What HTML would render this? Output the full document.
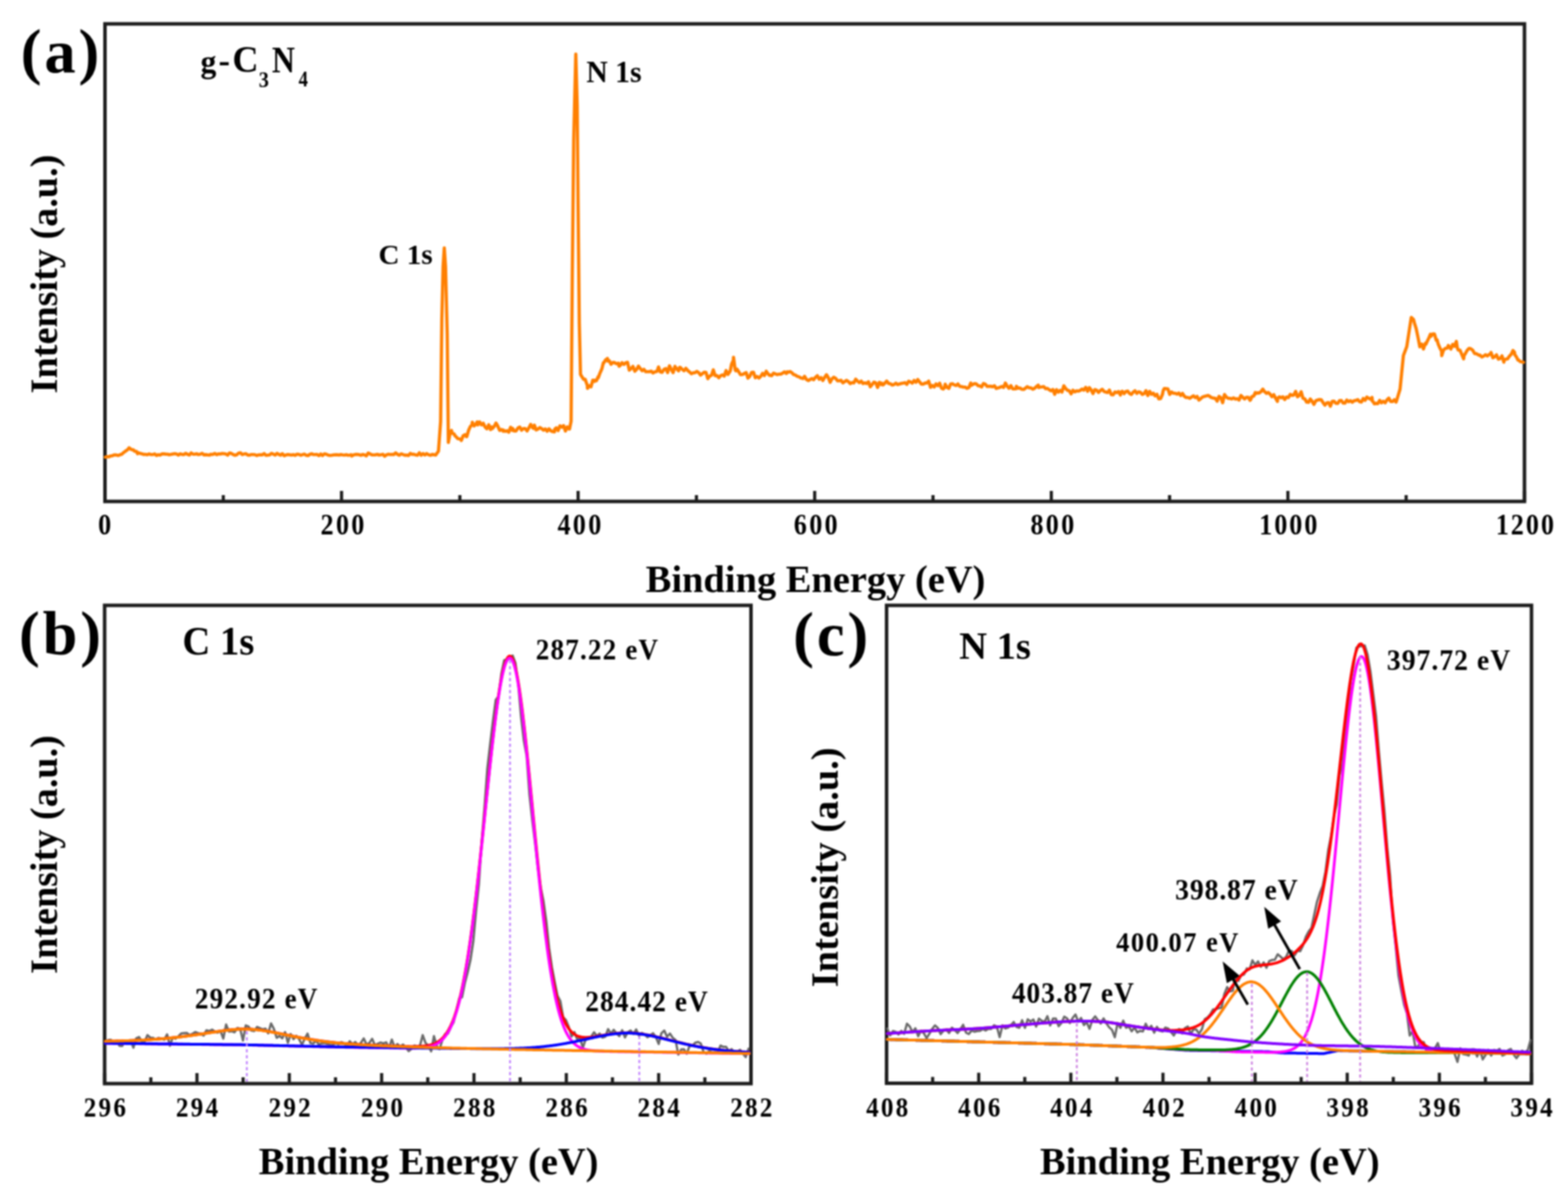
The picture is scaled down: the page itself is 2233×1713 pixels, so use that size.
<!DOCTYPE html>
<html><head><meta charset="utf-8"><title>XPS spectra of g-C3N4</title>
<style>html,body{margin:0;padding:0;background:#fff;overflow:hidden}svg{display:block}</style></head>
<body><svg width="2233" height="1713" viewBox="0 0 2233 1713" style="filter:blur(1px)">
<rect width="2233" height="1713" fill="#fff"/>
<g>
<rect x="149.5" y="34" width="2021.5" height="680" fill="none" stroke="#1c1c1c" stroke-width="5"/>
<line x1="149.5" y1="714" x2="149.5" y2="699" stroke="#1c1c1c" stroke-width="4.5"/>
<line x1="486.4" y1="714" x2="486.4" y2="699" stroke="#1c1c1c" stroke-width="4.5"/>
<line x1="823.3" y1="714" x2="823.3" y2="699" stroke="#1c1c1c" stroke-width="4.5"/>
<line x1="1160.2" y1="714" x2="1160.2" y2="699" stroke="#1c1c1c" stroke-width="4.5"/>
<line x1="1497.2" y1="714" x2="1497.2" y2="699" stroke="#1c1c1c" stroke-width="4.5"/>
<line x1="1834.1" y1="714" x2="1834.1" y2="699" stroke="#1c1c1c" stroke-width="4.5"/>
<line x1="2171.0" y1="714" x2="2171.0" y2="699" stroke="#1c1c1c" stroke-width="4.5"/>
<line x1="318.0" y1="714" x2="318.0" y2="705" stroke="#1c1c1c" stroke-width="4.5"/>
<line x1="654.9" y1="714" x2="654.9" y2="705" stroke="#1c1c1c" stroke-width="4.5"/>
<line x1="991.8" y1="714" x2="991.8" y2="705" stroke="#1c1c1c" stroke-width="4.5"/>
<line x1="1328.7" y1="714" x2="1328.7" y2="705" stroke="#1c1c1c" stroke-width="4.5"/>
<line x1="1665.6" y1="714" x2="1665.6" y2="705" stroke="#1c1c1c" stroke-width="4.5"/>
<line x1="2002.5" y1="714" x2="2002.5" y2="705" stroke="#1c1c1c" stroke-width="4.5"/>
<polyline points="150.0,651.0 152.6,650.2 155.2,650.4 157.8,649.2 160.0,649.0 160.4,648.6 163.0,647.7 165.6,647.9 168.2,648.6 170.8,647.6 172.0,647.0 173.4,646.9 176.0,644.4 178.6,642.6 179.0,642.0 181.2,640.9 183.8,637.7 185.0,638.5 186.4,639.8 189.0,640.6 190.0,640.5 191.6,642.4 194.2,642.8 196.0,646.0 196.8,644.5 199.4,645.6 202.0,646.2 204.6,647.2 205.0,647.0 207.2,647.0 209.8,647.5 212.4,646.4 215.0,647.3 217.6,647.3 220.2,646.4 222.8,648.5 225.4,647.5 228.0,648.0 230.6,646.4 233.2,646.3 235.8,646.6 238.4,646.8 241.0,647.5 243.6,647.1 246.2,646.5 248.8,646.0 251.4,646.4 254.0,648.0 256.6,646.2 259.2,647.1 261.8,647.3 264.4,645.5 267.0,646.9 269.6,648.0 272.2,645.0 274.8,646.6 277.4,646.8 280.0,646.1 282.6,647.3 285.2,646.8 287.8,645.5 290.4,647.6 293.0,647.4 295.6,647.7 298.2,648.1 300.0,646.8 300.8,647.1 303.4,646.9 306.0,645.7 308.6,647.4 311.2,646.3 313.8,646.5 316.4,645.7 319.0,646.0 321.6,646.4 324.2,648.1 326.8,645.1 329.4,645.6 332.0,647.2 334.6,648.3 337.2,647.5 339.8,645.3 342.4,644.7 345.0,647.3 347.6,646.4 350.2,646.0 352.8,647.9 355.4,648.1 358.0,647.2 360.6,647.3 363.2,647.5 365.8,648.6 368.4,647.7 371.0,647.6 373.6,647.7 376.2,645.8 378.8,648.3 381.4,648.1 384.0,647.7 386.6,645.5 389.2,646.7 391.8,648.0 394.4,645.6 397.0,647.1 399.6,648.2 400.0,647.3 402.2,646.1 404.8,648.8 407.4,647.8 410.0,647.2 412.6,647.6 415.2,647.9 417.8,647.4 420.4,648.4 423.0,646.8 425.6,647.0 428.2,648.3 430.8,647.4 433.4,646.6 436.0,648.2 438.6,648.7 441.2,647.0 443.8,646.1 446.4,647.3 449.0,647.3 451.6,647.1 454.2,648.7 456.8,646.5 459.4,648.6 462.0,646.3 464.6,646.7 467.2,648.0 469.8,648.5 472.4,648.2 475.0,647.8 477.6,647.6 480.2,647.6 482.8,648.0 485.4,647.3 488.0,647.7 490.6,648.0 493.2,647.5 495.8,648.2 498.4,648.0 500.0,647.5 501.0,649.3 503.6,647.8 506.2,647.1 508.8,647.1 511.4,647.5 514.0,648.3 516.6,647.1 519.2,647.8 521.8,649.1 524.4,645.1 527.0,646.4 529.6,647.6 532.2,647.8 534.8,647.6 537.4,647.0 540.0,648.0 542.6,647.6 545.2,646.9 547.8,649.5 550.4,647.7 553.0,646.8 555.6,647.2 558.2,647.1 560.8,647.3 563.4,644.9 566.0,646.9 568.6,648.2 571.2,646.2 573.8,647.2 576.4,648.1 579.0,648.0 581.6,648.6 584.2,645.7 586.8,646.9 589.4,646.9 592.0,647.8 594.6,648.2 597.2,644.8 599.8,648.2 600.0,647.2 602.4,645.9 605.0,647.8 607.6,645.9 610.2,647.4 612.8,648.3 615.4,647.1 618.0,647.4 620.6,647.9 621.0,647.2 623.2,644.2 624.4,642.5 625.8,623.3 627.5,600.0 628.4,523.2 629.2,455.0 631.0,380.0 632.7,353.0 633.6,366.5 634.5,380.0 636.2,448.0 636.9,476.0 638.0,580.0 638.5,630.0 638.8,628.4 640.0,622.0 641.4,614.9 643.0,613.0 644.0,616.8 646.6,617.8 648.0,620.6 649.2,621.6 651.8,624.6 654.4,625.0 656.7,625.8 657.0,627.2 659.6,620.4 662.2,618.9 664.0,621.7 664.8,621.6 667.4,612.5 670.0,607.1 672.3,605.0 672.6,601.2 675.2,606.5 677.8,603.7 679.6,600.8 680.4,605.0 683.0,600.8 685.6,604.9 685.8,605.0 688.2,602.7 690.8,608.0 693.4,610.6 696.0,604.9 698.6,611.6 700.0,608.0 701.2,610.3 703.8,607.1 706.4,602.4 709.0,607.0 711.6,612.9 714.2,611.5 716.6,614.0 716.8,612.4 719.4,614.2 722.0,613.4 724.6,615.4 727.2,608.3 729.8,612.9 730.0,610.0 732.4,613.7 735.0,613.6 737.6,609.5 740.2,608.1 742.8,612.5 745.4,610.3 748.0,610.3 750.6,613.6 753.2,609.3 755.8,604.3 758.4,609.0 760.0,610.0 761.0,605.4 763.6,612.2 766.2,611.0 768.8,608.8 771.4,610.4 774.0,612.5 776.6,610.8 779.2,614.0 781.8,610.6 784.4,613.4 787.0,614.6 789.6,615.0 790.0,611.0 792.2,609.3 794.8,613.2 797.4,606.3 800.0,608.3 802.6,606.1 805.2,613.7 807.8,607.9 810.4,611.0 811.0,611.0 813.0,601.4 813.3,600.0 815.0,393.0 815.6,335.1 817.0,200.0 818.2,150.8 820.0,77.0 820.8,106.2 822.0,150.0 823.3,293.0 823.4,302.8 825.0,460.0 826.0,502.9 826.7,533.0 828.6,536.3 831.2,540.3 833.3,540.0 833.8,541.4 836.4,548.7 836.7,553.0 839.0,549.3 841.6,550.8 844.2,541.4 846.7,543.0 846.8,541.4 849.4,542.1 851.7,536.7 852.0,538.1 854.6,530.8 855.0,530.0 857.2,525.0 859.2,516.7 859.8,516.9 862.4,512.5 865.0,510.5 865.6,514.2 867.6,513.5 870.2,518.6 872.8,516.1 875.4,516.4 878.0,517.9 880.6,517.2 881.6,521.5 883.2,520.4 885.8,516.4 888.4,518.9 891.0,516.7 893.6,515.8 896.0,526.3 896.2,527.1 898.8,524.8 901.4,521.7 904.0,528.5 906.6,526.1 909.2,521.3 911.8,524.8 914.4,527.8 917.0,526.0 919.6,529.3 922.2,529.3 924.8,529.2 927.4,528.5 930.0,531.1 932.6,529.5 935.2,529.1 936.0,528.0 937.8,522.5 940.4,529.6 943.0,530.2 945.6,525.8 948.2,524.9 950.8,530.5 953.4,520.9 956.0,526.0 958.6,530.5 961.2,521.7 963.8,525.4 966.4,528.0 967.9,523.0 969.0,523.2 971.6,526.0 974.2,527.9 976.8,524.5 979.4,527.6 982.0,529.6 984.6,532.1 987.0,531.0 987.2,530.9 989.8,530.7 992.4,528.9 995.0,530.7 997.6,534.0 1000.2,532.2 1002.8,530.0 1005.4,530.3 1008.0,539.2 1010.6,535.6 1013.2,534.5 1015.8,526.6 1018.4,534.9 1021.0,534.7 1023.6,537.9 1026.2,535.0 1028.8,533.9 1031.4,535.6 1031.8,534.3 1034.0,527.7 1036.6,533.2 1039.2,529.4 1040.0,528.0 1041.8,518.7 1044.4,512.9 1044.6,508.7 1047.0,526.8 1048.0,528.0 1049.6,525.7 1052.2,529.6 1054.0,532.7 1054.8,533.5 1057.4,533.3 1060.0,531.9 1062.6,530.6 1065.2,538.4 1067.8,535.8 1070.4,530.3 1073.0,530.1 1075.6,537.8 1078.2,536.1 1080.8,538.3 1083.4,535.9 1086.0,531.7 1088.6,534.7 1091.2,528.7 1093.8,532.4 1095.7,534.3 1096.4,534.0 1099.0,535.0 1101.6,531.4 1104.2,532.4 1106.8,533.4 1109.4,532.7 1112.0,532.8 1114.6,531.3 1117.2,529.5 1119.8,531.8 1121.3,529.5 1122.4,530.1 1125.0,529.0 1127.6,530.6 1130.2,533.3 1132.8,534.1 1135.4,535.9 1138.0,536.6 1140.6,538.2 1143.2,538.5 1143.6,539.0 1145.8,535.9 1148.4,540.2 1151.0,541.9 1153.6,540.4 1156.2,539.0 1158.8,540.7 1161.4,537.2 1164.0,535.0 1166.6,540.0 1169.2,537.6 1171.8,541.8 1174.4,537.4 1177.0,533.6 1179.6,537.7 1182.2,544.3 1184.8,539.5 1187.4,537.1 1190.0,538.7 1191.6,540.7 1192.6,542.1 1195.2,542.2 1197.8,541.6 1200.4,545.1 1203.0,543.3 1205.6,541.7 1208.2,543.4 1210.8,546.3 1213.4,544.8 1216.0,545.1 1218.6,540.0 1221.2,542.6 1223.8,544.9 1226.4,542.6 1229.0,546.2 1231.6,545.2 1234.2,546.2 1236.8,543.6 1239.4,550.7 1242.0,547.6 1244.6,544.1 1247.2,545.1 1249.8,551.6 1252.4,544.4 1255.0,547.6 1255.5,545.5 1257.6,548.0 1260.2,545.5 1262.8,542.6 1265.4,546.0 1268.0,546.4 1270.6,548.3 1273.2,547.5 1275.8,545.6 1278.4,547.6 1281.0,546.8 1283.6,546.0 1286.2,545.6 1288.8,544.9 1291.4,547.2 1294.0,542.9 1296.6,543.9 1299.2,545.5 1301.8,541.8 1304.4,544.4 1307.0,540.5 1309.6,543.8 1312.2,546.9 1314.8,546.9 1317.4,545.4 1319.4,545.5 1320.0,545.1 1322.6,542.8 1325.2,551.5 1327.8,548.9 1330.4,551.0 1333.0,546.7 1335.6,549.1 1338.2,545.7 1340.8,552.8 1343.4,553.8 1345.0,551.9 1346.0,547.1 1348.6,551.5 1351.2,553.0 1353.8,546.8 1356.4,546.4 1359.0,548.1 1361.6,548.9 1364.2,546.8 1366.8,550.2 1369.4,550.5 1372.0,551.2 1374.6,551.2 1377.2,553.0 1379.8,551.9 1382.4,545.5 1383.4,548.7 1385.0,547.6 1387.6,546.4 1390.2,546.5 1392.8,549.2 1395.4,549.6 1398.0,551.0 1400.6,546.0 1403.2,547.1 1405.8,550.3 1408.4,550.1 1411.0,550.0 1413.6,550.8 1416.2,549.3 1418.8,553.1 1421.4,552.4 1424.0,551.5 1426.6,550.3 1429.2,551.7 1431.8,545.5 1434.4,550.1 1437.0,552.8 1439.6,549.2 1442.2,553.6 1444.8,553.7 1447.3,553.5 1447.4,550.1 1450.0,552.7 1452.6,552.5 1455.2,554.3 1457.8,554.5 1460.4,552.8 1463.0,550.6 1465.6,552.2 1468.2,552.3 1470.8,554.2 1473.4,552.9 1476.0,550.3 1478.6,548.5 1479.3,551.9 1481.2,551.3 1483.8,550.9 1486.4,550.5 1489.0,553.4 1491.6,553.0 1494.2,555.0 1496.8,556.5 1499.4,554.7 1500.0,555.8 1502.0,561.5 1504.6,554.8 1507.2,558.3 1509.8,555.8 1512.4,558.2 1515.0,549.4 1517.6,553.3 1520.2,555.7 1522.8,556.5 1525.4,560.8 1528.0,555.7 1530.6,558.0 1533.2,556.6 1535.8,557.0 1538.4,555.8 1541.0,554.0 1543.6,555.6 1546.2,551.6 1548.0,554.2 1548.8,557.2 1551.4,552.0 1554.0,555.4 1556.6,560.4 1559.2,554.8 1561.8,555.6 1564.4,558.8 1567.0,556.2 1569.6,554.3 1572.2,557.3 1574.8,558.3 1577.4,558.9 1580.0,555.5 1582.6,562.0 1585.2,562.1 1587.8,558.2 1590.4,559.1 1593.0,557.6 1595.6,562.5 1595.9,559.0 1598.2,557.1 1600.8,560.5 1603.4,557.5 1606.0,556.9 1608.6,560.3 1611.2,561.7 1613.8,558.3 1616.4,556.5 1619.0,560.1 1621.6,557.9 1624.2,558.7 1626.8,561.6 1629.4,560.5 1632.0,556.3 1634.6,563.2 1637.2,557.4 1637.4,557.4 1639.8,561.4 1642.4,559.9 1645.0,563.6 1647.6,561.5 1650.2,568.0 1652.8,567.6 1655.4,561.7 1656.6,556.0 1658.0,553.4 1660.6,553.4 1663.2,553.8 1665.8,561.6 1668.4,558.2 1671.0,559.9 1673.6,560.0 1676.2,561.3 1678.8,559.6 1681.4,563.1 1684.0,560.2 1686.6,564.3 1689.2,566.0 1691.8,566.0 1694.4,567.1 1697.0,565.3 1699.6,563.6 1702.2,566.2 1704.8,564.5 1707.4,569.6 1710.0,567.6 1712.6,565.3 1715.2,564.4 1717.8,563.8 1720.4,563.1 1723.0,564.5 1723.7,565.4 1725.6,566.2 1728.2,566.9 1730.8,567.2 1733.4,571.2 1736.0,564.3 1738.6,566.3 1741.2,573.4 1743.8,561.8 1746.4,565.4 1749.0,567.2 1751.6,567.3 1754.2,568.1 1756.8,566.6 1759.4,568.3 1762.0,567.7 1764.6,569.6 1767.2,563.1 1769.8,565.7 1772.4,568.1 1775.0,565.7 1777.6,565.8 1780.2,570.1 1781.3,568.6 1782.8,564.7 1785.4,564.0 1787.7,559.0 1788.0,560.8 1790.6,559.4 1793.2,559.6 1795.8,557.7 1798.4,554.1 1800.5,557.4 1801.0,557.6 1803.6,560.1 1806.2,558.9 1808.8,561.3 1811.4,564.8 1814.0,562.0 1816.6,567.1 1819.2,571.5 1819.6,567.0 1821.8,565.2 1824.4,566.4 1827.0,565.1 1829.6,568.9 1832.2,565.3 1834.8,566.2 1837.4,561.7 1840.0,562.9 1842.6,562.4 1845.2,557.4 1847.8,565.0 1850.4,563.1 1851.6,560.6 1853.0,557.9 1855.6,567.1 1858.2,568.0 1860.8,572.5 1861.2,571.8 1863.4,572.8 1866.0,568.2 1868.6,571.5 1871.2,575.8 1873.8,570.7 1876.4,569.7 1879.0,568.9 1881.6,569.3 1884.2,573.3 1886.8,576.8 1889.4,573.7 1892.0,573.3 1894.6,578.4 1897.2,571.6 1899.8,571.3 1902.4,574.3 1905.0,574.5 1907.6,570.6 1910.2,570.3 1912.8,574.0 1915.4,574.0 1915.5,573.4 1918.0,569.7 1920.6,571.9 1923.2,570.6 1925.8,572.6 1928.4,570.6 1931.0,570.2 1933.6,569.0 1936.2,572.0 1938.8,572.4 1941.4,567.5 1944.0,570.0 1946.6,565.5 1949.2,567.1 1951.8,568.3 1953.9,566.0 1954.4,571.2 1957.0,573.8 1957.1,575.0 1959.6,574.4 1962.2,574.7 1964.8,570.1 1967.4,573.5 1970.0,571.4 1972.6,573.6 1975.2,569.5 1977.8,566.9 1980.4,571.6 1983.0,571.8 1985.6,569.3 1988.2,572.5 1989.0,570.2 1990.8,564.2 1993.4,555.5 1993.8,554.2 1996.0,532.2 1998.6,506.3 2001.2,499.4 2003.4,493.5 2003.8,490.9 2006.4,474.0 2009.0,457.2 2009.8,452.0 2011.6,453.7 2013.0,455.0 2014.2,459.6 2016.8,468.0 2019.4,480.4 2022.0,493.8 2022.6,492.0 2024.6,489.9 2027.2,496.9 2029.8,488.9 2030.6,490.3 2032.4,486.3 2035.0,480.9 2037.0,476.0 2037.6,479.1 2040.2,475.6 2042.8,475.6 2045.4,484.5 2046.6,484.0 2048.0,489.5 2050.6,495.6 2053.0,500.0 2053.2,506.4 2055.8,498.2 2058.4,496.1 2061.0,495.7 2062.6,492.0 2063.6,493.2 2066.2,497.0 2068.8,490.4 2071.4,493.1 2074.0,486.1 2075.3,495.0 2076.6,498.5 2079.2,498.6 2081.8,504.9 2084.4,511.0 2085.0,506.3 2087.0,503.2 2089.6,498.7 2091.3,496.7 2092.2,496.0 2094.8,496.7 2097.4,498.8 2100.0,503.5 2102.6,503.6 2105.2,505.2 2107.3,506.3 2107.8,505.8 2110.4,508.3 2113.0,507.0 2115.6,505.1 2118.2,506.9 2120.8,504.6 2123.3,504.7 2123.4,501.9 2126.0,509.4 2128.6,507.9 2131.2,505.3 2133.8,511.4 2136.4,510.5 2139.0,506.8 2141.6,515.7 2142.5,512.0 2144.2,511.6 2146.8,511.1 2149.4,507.4 2152.0,504.7 2154.6,499.2 2156.8,501.5 2157.2,504.9 2159.8,508.6 2161.6,512.7 2162.4,512.3 2165.0,514.9 2167.6,515.3 2169.6,515.9" fill="none" stroke="#ff7f00" stroke-width="4.6" stroke-linejoin="round" stroke-linecap="round" />
<text x="29.58" y="103.20" style="font-family:'Liberation Serif','Times New Roman',serif;font-weight:bold;font-size:89px;letter-spacing:4px" fill="#000">(a)</text>
<text transform="translate(285.42,102.83) scale(0.9601,1)" style="font-family:'Liberation Serif','Times New Roman',serif;font-weight:bold;font-size:47.14px" fill="#000">g</text>
<text transform="translate(311.24,102.98) scale(0.9130,1)" style="font-family:'Liberation Serif','Times New Roman',serif;font-weight:bold;font-size:53.50px" fill="#000">-</text>
<text transform="translate(331.03,101.97) scale(0.9668,1)" style="font-family:'Liberation Serif','Times New Roman',serif;font-weight:bold;font-size:53.27px" fill="#000">C</text>
<text transform="translate(368.50,123.59) scale(0.9451,1)" style="font-family:'Liberation Serif','Times New Roman',serif;font-weight:bold;font-size:30.65px" fill="#000">3</text>
<text transform="translate(387.19,102.50) scale(0.8476,1)" style="font-family:'Liberation Serif','Times New Roman',serif;font-weight:bold;font-size:53.52px" fill="#000">N</text>
<text transform="translate(425.13,123.00) scale(0.8631,1)" style="font-family:'Liberation Serif','Times New Roman',serif;font-weight:bold;font-size:30.70px" fill="#000">4</text>
<text transform="translate(539.01,375.99) scale(1.0215,1)" style="font-family:'Liberation Serif','Times New Roman',serif;font-weight:bold;font-size:40.62px" fill="#000">C 1s</text>
<text transform="translate(834.95,117.15) scale(0.9426,1)" style="font-family:'Liberation Serif','Times New Roman',serif;font-weight:bold;font-size:44.93px" fill="#000">N 1s</text>
<text transform="translate(139.75,761.30) scale(0.8900,1)" style="font-family:'Liberation Serif','Times New Roman',serif;font-weight:bold;font-size:41.70px;letter-spacing:0.000px" fill="#000">0</text>
<text transform="translate(456.58,761.30) scale(0.8900,1)" style="font-family:'Liberation Serif','Times New Roman',serif;font-weight:bold;font-size:41.70px;letter-spacing:3.659px" fill="#000">200</text>
<text transform="translate(793.96,761.30) scale(0.8900,1)" style="font-family:'Liberation Serif','Times New Roman',serif;font-weight:bold;font-size:41.70px;letter-spacing:3.731px" fill="#000">400</text>
<text transform="translate(1130.55,761.30) scale(0.8900,1)" style="font-family:'Liberation Serif','Times New Roman',serif;font-weight:bold;font-size:41.70px;letter-spacing:3.680px" fill="#000">600</text>
<text transform="translate(1467.47,761.30) scale(0.8900,1)" style="font-family:'Liberation Serif','Times New Roman',serif;font-weight:bold;font-size:41.70px;letter-spacing:3.680px" fill="#000">800</text>
<text transform="translate(1793.21,761.30) scale(0.8900,1)" style="font-family:'Liberation Serif','Times New Roman',serif;font-weight:bold;font-size:41.70px;letter-spacing:3.233px" fill="#000">1000</text>
<text transform="translate(2130.13,761.30) scale(0.8900,1)" style="font-family:'Liberation Serif','Times New Roman',serif;font-weight:bold;font-size:41.70px;letter-spacing:3.233px" fill="#000">1200</text>
<text x="919.62" y="843.30" style="font-family:'Liberation Serif','Times New Roman',serif;font-weight:bold;font-size:54.75px;letter-spacing:0px" fill="#000">Binding Energy (eV)</text>
<text transform="translate(80.50,560.15) rotate(-90)" style="font-family:'Liberation Serif','Times New Roman',serif;font-weight:bold;font-size:54.4px" fill="#000">Intensity (a.u.)</text>
<rect x="149" y="862" width="920.5" height="681" fill="none" stroke="#1c1c1c" stroke-width="5"/>
<line x1="149.0" y1="1543" x2="149.0" y2="1528" stroke="#1c1c1c" stroke-width="4.5"/>
<line x1="280.5" y1="1543" x2="280.5" y2="1528" stroke="#1c1c1c" stroke-width="4.5"/>
<line x1="412.0" y1="1543" x2="412.0" y2="1528" stroke="#1c1c1c" stroke-width="4.5"/>
<line x1="543.5" y1="1543" x2="543.5" y2="1528" stroke="#1c1c1c" stroke-width="4.5"/>
<line x1="675.0" y1="1543" x2="675.0" y2="1528" stroke="#1c1c1c" stroke-width="4.5"/>
<line x1="806.5" y1="1543" x2="806.5" y2="1528" stroke="#1c1c1c" stroke-width="4.5"/>
<line x1="938.0" y1="1543" x2="938.0" y2="1528" stroke="#1c1c1c" stroke-width="4.5"/>
<line x1="1069.5" y1="1543" x2="1069.5" y2="1528" stroke="#1c1c1c" stroke-width="4.5"/>
<line x1="214.8" y1="1543" x2="214.8" y2="1534" stroke="#1c1c1c" stroke-width="4.5"/>
<line x1="346.2" y1="1543" x2="346.2" y2="1534" stroke="#1c1c1c" stroke-width="4.5"/>
<line x1="477.8" y1="1543" x2="477.8" y2="1534" stroke="#1c1c1c" stroke-width="4.5"/>
<line x1="609.2" y1="1543" x2="609.2" y2="1534" stroke="#1c1c1c" stroke-width="4.5"/>
<line x1="740.8" y1="1543" x2="740.8" y2="1534" stroke="#1c1c1c" stroke-width="4.5"/>
<line x1="872.2" y1="1543" x2="872.2" y2="1534" stroke="#1c1c1c" stroke-width="4.5"/>
<line x1="1003.8" y1="1543" x2="1003.8" y2="1534" stroke="#1c1c1c" stroke-width="4.5"/>
<polyline points="150.0,1485.6 154.0,1481.0 158.0,1480.7 162.0,1485.4 166.0,1481.8 170.0,1489.1 174.0,1489.4 178.0,1482.1 182.0,1482.7 186.0,1481.3 190.0,1491.9 194.0,1478.5 198.0,1476.7 202.0,1483.3 206.0,1483.3 210.0,1474.0 214.0,1477.5 218.0,1477.9 222.0,1480.3 226.0,1477.9 230.0,1479.3 234.0,1480.5 238.0,1472.8 242.0,1489.0 246.0,1477.3 250.0,1479.1 254.0,1475.6 258.0,1471.7 262.0,1471.1 266.0,1470.9 270.0,1473.7 274.0,1472.2 278.0,1469.6 282.0,1471.0 286.0,1472.1 290.0,1474.6 294.0,1467.1 298.0,1468.1 302.0,1466.2 306.0,1468.8 310.0,1470.5 314.0,1467.9 318.0,1478.9 322.0,1458.8 326.0,1468.9 330.0,1468.3 334.0,1469.9 338.0,1463.8 342.0,1464.9 346.0,1481.7 350.0,1460.1 354.0,1461.8 358.0,1467.5 362.0,1468.1 366.0,1462.3 370.0,1463.9 374.0,1465.6 378.0,1464.7 382.0,1471.3 386.0,1457.3 390.0,1465.1 394.0,1477.8 398.0,1475.1 402.0,1478.5 406.0,1469.6 410.0,1484.8 414.0,1472.4 418.0,1479.7 422.0,1474.9 426.0,1479.7 430.0,1487.6 434.0,1479.1 438.0,1471.8 442.0,1485.1 446.0,1486.2 450.0,1481.9 454.0,1487.2 458.0,1485.8 462.0,1485.3 466.0,1486.4 470.0,1488.0 474.0,1487.6 478.0,1485.5 482.0,1487.2 486.0,1483.9 490.0,1485.7 494.0,1490.8 498.0,1482.7 502.0,1487.1 506.0,1483.8 510.0,1488.4 514.0,1484.9 518.0,1478.7 522.0,1487.4 526.0,1485.1 530.0,1479.2 534.0,1488.6 538.0,1486.1 542.0,1484.4 546.0,1485.8 550.0,1484.1 554.0,1492.1 558.0,1480.3 562.0,1491.2 566.0,1486.6 570.0,1490.1 574.0,1487.4 578.0,1491.6 582.0,1496.8 586.0,1493.5 590.0,1488.9 594.0,1489.9 598.0,1489.1 602.0,1474.0 606.0,1485.1 610.0,1488.6 614.0,1497.0 618.0,1475.4 622.0,1489.2 626.0,1493.9 630.0,1480.9 634.0,1472.4 638.0,1471.7 642.0,1462.5 646.0,1455.7 650.0,1438.6 654.0,1421.8 658.0,1420.0 662.0,1399.9 666.0,1384.6 670.0,1366.9 674.0,1340.8 678.0,1297.0 682.0,1259.1 686.0,1197.7 690.0,1149.2 694.0,1094.4 698.0,1059.6 702.0,1026.6 706.0,996.5 710.0,991.5 714.0,959.3 718.0,940.1 722.0,939.1 726.0,937.6 730.0,933.4 734.0,943.8 738.0,974.4 742.0,1020.2 746.0,1054.8 750.0,1076.4 754.0,1131.6 758.0,1168.1 762.0,1200.5 766.0,1236.7 770.0,1263.5 774.0,1283.1 778.0,1311.7 782.0,1350.0 786.0,1377.2 790.0,1398.3 794.0,1418.1 798.0,1425.4 802.0,1448.4 806.0,1452.7 810.0,1462.4 814.0,1475.9 818.0,1469.6 822.0,1480.0 826.0,1477.5 830.0,1492.1 834.0,1480.0 838.0,1479.5 842.0,1476.0 846.0,1469.9 850.0,1475.3 854.0,1471.8 858.0,1477.5 862.0,1476.2 866.0,1465.4 870.0,1471.8 874.0,1466.4 878.0,1471.5 882.0,1475.4 886.0,1466.9 890.0,1477.3 894.0,1469.9 898.0,1467.3 902.0,1472.3 906.0,1465.9 910.0,1474.9 914.0,1470.9 918.0,1472.8 922.0,1477.0 926.0,1474.3 930.0,1471.2 934.0,1476.6 938.0,1486.5 942.0,1471.1 946.0,1467.5 950.0,1476.3 954.0,1471.7 958.0,1477.7 962.0,1480.7 966.0,1501.7 970.0,1494.4 974.0,1494.0 978.0,1500.4 982.0,1489.4 986.0,1489.2 990.0,1484.9 994.0,1483.7 998.0,1485.9 1002.0,1497.9 1006.0,1500.4 1010.0,1496.5 1014.0,1498.5 1018.0,1498.0 1022.0,1499.3 1026.0,1488.8 1030.0,1490.7 1034.0,1490.6 1038.0,1496.6 1042.0,1493.9 1046.0,1500.4 1050.0,1497.7 1054.0,1494.9 1058.0,1500.5 1062.0,1505.3 1066.0,1493.2" fill="none" stroke="#686868" stroke-width="3.2" stroke-linejoin="round" stroke-linecap="round" />
<polyline points="150.0,1482.7 151.0,1482.7 152.0,1482.7 153.0,1482.6 154.0,1482.6 155.0,1482.6 156.0,1482.6 157.0,1482.6 158.0,1482.5 159.0,1482.5 160.0,1482.5 161.0,1482.5 162.0,1482.5 163.0,1482.4 164.0,1482.4 165.0,1482.4 166.0,1482.4 167.0,1482.3 168.0,1482.3 169.0,1482.3 170.0,1482.3 171.0,1482.2 172.0,1482.2 173.0,1482.2 174.0,1482.1 175.0,1482.1 176.0,1482.1 177.0,1482.1 178.0,1482.0 179.0,1482.0 180.0,1482.0 181.0,1481.9 182.0,1481.9 183.0,1481.9 184.0,1481.8 185.0,1481.8 186.0,1481.7 187.0,1481.7 188.0,1481.7 189.0,1481.6 190.0,1481.6 191.0,1481.5 192.0,1481.5 193.0,1481.5 194.0,1481.4 195.0,1481.4 196.0,1481.3 197.0,1481.3 198.0,1481.2 199.0,1481.2 200.0,1481.1 201.0,1481.1 202.0,1481.0 203.0,1481.0 204.0,1480.9 205.0,1480.9 206.0,1480.8 207.0,1480.8 208.0,1480.7 209.0,1480.6 210.0,1480.6 211.0,1480.5 212.0,1480.5 213.0,1480.4 214.0,1480.3 215.0,1480.3 216.0,1480.2 217.0,1480.1 218.0,1480.1 219.0,1480.0 220.0,1479.9 221.0,1479.9 222.0,1479.8 223.0,1479.7 224.0,1479.6 225.0,1479.6 226.0,1479.5 227.0,1479.4 228.0,1479.3 229.0,1479.2 230.0,1479.1 231.0,1479.1 232.0,1479.0 233.0,1478.9 234.0,1478.8 235.0,1478.7 236.0,1478.6 237.0,1478.5 238.0,1478.4 239.0,1478.3 240.0,1478.2 241.0,1478.1 242.0,1478.0 243.0,1477.9 244.0,1477.8 245.0,1477.7 246.0,1477.6 247.0,1477.5 248.0,1477.4 249.0,1477.3 250.0,1477.2 251.0,1477.1 252.0,1477.0 253.0,1476.9 254.0,1476.8 255.0,1476.6 256.0,1476.5 257.0,1476.4 258.0,1476.3 259.0,1476.2 260.0,1476.0 261.0,1475.9 262.0,1475.8 263.0,1475.7 264.0,1475.5 265.0,1475.4 266.0,1475.3 267.0,1475.1 268.0,1475.0 269.0,1474.9 270.0,1474.7 271.0,1474.6 272.0,1474.5 273.0,1474.3 274.0,1474.2 275.0,1474.0 276.0,1473.9 277.0,1473.7 278.0,1473.6 279.0,1473.5 280.0,1473.3 281.0,1473.2 282.0,1473.0 283.0,1472.9 284.0,1472.7 285.0,1472.6 286.0,1472.4 287.0,1472.3 288.0,1472.1 289.0,1471.9 290.0,1471.8 291.0,1471.6 292.0,1471.5 293.0,1471.3 294.0,1471.2 295.0,1471.0 296.0,1470.9 297.0,1470.7 298.0,1470.6 299.0,1470.4 300.0,1470.2 301.0,1470.1 302.0,1469.9 303.0,1469.8 304.0,1469.6 305.0,1469.5 306.0,1469.3 307.0,1469.2 308.0,1469.0 309.0,1468.9 310.0,1468.7 311.0,1468.6 312.0,1468.4 313.0,1468.3 314.0,1468.2 315.0,1468.0 316.0,1467.9 317.0,1467.7 318.0,1467.6 319.0,1467.5 320.0,1467.3 321.0,1467.2 322.0,1467.1 323.0,1467.0 324.0,1466.9 325.0,1466.7 326.0,1466.6 327.0,1466.5 328.0,1466.4 329.0,1466.3 330.0,1466.2 331.0,1466.1 332.0,1466.0 333.0,1466.0 334.0,1465.9 335.0,1465.8 336.0,1465.7 337.0,1465.7 338.0,1465.6 339.0,1465.5 340.0,1465.5 341.0,1465.4 342.0,1465.4 343.0,1465.3 344.0,1465.3 345.0,1465.3 346.0,1465.3 347.0,1465.3 348.0,1465.3 349.0,1465.3 350.0,1465.3 351.0,1465.3 352.0,1465.3 353.0,1465.3 354.0,1465.4 355.0,1465.4 356.0,1465.5 357.0,1465.5 358.0,1465.6 359.0,1465.6 360.0,1465.7 361.0,1465.8 362.0,1465.9 363.0,1465.9 364.0,1466.0 365.0,1466.1 366.0,1466.2 367.0,1466.3 368.0,1466.5 369.0,1466.6 370.0,1466.7 371.0,1466.8 372.0,1467.0 373.0,1467.1 374.0,1467.3 375.0,1467.4 376.0,1467.6 377.0,1467.7 378.0,1467.9 379.0,1468.0 380.0,1468.2 381.0,1468.4 382.0,1468.5 383.0,1468.7 384.0,1468.9 385.0,1469.1 386.0,1469.3 387.0,1469.4 388.0,1469.6 389.0,1469.8 390.0,1470.0 391.0,1470.2 392.0,1470.4 393.0,1470.6 394.0,1470.8 395.0,1471.0 396.0,1471.2 397.0,1471.4 398.0,1471.6 399.0,1471.8 400.0,1472.0 401.0,1472.2 402.0,1472.4 403.0,1472.6 404.0,1472.8 405.0,1473.0 406.0,1473.2 407.0,1473.4 408.0,1473.6 409.0,1473.8 410.0,1474.0 411.0,1474.2 412.0,1474.4 413.0,1474.6 414.0,1474.8 415.0,1475.0 416.0,1475.2 417.0,1475.4 418.0,1475.6 419.0,1475.8 420.0,1476.0 421.0,1476.2 422.0,1476.4 423.0,1476.6 424.0,1476.8 425.0,1477.0 426.0,1477.1 427.0,1477.3 428.0,1477.5 429.0,1477.7 430.0,1477.9 431.0,1478.0 432.0,1478.2 433.0,1478.4 434.0,1478.6 435.0,1478.7 436.0,1478.9 437.0,1479.1 438.0,1479.3 439.0,1479.4 440.0,1479.6 441.0,1479.7 442.0,1479.9 443.0,1480.1 444.0,1480.2 445.0,1480.4 446.0,1480.5 447.0,1480.7 448.0,1480.8 449.0,1481.0 450.0,1481.1 451.0,1481.3 452.0,1481.4 453.0,1481.6 454.0,1481.7 455.0,1481.9 456.0,1482.0 457.0,1482.1 458.0,1482.3 459.0,1482.4 460.0,1482.5 461.0,1482.7 462.0,1482.8 463.0,1482.9 464.0,1483.0 465.0,1483.2 466.0,1483.3 467.0,1483.4 468.0,1483.5 469.0,1483.7 470.0,1483.8 471.0,1483.9 472.0,1484.0 473.0,1484.1 474.0,1484.2 475.0,1484.3 476.0,1484.5 477.0,1484.6 478.0,1484.7 479.0,1484.8 480.0,1484.9 481.0,1485.0 482.0,1485.1 483.0,1485.2 484.0,1485.3 485.0,1485.3 486.0,1485.4 487.0,1485.5 488.0,1485.6 489.0,1485.7 490.0,1485.8 491.0,1485.9 492.0,1485.9 493.0,1486.0 494.0,1486.1 495.0,1486.2 496.0,1486.3 497.0,1486.3 498.0,1486.4 499.0,1486.5 500.0,1486.6 501.0,1486.6 502.0,1486.7 503.0,1486.8 504.0,1486.8 505.0,1486.9 506.0,1487.0 507.0,1487.0 508.0,1487.1 509.0,1487.2 510.0,1487.2 511.0,1487.3 512.0,1487.4 513.0,1487.4 514.0,1487.5 515.0,1487.5 516.0,1487.6 517.0,1487.7 518.0,1487.7 519.0,1487.8 520.0,1487.8 521.0,1487.9 522.0,1487.9 523.0,1488.0 524.0,1488.0 525.0,1488.1 526.0,1488.1 527.0,1488.2 528.0,1488.2 529.0,1488.3 530.0,1488.3 531.0,1488.4 532.0,1488.4 533.0,1488.5 534.0,1488.5 535.0,1488.6 536.0,1488.6 537.0,1488.7 538.0,1488.7 539.0,1488.7 540.0,1488.8 541.0,1488.8 542.0,1488.9 543.0,1488.9 544.0,1489.0 545.0,1489.0 546.0,1489.0 547.0,1489.1 548.0,1489.1 549.0,1489.2 550.0,1489.2 551.0,1489.2 552.0,1489.3 553.0,1489.3 554.0,1489.3 555.0,1489.4 556.0,1489.4 557.0,1489.5 558.0,1489.5 559.0,1489.5 560.0,1489.6 561.0,1489.6 562.0,1489.6 563.0,1489.7 564.0,1489.7 565.0,1489.7 566.0,1489.8 567.0,1489.8 568.0,1489.8 569.0,1489.8 570.0,1489.9 571.0,1489.9 572.0,1489.9 573.0,1490.0 574.0,1490.0 575.0,1490.0 576.0,1490.0 577.0,1490.0 578.0,1490.1 579.0,1490.1 580.0,1490.1 581.0,1490.1 582.0,1490.1 583.0,1490.2 584.0,1490.2 585.0,1490.2 586.0,1490.2 587.0,1490.2 588.0,1490.2 589.0,1490.2 590.0,1490.2 591.0,1490.2 592.0,1490.2 593.0,1490.1 594.0,1490.1 595.0,1490.1 596.0,1490.1 597.0,1490.0 598.0,1490.0 599.0,1489.9 600.0,1489.9 601.0,1489.8 602.0,1489.7 603.0,1489.6 604.0,1489.6 605.0,1489.4 606.0,1489.3 607.0,1489.2 608.0,1489.0 609.0,1488.9 610.0,1488.7 611.0,1488.5 612.0,1488.3 613.0,1488.0 614.0,1487.7 615.0,1487.4 616.0,1487.1 617.0,1486.8 618.0,1486.4 619.0,1486.0 620.0,1485.5 621.0,1485.0 622.0,1484.5 623.0,1483.9 624.0,1483.3 625.0,1482.6 626.0,1481.9 627.0,1481.1 628.0,1480.3 629.0,1479.4 630.0,1478.4 631.0,1477.4 632.0,1476.3 633.0,1475.1 634.0,1473.9 635.0,1472.5 636.0,1471.1 637.0,1469.5 638.0,1467.9 639.0,1466.2 640.0,1464.3 641.0,1462.4 642.0,1460.3 643.0,1458.1 644.0,1455.8 645.0,1453.4 646.0,1450.8 647.0,1448.1 648.0,1445.2 649.0,1442.2 650.0,1439.0 651.0,1435.6 652.0,1432.1 653.0,1428.5 654.0,1424.6 655.0,1420.6 656.0,1416.4 657.0,1412.0 658.0,1407.4 659.0,1402.6 660.0,1397.7 661.0,1392.5 662.0,1387.2 663.0,1381.6 664.0,1375.8 665.0,1369.9 666.0,1363.7 667.0,1357.3 668.0,1350.7 669.0,1344.0 670.0,1337.0 671.0,1329.8 672.0,1322.4 673.0,1314.9 674.0,1307.1 675.0,1299.2 676.0,1291.1 677.0,1282.8 678.0,1274.4 679.0,1265.8 680.0,1257.0 681.0,1248.1 682.0,1239.1 683.0,1229.9 684.0,1220.7 685.0,1211.3 686.0,1201.9 687.0,1192.4 688.0,1182.8 689.0,1173.2 690.0,1163.6 691.0,1153.9 692.0,1144.3 693.0,1134.6 694.0,1125.0 695.0,1115.4 696.0,1105.9 697.0,1096.5 698.0,1087.2 699.0,1078.0 700.0,1069.0 701.0,1060.1 702.0,1051.3 703.0,1042.8 704.0,1034.4 705.0,1026.3 706.0,1018.5 707.0,1010.9 708.0,1003.5 709.0,996.5 710.0,989.8 711.0,983.4 712.0,977.3 713.0,971.6 714.0,966.3 715.0,961.3 716.0,956.7 717.0,952.5 718.0,948.8 719.0,945.4 720.0,942.5 721.0,940.0 722.0,938.0 723.0,936.4 724.0,935.2 725.0,934.5 726.0,934.3 727.0,934.5 728.0,935.3 729.0,936.6 730.0,938.4 731.0,940.7 732.0,943.6 733.0,946.9 734.0,950.7 735.0,955.1 736.0,959.8 737.0,965.1 738.0,970.8 739.0,976.9 740.0,983.4 741.0,990.3 742.0,997.5 743.0,1005.1 744.0,1013.1 745.0,1021.4 746.0,1029.9 747.0,1038.8 748.0,1047.8 749.0,1057.1 750.0,1066.7 751.0,1076.3 752.0,1086.2 753.0,1096.2 754.0,1106.3 755.0,1116.5 756.0,1126.7 757.0,1137.0 758.0,1147.4 759.0,1157.7 760.0,1168.0 761.0,1178.3 762.0,1188.6 763.0,1198.8 764.0,1208.9 765.0,1218.9 766.0,1228.8 767.0,1238.5 768.0,1248.2 769.0,1257.6 770.0,1266.9 771.0,1276.0 772.0,1284.9 773.0,1293.7 774.0,1302.2 775.0,1310.5 776.0,1318.6 777.0,1326.5 778.0,1334.1 779.0,1341.5 780.0,1348.7 781.0,1355.6 782.0,1362.3 783.0,1368.8 784.0,1375.0 785.0,1381.0 786.0,1386.8 787.0,1392.3 788.0,1397.6 789.0,1402.6 790.0,1407.5 791.0,1412.1 792.0,1416.5 793.0,1420.7 794.0,1424.6 795.0,1428.4 796.0,1432.0 797.0,1435.4 798.0,1438.6 799.0,1441.6 800.0,1444.4 801.0,1447.1 802.0,1449.6 803.0,1452.0 804.0,1454.2 805.0,1456.3 806.0,1458.2 807.0,1460.0 808.0,1461.7 809.0,1463.2 810.0,1464.7 811.0,1466.0 812.0,1467.2 813.0,1468.4 814.0,1469.4 815.0,1470.4 816.0,1471.2 817.0,1472.0 818.0,1472.7 819.0,1473.4 820.0,1474.0 821.0,1474.5 822.0,1475.0 823.0,1475.4 824.0,1475.7 825.0,1476.0 826.0,1476.3 827.0,1476.5 828.0,1476.7 829.0,1476.9 830.0,1477.0 831.0,1477.1 832.0,1477.2 833.0,1477.2 834.0,1477.3 835.0,1477.3 836.0,1477.2 837.0,1477.2 838.0,1477.1 839.0,1477.1 840.0,1477.0 841.0,1476.9 842.0,1476.8 843.0,1476.7 844.0,1476.5 845.0,1476.4 846.0,1476.3 847.0,1476.1 848.0,1476.0 849.0,1475.8 850.0,1475.7 851.0,1475.5 852.0,1475.3 853.0,1475.2 854.0,1475.0 855.0,1474.8 856.0,1474.6 857.0,1474.5 858.0,1474.3 859.0,1474.1 860.0,1474.0 861.0,1473.8 862.0,1473.6 863.0,1473.5 864.0,1473.3 865.0,1473.1 866.0,1473.0 867.0,1472.8 868.0,1472.7 869.0,1472.5 870.0,1472.4 871.0,1472.3 872.0,1472.1 873.0,1472.0 874.0,1471.9 875.0,1471.8 876.0,1471.7 877.0,1471.5 878.0,1471.4 879.0,1471.4 880.0,1471.3 881.0,1471.2 882.0,1471.1 883.0,1471.0 884.0,1471.0 885.0,1470.9 886.0,1470.9 887.0,1470.8 888.0,1470.8 889.0,1470.8 890.0,1470.7 891.0,1470.7 892.0,1470.7 893.0,1470.7 894.0,1470.7 895.0,1470.7 896.0,1470.8 897.0,1470.8 898.0,1470.8 899.0,1470.9 900.0,1470.9 901.0,1471.0 902.0,1471.0 903.0,1471.1 904.0,1471.2 905.0,1471.3 906.0,1471.4 907.0,1471.4 908.0,1471.6 909.0,1471.7 910.0,1471.8 911.0,1471.9 912.0,1472.0 913.0,1472.2 914.0,1472.3 915.0,1472.5 916.0,1472.6 917.0,1472.8 918.0,1472.9 919.0,1473.1 920.0,1473.3 921.0,1473.4 922.0,1473.6 923.0,1473.8 924.0,1474.0 925.0,1474.2 926.0,1474.4 927.0,1474.6 928.0,1474.8 929.0,1475.0 930.0,1475.2 931.0,1475.5 932.0,1475.7 933.0,1475.9 934.0,1476.1 935.0,1476.4 936.0,1476.6 937.0,1476.8 938.0,1477.1 939.0,1477.3 940.0,1477.6 941.0,1477.8 942.0,1478.0 943.0,1478.3 944.0,1478.5 945.0,1478.8 946.0,1479.0 947.0,1479.3 948.0,1479.5 949.0,1479.8 950.0,1480.0 951.0,1480.3 952.0,1480.5 953.0,1480.8 954.0,1481.0 955.0,1481.3 956.0,1481.5 957.0,1481.8 958.0,1482.1 959.0,1482.3 960.0,1482.6 961.0,1482.8 962.0,1483.1 963.0,1483.3 964.0,1483.5 965.0,1483.8 966.0,1484.0 967.0,1484.3 968.0,1484.5 969.0,1484.8 970.0,1485.0 971.0,1485.2 972.0,1485.5 973.0,1485.7 974.0,1486.0 975.0,1486.2 976.0,1486.4 977.0,1486.6 978.0,1486.9 979.0,1487.1 980.0,1487.3 981.0,1487.5 982.0,1487.8 983.0,1488.0 984.0,1488.2 985.0,1488.4 986.0,1488.6 987.0,1488.8 988.0,1489.0 989.0,1489.2 990.0,1489.4 991.0,1489.6 992.0,1489.8 993.0,1490.0 994.0,1490.2 995.0,1490.4 996.0,1490.6 997.0,1490.8 998.0,1490.9 999.0,1491.1 1000.0,1491.3 1001.0,1491.5 1002.0,1491.6 1003.0,1491.8 1004.0,1492.0 1005.0,1492.1 1006.0,1492.3 1007.0,1492.5 1008.0,1492.6 1009.0,1492.8 1010.0,1492.9 1011.0,1493.1 1012.0,1493.2 1013.0,1493.4 1014.0,1493.5 1015.0,1493.6 1016.0,1493.8 1017.0,1493.9 1018.0,1494.0 1019.0,1494.2 1020.0,1494.3 1021.0,1494.4 1022.0,1494.6 1023.0,1494.7 1024.0,1494.8 1025.0,1494.9 1026.0,1495.0 1027.0,1495.1 1028.0,1495.2 1029.0,1495.4 1030.0,1495.5 1031.0,1495.6 1032.0,1495.7 1033.0,1495.8 1034.0,1495.9 1035.0,1496.0 1036.0,1496.1 1037.0,1496.2 1038.0,1496.2 1039.0,1496.3 1040.0,1496.4 1041.0,1496.5 1042.0,1496.6 1043.0,1496.7 1044.0,1496.8 1045.0,1496.8 1046.0,1496.9 1047.0,1497.0 1048.0,1497.1 1049.0,1497.1 1050.0,1497.2 1051.0,1497.3 1052.0,1497.3 1053.0,1497.4 1054.0,1497.5 1055.0,1497.5 1056.0,1497.6 1057.0,1497.7 1058.0,1497.7 1059.0,1497.8 1060.0,1497.8 1061.0,1497.9 1062.0,1498.0 1063.0,1498.0 1064.0,1498.1 1065.0,1498.1 1066.0,1498.2 1067.0,1498.2" fill="none" stroke="#ff0000" stroke-width="4" stroke-linejoin="round" stroke-linecap="round" />
<polyline points="150.0,1485.6 151.0,1485.6 152.0,1485.6 153.0,1485.6 154.0,1485.7 155.0,1485.7 156.0,1485.7 157.0,1485.7 158.0,1485.7 159.0,1485.7 160.0,1485.7 161.0,1485.7 162.0,1485.7 163.0,1485.8 164.0,1485.8 165.0,1485.8 166.0,1485.8 167.0,1485.8 168.0,1485.8 169.0,1485.8 170.0,1485.8 171.0,1485.8 172.0,1485.9 173.0,1485.9 174.0,1485.9 175.0,1485.9 176.0,1485.9 177.0,1485.9 178.0,1485.9 179.0,1485.9 180.0,1485.9 181.0,1486.0 182.0,1486.0 183.0,1486.0 184.0,1486.0 185.0,1486.0 186.0,1486.0 187.0,1486.0 188.0,1486.0 189.0,1486.0 190.0,1486.1 191.0,1486.1 192.0,1486.1 193.0,1486.1 194.0,1486.1 195.0,1486.1 196.0,1486.1 197.0,1486.1 198.0,1486.1 199.0,1486.2 200.0,1486.2 201.0,1486.2 202.0,1486.2 203.0,1486.2 204.0,1486.2 205.0,1486.2 206.0,1486.2 207.0,1486.3 208.0,1486.3 209.0,1486.3 210.0,1486.3 211.0,1486.3 212.0,1486.3 213.0,1486.3 214.0,1486.3 215.0,1486.3 216.0,1486.4 217.0,1486.4 218.0,1486.4 219.0,1486.4 220.0,1486.4 221.0,1486.4 222.0,1486.4 223.0,1486.4 224.0,1486.4 225.0,1486.5 226.0,1486.5 227.0,1486.5 228.0,1486.5 229.0,1486.5 230.0,1486.5 231.0,1486.5 232.0,1486.5 233.0,1486.5 234.0,1486.6 235.0,1486.6 236.0,1486.6 237.0,1486.6 238.0,1486.6 239.0,1486.6 240.0,1486.6 241.0,1486.6 242.0,1486.6 243.0,1486.7 244.0,1486.7 245.0,1486.7 246.0,1486.7 247.0,1486.7 248.0,1486.7 249.0,1486.7 250.0,1486.7 251.0,1486.7 252.0,1486.8 253.0,1486.8 254.0,1486.8 255.0,1486.8 256.0,1486.8 257.0,1486.8 258.0,1486.8 259.0,1486.8 260.0,1486.8 261.0,1486.9 262.0,1486.9 263.0,1486.9 264.0,1486.9 265.0,1486.9 266.0,1486.9 267.0,1486.9 268.0,1486.9 269.0,1486.9 270.0,1487.0 271.0,1487.0 272.0,1487.0 273.0,1487.0 274.0,1487.0 275.0,1487.0 276.0,1487.0 277.0,1487.0 278.0,1487.0 279.0,1487.1 280.0,1487.1 281.0,1487.1 282.0,1487.1 283.0,1487.1 284.0,1487.1 285.0,1487.1 286.0,1487.1 287.0,1487.1 288.0,1487.2 289.0,1487.2 290.0,1487.2 291.0,1487.2 292.0,1487.2 293.0,1487.2 294.0,1487.2 295.0,1487.2 296.0,1487.2 297.0,1487.3 298.0,1487.3 299.0,1487.3 300.0,1487.3 301.0,1487.3 302.0,1487.3 303.0,1487.3 304.0,1487.3 305.0,1487.4 306.0,1487.4 307.0,1487.4 308.0,1487.4 309.0,1487.4 310.0,1487.4 311.0,1487.4 312.0,1487.4 313.0,1487.4 314.0,1487.5 315.0,1487.5 316.0,1487.5 317.0,1487.5 318.0,1487.5 319.0,1487.5 320.0,1487.5 321.0,1487.5 322.0,1487.5 323.0,1487.6 324.0,1487.6 325.0,1487.6 326.0,1487.6 327.0,1487.6 328.0,1487.6 329.0,1487.6 330.0,1487.6 331.0,1487.6 332.0,1487.7 333.0,1487.7 334.0,1487.7 335.0,1487.7 336.0,1487.7 337.0,1487.7 338.0,1487.7 339.0,1487.7 340.0,1487.7 341.0,1487.8 342.0,1487.8 343.0,1487.8 344.0,1487.8 345.0,1487.8 346.0,1487.8 347.0,1487.8 348.0,1487.9 349.0,1487.9 350.0,1487.9 351.0,1487.9 352.0,1488.0 353.0,1488.0 354.0,1488.0 355.0,1488.0 356.0,1488.1 357.0,1488.1 358.0,1488.1 359.0,1488.1 360.0,1488.2 361.0,1488.2 362.0,1488.2 363.0,1488.2 364.0,1488.2 365.0,1488.3 366.0,1488.3 367.0,1488.3 368.0,1488.3 369.0,1488.4 370.0,1488.4 371.0,1488.4 372.0,1488.4 373.0,1488.5 374.0,1488.5 375.0,1488.5 376.0,1488.5 377.0,1488.5 378.0,1488.6 379.0,1488.6 380.0,1488.6 381.0,1488.6 382.0,1488.7 383.0,1488.7 384.0,1488.7 385.0,1488.7 386.0,1488.8 387.0,1488.8 388.0,1488.8 389.0,1488.8 390.0,1488.9 391.0,1488.9 392.0,1488.9 393.0,1488.9 394.0,1488.9 395.0,1489.0 396.0,1489.0 397.0,1489.0 398.0,1489.0 399.0,1489.1 400.0,1489.1 401.0,1489.1 402.0,1489.1 403.0,1489.2 404.0,1489.2 405.0,1489.2 406.0,1489.2 407.0,1489.2 408.0,1489.3 409.0,1489.3 410.0,1489.3 411.0,1489.3 412.0,1489.4 413.0,1489.4 414.0,1489.4 415.0,1489.4 416.0,1489.5 417.0,1489.5 418.0,1489.5 419.0,1489.5 420.0,1489.6 421.0,1489.6 422.0,1489.6 423.0,1489.6 424.0,1489.6 425.0,1489.7 426.0,1489.7 427.0,1489.7 428.0,1489.7 429.0,1489.8 430.0,1489.8 431.0,1489.8 432.0,1489.8 433.0,1489.9 434.0,1489.9 435.0,1489.9 436.0,1489.9 437.0,1489.9 438.0,1490.0 439.0,1490.0 440.0,1490.0 441.0,1490.0 442.0,1490.1 443.0,1490.1 444.0,1490.1 445.0,1490.1 446.0,1490.2 447.0,1490.2 448.0,1490.2 449.0,1490.2 450.0,1490.3 451.0,1490.3 452.0,1490.3 453.0,1490.3 454.0,1490.3 455.0,1490.4 456.0,1490.4 457.0,1490.4 458.0,1490.4 459.0,1490.5 460.0,1490.5 461.0,1490.5 462.0,1490.5 463.0,1490.6 464.0,1490.6 465.0,1490.6 466.0,1490.6 467.0,1490.6 468.0,1490.7 469.0,1490.7 470.0,1490.7 471.0,1490.7 472.0,1490.8 473.0,1490.8 474.0,1490.8 475.0,1490.8 476.0,1490.9 477.0,1490.9 478.0,1490.9 479.0,1490.9 480.0,1491.0 481.0,1491.0 482.0,1491.0 483.0,1491.0 484.0,1491.0 485.0,1491.0 486.0,1491.1 487.0,1491.1 488.0,1491.1 489.0,1491.1 490.0,1491.1 491.0,1491.1 492.0,1491.2 493.0,1491.2 494.0,1491.2 495.0,1491.2 496.0,1491.2 497.0,1491.2 498.0,1491.3 499.0,1491.3 500.0,1491.3 501.0,1491.3 502.0,1491.3 503.0,1491.3 504.0,1491.3 505.0,1491.4 506.0,1491.4 507.0,1491.4 508.0,1491.4 509.0,1491.4 510.0,1491.4 511.0,1491.5 512.0,1491.5 513.0,1491.5 514.0,1491.5 515.0,1491.5 516.0,1491.5 517.0,1491.6 518.0,1491.6 519.0,1491.6 520.0,1491.6 521.0,1491.6 522.0,1491.6 523.0,1491.6 524.0,1491.7 525.0,1491.7 526.0,1491.7 527.0,1491.7 528.0,1491.7 529.0,1491.7 530.0,1491.8 531.0,1491.8 532.0,1491.8 533.0,1491.8 534.0,1491.8 535.0,1491.8 536.0,1491.9 537.0,1491.9 538.0,1491.9 539.0,1491.9 540.0,1491.9 541.0,1491.9 542.0,1491.9 543.0,1492.0 544.0,1492.0 545.0,1492.0 546.0,1492.0 547.0,1492.0 548.0,1492.0 549.0,1492.1 550.0,1492.1 551.0,1492.1 552.0,1492.1 553.0,1492.1 554.0,1492.1 555.0,1492.2 556.0,1492.2 557.0,1492.2 558.0,1492.2 559.0,1492.2 560.0,1492.2 561.0,1492.2 562.0,1492.3 563.0,1492.3 564.0,1492.3 565.0,1492.3 566.0,1492.3 567.0,1492.3 568.0,1492.3 569.0,1492.4 570.0,1492.4 571.0,1492.4 572.0,1492.4 573.0,1492.4 574.0,1492.4 575.0,1492.4 576.0,1492.4 577.0,1492.4 578.0,1492.4 579.0,1492.5 580.0,1492.5 581.0,1492.5 582.0,1492.5 583.0,1492.5 584.0,1492.5 585.0,1492.5 586.0,1492.5 587.0,1492.5 588.0,1492.4 589.0,1492.4 590.0,1492.4 591.0,1492.4 592.0,1492.4 593.0,1492.3 594.0,1492.3 595.0,1492.3 596.0,1492.2 597.0,1492.2 598.0,1492.1 599.0,1492.1 600.0,1492.0 601.0,1491.9 602.0,1491.8 603.0,1491.8 604.0,1491.6 605.0,1491.5 606.0,1491.4 607.0,1491.3 608.0,1491.1 609.0,1490.9 610.0,1490.7 611.0,1490.5 612.0,1490.3 613.0,1490.0 614.0,1489.8 615.0,1489.5 616.0,1489.1 617.0,1488.8 618.0,1488.4 619.0,1488.0 620.0,1487.5 621.0,1487.0 622.0,1486.5 623.0,1485.9 624.0,1485.3 625.0,1484.6 626.0,1483.9 627.0,1483.1 628.0,1482.2 629.0,1481.3 630.0,1480.4 631.0,1479.3 632.0,1478.2 633.0,1477.0 634.0,1475.8 635.0,1474.4 636.0,1473.0 637.0,1471.4 638.0,1469.8 639.0,1468.1 640.0,1466.2 641.0,1464.3 642.0,1462.2 643.0,1460.0 644.0,1457.7 645.0,1455.3 646.0,1452.7 647.0,1449.9 648.0,1447.1 649.0,1444.0 650.0,1440.9 651.0,1437.5 652.0,1434.0 653.0,1430.3 654.0,1426.5 655.0,1422.5 656.0,1418.3 657.0,1413.9 658.0,1409.3 659.0,1404.5 660.0,1399.6 661.0,1394.4 662.0,1389.0 663.0,1383.5 664.0,1377.7 665.0,1371.7 666.0,1365.6 667.0,1359.2 668.0,1352.6 669.0,1345.8 670.0,1338.9 671.0,1331.7 672.0,1324.3 673.0,1316.8 674.0,1309.0 675.0,1301.1 676.0,1293.0 677.0,1284.7 678.0,1276.3 679.0,1267.7 680.0,1258.9 681.0,1250.0 682.0,1241.0 683.0,1231.9 684.0,1222.6 685.0,1213.3 686.0,1203.9 687.0,1194.4 688.0,1184.8 689.0,1175.2 690.0,1165.6 691.0,1155.9 692.0,1146.3 693.0,1136.6 694.0,1127.0 695.0,1117.5 696.0,1108.0 697.0,1098.6 698.0,1089.3 699.0,1080.1 700.0,1071.1 701.0,1062.2 702.0,1053.5 703.0,1044.9 704.0,1036.6 705.0,1028.5 706.0,1020.7 707.0,1013.1 708.0,1005.8 709.0,998.8 710.0,992.1 711.0,985.7 712.0,979.6 713.0,973.9 714.0,968.6 715.0,963.7 716.0,959.1 717.0,955.0 718.0,951.2 719.0,947.9 720.0,945.0 721.0,942.5 722.0,940.5 723.0,939.0 724.0,937.8 725.0,937.2 726.0,937.0 727.0,937.2 728.0,938.1 729.0,939.4 730.0,941.2 731.0,943.6 732.0,946.5 733.0,949.9 734.0,953.7 735.0,958.1 736.0,962.9 737.0,968.2 738.0,973.9 739.0,980.1 740.0,986.6 741.0,993.6 742.0,1000.9 743.0,1008.6 744.0,1016.6 745.0,1024.9 746.0,1033.6 747.0,1042.4 748.0,1051.6 749.0,1061.0 750.0,1070.5 751.0,1080.3 752.0,1090.2 753.0,1100.3 754.0,1110.4 755.0,1120.7 756.0,1131.0 757.0,1141.4 758.0,1151.8 759.0,1162.3 760.0,1172.7 761.0,1183.1 762.0,1193.4 763.0,1203.7 764.0,1213.9 765.0,1224.0 766.0,1234.0 767.0,1243.8 768.0,1253.5 769.0,1263.1 770.0,1272.5 771.0,1281.7 772.0,1290.8 773.0,1299.6 774.0,1308.2 775.0,1316.7 776.0,1324.9 777.0,1332.9 778.0,1340.6 779.0,1348.2 780.0,1355.5 781.0,1362.6 782.0,1369.4 783.0,1376.0 784.0,1382.4 785.0,1388.5 786.0,1394.4 787.0,1400.1 788.0,1405.5 789.0,1410.7 790.0,1415.7 791.0,1420.5 792.0,1425.0 793.0,1429.4 794.0,1433.5 795.0,1437.5 796.0,1441.2 797.0,1444.8 798.0,1448.1 799.0,1451.3 800.0,1454.4 801.0,1457.2 802.0,1459.9 803.0,1462.5 804.0,1464.9 805.0,1467.1 806.0,1469.3 807.0,1471.2 808.0,1473.1 809.0,1474.9 810.0,1476.5 811.0,1478.1 812.0,1479.5 813.0,1480.8 814.0,1482.1 815.0,1483.2 816.0,1484.3 817.0,1485.3 818.0,1486.3 819.0,1487.1 820.0,1487.9 821.0,1488.7 822.0,1489.4 823.0,1490.0 824.0,1490.6 825.0,1491.1 826.0,1491.6 827.0,1492.1 828.0,1492.5 829.0,1492.9 830.0,1493.3 831.0,1493.6 832.0,1493.9 833.0,1494.2 834.0,1494.4 835.0,1494.7 836.0,1494.9 837.0,1495.1 838.0,1495.2 839.0,1495.4 840.0,1495.6 841.0,1495.7 842.0,1495.8 843.0,1495.9 844.0,1496.0 845.0,1496.1 846.0,1496.2 847.0,1496.3 848.0,1496.4 849.0,1496.5 850.0,1496.5 851.0,1496.6 852.0,1496.6 853.0,1496.7 854.0,1496.7 855.0,1496.8 856.0,1496.8 857.0,1496.8 858.0,1496.9 859.0,1496.9 860.0,1496.9 861.0,1497.0 862.0,1497.0 863.0,1497.0 864.0,1497.1 865.0,1497.1 866.0,1497.1 867.0,1497.1 868.0,1497.1 869.0,1497.2 870.0,1497.2 871.0,1497.2 872.0,1497.2 873.0,1497.2 874.0,1497.3 875.0,1497.3 876.0,1497.3 877.0,1497.3 878.0,1497.3 879.0,1497.3 880.0,1497.4 881.0,1497.4 882.0,1497.4 883.0,1497.4 884.0,1497.4 885.0,1497.4 886.0,1497.5 887.0,1497.5 888.0,1497.5 889.0,1497.5 890.0,1497.5 891.0,1497.5 892.0,1497.6 893.0,1497.6 894.0,1497.6 895.0,1497.6 896.0,1497.6 897.0,1497.6 898.0,1497.6 899.0,1497.7 900.0,1497.7 901.0,1497.7 902.0,1497.7 903.0,1497.7 904.0,1497.7 905.0,1497.8 906.0,1497.8 907.0,1497.8 908.0,1497.8 909.0,1497.8 910.0,1497.8 911.0,1497.9 912.0,1497.9 913.0,1497.9 914.0,1497.9 915.0,1497.9 916.0,1497.9 917.0,1497.9 918.0,1498.0 919.0,1498.0 920.0,1498.0 921.0,1498.0 922.0,1498.0 923.0,1498.0 924.0,1498.1 925.0,1498.1 926.0,1498.1 927.0,1498.1 928.0,1498.1 929.0,1498.1 930.0,1498.1 931.0,1498.2 932.0,1498.2 933.0,1498.2 934.0,1498.2 935.0,1498.2 936.0,1498.2 937.0,1498.3 938.0,1498.3 939.0,1498.3 940.0,1498.3 941.0,1498.3 942.0,1498.3 943.0,1498.3 944.0,1498.4 945.0,1498.4 946.0,1498.4 947.0,1498.4 948.0,1498.4 949.0,1498.4 950.0,1498.5 951.0,1498.5 952.0,1498.5 953.0,1498.5 954.0,1498.5 955.0,1498.5 956.0,1498.5 957.0,1498.6 958.0,1498.6 959.0,1498.6 960.0,1498.6 961.0,1498.6 962.0,1498.6 963.0,1498.7 964.0,1498.7 965.0,1498.7 966.0,1498.7 967.0,1498.7 968.0,1498.7 969.0,1498.7 970.0,1498.8 971.0,1498.8 972.0,1498.8 973.0,1498.8 974.0,1498.8 975.0,1498.8 976.0,1498.9 977.0,1498.9 978.0,1498.9 979.0,1498.9 980.0,1498.9 981.0,1498.9 982.0,1499.0 983.0,1499.0 984.0,1499.0 985.0,1499.0 986.0,1499.0 987.0,1499.0 988.0,1499.0 989.0,1499.1 990.0,1499.1 991.0,1499.1 992.0,1499.1 993.0,1499.1 994.0,1499.1 995.0,1499.2 996.0,1499.2 997.0,1499.2 998.0,1499.2 999.0,1499.2 1000.0,1499.2 1001.0,1499.2 1002.0,1499.3 1003.0,1499.3 1004.0,1499.3 1005.0,1499.3 1006.0,1499.3 1007.0,1499.3 1008.0,1499.4 1009.0,1499.4 1010.0,1499.4 1011.0,1499.4 1012.0,1499.4 1013.0,1499.4 1014.0,1499.4 1015.0,1499.5 1016.0,1499.5 1017.0,1499.5 1018.0,1499.5 1019.0,1499.5 1020.0,1499.5 1021.0,1499.6 1022.0,1499.6 1023.0,1499.6 1024.0,1499.6 1025.0,1499.6 1026.0,1499.6 1027.0,1499.6 1028.0,1499.7 1029.0,1499.7 1030.0,1499.7 1031.0,1499.7 1032.0,1499.7 1033.0,1499.7 1034.0,1499.8 1035.0,1499.8 1036.0,1499.8 1037.0,1499.8 1038.0,1499.8 1039.0,1499.8 1040.0,1499.9 1041.0,1499.9 1042.0,1499.9 1043.0,1499.9 1044.0,1499.9 1045.0,1499.9 1046.0,1499.9 1047.0,1500.0 1048.0,1500.0 1049.0,1500.0 1050.0,1500.0 1051.0,1500.0 1052.0,1500.0 1053.0,1500.1 1054.0,1500.1 1055.0,1500.1 1056.0,1500.1 1057.0,1500.1 1058.0,1500.1 1059.0,1500.1 1060.0,1500.2 1061.0,1500.2 1062.0,1500.2 1063.0,1500.2 1064.0,1500.2 1065.0,1500.2 1066.0,1500.3 1067.0,1500.3" fill="none" stroke="#ff00ff" stroke-width="4" stroke-linejoin="round" stroke-linecap="round" />
<polyline points="150.0,1485.5 151.0,1485.5 152.0,1485.6 153.0,1485.6 154.0,1485.6 155.0,1485.6 156.0,1485.6 157.0,1485.6 158.0,1485.6 159.0,1485.6 160.0,1485.6 161.0,1485.7 162.0,1485.7 163.0,1485.7 164.0,1485.7 165.0,1485.7 166.0,1485.7 167.0,1485.7 168.0,1485.7 169.0,1485.7 170.0,1485.7 171.0,1485.8 172.0,1485.8 173.0,1485.8 174.0,1485.8 175.0,1485.8 176.0,1485.8 177.0,1485.8 178.0,1485.8 179.0,1485.8 180.0,1485.9 181.0,1485.9 182.0,1485.9 183.0,1485.9 184.0,1485.9 185.0,1485.9 186.0,1485.9 187.0,1485.9 188.0,1485.9 189.0,1486.0 190.0,1486.0 191.0,1486.0 192.0,1486.0 193.0,1486.0 194.0,1486.0 195.0,1486.0 196.0,1486.0 197.0,1486.0 198.0,1486.1 199.0,1486.1 200.0,1486.1 201.0,1486.1 202.0,1486.1 203.0,1486.1 204.0,1486.1 205.0,1486.1 206.0,1486.1 207.0,1486.2 208.0,1486.2 209.0,1486.2 210.0,1486.2 211.0,1486.2 212.0,1486.2 213.0,1486.2 214.0,1486.2 215.0,1486.2 216.0,1486.3 217.0,1486.3 218.0,1486.3 219.0,1486.3 220.0,1486.3 221.0,1486.3 222.0,1486.3 223.0,1486.3 224.0,1486.3 225.0,1486.4 226.0,1486.4 227.0,1486.4 228.0,1486.4 229.0,1486.4 230.0,1486.4 231.0,1486.4 232.0,1486.4 233.0,1486.4 234.0,1486.5 235.0,1486.5 236.0,1486.5 237.0,1486.5 238.0,1486.5 239.0,1486.5 240.0,1486.5 241.0,1486.5 242.0,1486.5 243.0,1486.5 244.0,1486.6 245.0,1486.6 246.0,1486.6 247.0,1486.6 248.0,1486.6 249.0,1486.6 250.0,1486.6 251.0,1486.6 252.0,1486.6 253.0,1486.7 254.0,1486.7 255.0,1486.7 256.0,1486.7 257.0,1486.7 258.0,1486.7 259.0,1486.7 260.0,1486.7 261.0,1486.7 262.0,1486.8 263.0,1486.8 264.0,1486.8 265.0,1486.8 266.0,1486.8 267.0,1486.8 268.0,1486.8 269.0,1486.8 270.0,1486.8 271.0,1486.9 272.0,1486.9 273.0,1486.9 274.0,1486.9 275.0,1486.9 276.0,1486.9 277.0,1486.9 278.0,1486.9 279.0,1486.9 280.0,1487.0 281.0,1487.0 282.0,1487.0 283.0,1487.0 284.0,1487.0 285.0,1487.0 286.0,1487.0 287.0,1487.0 288.0,1487.0 289.0,1487.0 290.0,1487.1 291.0,1487.1 292.0,1487.1 293.0,1487.1 294.0,1487.1 295.0,1487.1 296.0,1487.1 297.0,1487.1 298.0,1487.1 299.0,1487.2 300.0,1487.2 301.0,1487.2 302.0,1487.2 303.0,1487.2 304.0,1487.2 305.0,1487.2 306.0,1487.2 307.0,1487.2 308.0,1487.3 309.0,1487.3 310.0,1487.3 311.0,1487.3 312.0,1487.3 313.0,1487.3 314.0,1487.3 315.0,1487.3 316.0,1487.3 317.0,1487.4 318.0,1487.4 319.0,1487.4 320.0,1487.4 321.0,1487.4 322.0,1487.4 323.0,1487.4 324.0,1487.4 325.0,1487.4 326.0,1487.4 327.0,1487.5 328.0,1487.5 329.0,1487.5 330.0,1487.5 331.0,1487.5 332.0,1487.5 333.0,1487.5 334.0,1487.5 335.0,1487.5 336.0,1487.6 337.0,1487.6 338.0,1487.6 339.0,1487.6 340.0,1487.6 341.0,1487.6 342.0,1487.6 343.0,1487.6 344.0,1487.6 345.0,1487.7 346.0,1487.7 347.0,1487.7 348.0,1487.7 349.0,1487.7 350.0,1487.8 351.0,1487.8 352.0,1487.8 353.0,1487.8 354.0,1487.9 355.0,1487.9 356.0,1487.9 357.0,1487.9 358.0,1487.9 359.0,1488.0 360.0,1488.0 361.0,1488.0 362.0,1488.0 363.0,1488.1 364.0,1488.1 365.0,1488.1 366.0,1488.1 367.0,1488.2 368.0,1488.2 369.0,1488.2 370.0,1488.2 371.0,1488.2 372.0,1488.3 373.0,1488.3 374.0,1488.3 375.0,1488.3 376.0,1488.4 377.0,1488.4 378.0,1488.4 379.0,1488.4 380.0,1488.4 381.0,1488.5 382.0,1488.5 383.0,1488.5 384.0,1488.5 385.0,1488.6 386.0,1488.6 387.0,1488.6 388.0,1488.6 389.0,1488.7 390.0,1488.7 391.0,1488.7 392.0,1488.7 393.0,1488.7 394.0,1488.8 395.0,1488.8 396.0,1488.8 397.0,1488.8 398.0,1488.9 399.0,1488.9 400.0,1488.9 401.0,1488.9 402.0,1488.9 403.0,1489.0 404.0,1489.0 405.0,1489.0 406.0,1489.0 407.0,1489.1 408.0,1489.1 409.0,1489.1 410.0,1489.1 411.0,1489.2 412.0,1489.2 413.0,1489.2 414.0,1489.2 415.0,1489.2 416.0,1489.3 417.0,1489.3 418.0,1489.3 419.0,1489.3 420.0,1489.4 421.0,1489.4 422.0,1489.4 423.0,1489.4 424.0,1489.4 425.0,1489.5 426.0,1489.5 427.0,1489.5 428.0,1489.5 429.0,1489.6 430.0,1489.6 431.0,1489.6 432.0,1489.6 433.0,1489.6 434.0,1489.7 435.0,1489.7 436.0,1489.7 437.0,1489.7 438.0,1489.8 439.0,1489.8 440.0,1489.8 441.0,1489.8 442.0,1489.8 443.0,1489.9 444.0,1489.9 445.0,1489.9 446.0,1489.9 447.0,1490.0 448.0,1490.0 449.0,1490.0 450.0,1490.0 451.0,1490.0 452.0,1490.1 453.0,1490.1 454.0,1490.1 455.0,1490.1 456.0,1490.2 457.0,1490.2 458.0,1490.2 459.0,1490.2 460.0,1490.3 461.0,1490.3 462.0,1490.3 463.0,1490.3 464.0,1490.3 465.0,1490.4 466.0,1490.4 467.0,1490.4 468.0,1490.4 469.0,1490.5 470.0,1490.5 471.0,1490.5 472.0,1490.5 473.0,1490.5 474.0,1490.6 475.0,1490.6 476.0,1490.6 477.0,1490.6 478.0,1490.7 479.0,1490.7 480.0,1490.7 481.0,1490.7 482.0,1490.7 483.0,1490.8 484.0,1490.8 485.0,1490.8 486.0,1490.8 487.0,1490.8 488.0,1490.8 489.0,1490.8 490.0,1490.9 491.0,1490.9 492.0,1490.9 493.0,1490.9 494.0,1490.9 495.0,1490.9 496.0,1490.9 497.0,1491.0 498.0,1491.0 499.0,1491.0 500.0,1491.0 501.0,1491.0 502.0,1491.0 503.0,1491.0 504.0,1491.1 505.0,1491.1 506.0,1491.1 507.0,1491.1 508.0,1491.1 509.0,1491.1 510.0,1491.1 511.0,1491.2 512.0,1491.2 513.0,1491.2 514.0,1491.2 515.0,1491.2 516.0,1491.2 517.0,1491.2 518.0,1491.3 519.0,1491.3 520.0,1491.3 521.0,1491.3 522.0,1491.3 523.0,1491.3 524.0,1491.3 525.0,1491.4 526.0,1491.4 527.0,1491.4 528.0,1491.4 529.0,1491.4 530.0,1491.4 531.0,1491.4 532.0,1491.5 533.0,1491.5 534.0,1491.5 535.0,1491.5 536.0,1491.5 537.0,1491.5 538.0,1491.5 539.0,1491.6 540.0,1491.6 541.0,1491.6 542.0,1491.6 543.0,1491.6 544.0,1491.6 545.0,1491.6 546.0,1491.7 547.0,1491.7 548.0,1491.7 549.0,1491.7 550.0,1491.7 551.0,1491.7 552.0,1491.7 553.0,1491.7 554.0,1491.8 555.0,1491.8 556.0,1491.8 557.0,1491.8 558.0,1491.8 559.0,1491.8 560.0,1491.8 561.0,1491.9 562.0,1491.9 563.0,1491.9 564.0,1491.9 565.0,1491.9 566.0,1491.9 567.0,1491.9 568.0,1492.0 569.0,1492.0 570.0,1492.0 571.0,1492.0 572.0,1492.0 573.0,1492.0 574.0,1492.0 575.0,1492.0 576.0,1492.1 577.0,1492.1 578.0,1492.1 579.0,1492.1 580.0,1492.1 581.0,1492.1 582.0,1492.1 583.0,1492.2 584.0,1492.2 585.0,1492.2 586.0,1492.2 587.0,1492.2 588.0,1492.2 589.0,1492.2 590.0,1492.2 591.0,1492.3 592.0,1492.3 593.0,1492.3 594.0,1492.3 595.0,1492.3 596.0,1492.3 597.0,1492.3 598.0,1492.3 599.0,1492.4 600.0,1492.4 601.0,1492.4 602.0,1492.4 603.0,1492.4 604.0,1492.4 605.0,1492.4 606.0,1492.4 607.0,1492.5 608.0,1492.5 609.0,1492.5 610.0,1492.5 611.0,1492.5 612.0,1492.5 613.0,1492.5 614.0,1492.5 615.0,1492.6 616.0,1492.6 617.0,1492.6 618.0,1492.6 619.0,1492.6 620.0,1492.6 621.0,1492.6 622.0,1492.6 623.0,1492.7 624.0,1492.7 625.0,1492.7 626.0,1492.7 627.0,1492.7 628.0,1492.7 629.0,1492.7 630.0,1492.7 631.0,1492.7 632.0,1492.8 633.0,1492.8 634.0,1492.8 635.0,1492.8 636.0,1492.8 637.0,1492.8 638.0,1492.8 639.0,1492.8 640.0,1492.8 641.0,1492.9 642.0,1492.9 643.0,1492.9 644.0,1492.9 645.0,1492.9 646.0,1492.9 647.0,1492.9 648.0,1492.9 649.0,1492.9 650.0,1493.0 651.0,1493.0 652.0,1493.0 653.0,1493.0 654.0,1493.0 655.0,1493.0 656.0,1493.0 657.0,1493.0 658.0,1493.0 659.0,1493.1 660.0,1493.1 661.0,1493.1 662.0,1493.1 663.0,1493.1 664.0,1493.1 665.0,1493.1 666.0,1493.1 667.0,1493.1 668.0,1493.1 669.0,1493.1 670.0,1493.2 671.0,1493.2 672.0,1493.2 673.0,1493.2 674.0,1493.2 675.0,1493.2 676.0,1493.2 677.0,1493.2 678.0,1493.2 679.0,1493.2 680.0,1493.2 681.0,1493.2 682.0,1493.2 683.0,1493.2 684.0,1493.2 685.0,1493.3 686.0,1493.3 687.0,1493.3 688.0,1493.3 689.0,1493.3 690.0,1493.3 691.0,1493.3 692.0,1493.3 693.0,1493.3 694.0,1493.3 695.0,1493.3 696.0,1493.3 697.0,1493.3 698.0,1493.3 699.0,1493.3 700.0,1493.3 701.0,1493.3 702.0,1493.3 703.0,1493.3 704.0,1493.3 705.0,1493.3 706.0,1493.3 707.0,1493.3 708.0,1493.2 709.0,1493.2 710.0,1493.2 711.0,1493.2 712.0,1493.2 713.0,1493.2 714.0,1493.2 715.0,1493.2 716.0,1493.2 717.0,1493.2 718.0,1493.2 719.0,1493.1 720.0,1493.1 721.0,1493.1 722.0,1493.1 723.0,1493.1 724.0,1493.1 725.0,1493.0 726.0,1493.0 727.0,1493.0 728.0,1493.0 729.0,1493.0 730.0,1492.9 731.0,1492.9 732.0,1492.9 733.0,1492.9 734.0,1492.8 735.0,1492.8 736.0,1492.8 737.0,1492.7 738.0,1492.7 739.0,1492.7 740.0,1492.6 741.0,1492.6 742.0,1492.5 743.0,1492.5 744.0,1492.5 745.0,1492.4 746.0,1492.4 747.0,1492.3 748.0,1492.3 749.0,1492.2 750.0,1492.2 751.0,1492.1 752.0,1492.0 753.0,1492.0 754.0,1491.9 755.0,1491.9 756.0,1491.8 757.0,1491.7 758.0,1491.7 759.0,1491.6 760.0,1491.5 761.0,1491.4 762.0,1491.4 763.0,1491.3 764.0,1491.2 765.0,1491.1 766.0,1491.0 767.0,1490.9 768.0,1490.9 769.0,1490.8 770.0,1490.7 771.0,1490.6 772.0,1490.5 773.0,1490.4 774.0,1490.3 775.0,1490.2 776.0,1490.1 777.0,1490.0 778.0,1489.8 779.0,1489.7 780.0,1489.6 781.0,1489.5 782.0,1489.4 783.0,1489.2 784.0,1489.1 785.0,1489.0 786.0,1488.9 787.0,1488.7 788.0,1488.6 789.0,1488.4 790.0,1488.3 791.0,1488.2 792.0,1488.0 793.0,1487.9 794.0,1487.7 795.0,1487.6 796.0,1487.4 797.0,1487.2 798.0,1487.1 799.0,1486.9 800.0,1486.7 801.0,1486.6 802.0,1486.4 803.0,1486.2 804.0,1486.1 805.0,1485.9 806.0,1485.7 807.0,1485.5 808.0,1485.3 809.0,1485.1 810.0,1485.0 811.0,1484.8 812.0,1484.6 813.0,1484.4 814.0,1484.2 815.0,1484.0 816.0,1483.8 817.0,1483.6 818.0,1483.4 819.0,1483.2 820.0,1483.0 821.0,1482.8 822.0,1482.6 823.0,1482.3 824.0,1482.1 825.0,1481.9 826.0,1481.7 827.0,1481.5 828.0,1481.3 829.0,1481.0 830.0,1480.8 831.0,1480.6 832.0,1480.4 833.0,1480.2 834.0,1480.0 835.0,1479.7 836.0,1479.5 837.0,1479.3 838.0,1479.1 839.0,1478.8 840.0,1478.6 841.0,1478.4 842.0,1478.2 843.0,1478.0 844.0,1477.8 845.0,1477.5 846.0,1477.3 847.0,1477.1 848.0,1476.9 849.0,1476.7 850.0,1476.5 851.0,1476.3 852.0,1476.1 853.0,1475.9 854.0,1475.6 855.0,1475.4 856.0,1475.3 857.0,1475.1 858.0,1474.9 859.0,1474.7 860.0,1474.5 861.0,1474.3 862.0,1474.1 863.0,1473.9 864.0,1473.8 865.0,1473.6 866.0,1473.4 867.0,1473.3 868.0,1473.1 869.0,1473.0 870.0,1472.8 871.0,1472.7 872.0,1472.6 873.0,1472.4 874.0,1472.3 875.0,1472.2 876.0,1472.1 877.0,1472.0 878.0,1471.9 879.0,1471.8 880.0,1471.7 881.0,1471.6 882.0,1471.5 883.0,1471.4 884.0,1471.4 885.0,1471.3 886.0,1471.3 887.0,1471.2 888.0,1471.2 889.0,1471.1 890.0,1471.1 891.0,1471.1 892.0,1471.1 893.0,1471.1 894.0,1471.1 895.0,1471.1 896.0,1471.1 897.0,1471.1 898.0,1471.2 899.0,1471.2 900.0,1471.3 901.0,1471.3 902.0,1471.4 903.0,1471.5 904.0,1471.5 905.0,1471.6 906.0,1471.7 907.0,1471.8 908.0,1471.9 909.0,1472.0 910.0,1472.1 911.0,1472.2 912.0,1472.4 913.0,1472.5 914.0,1472.7 915.0,1472.8 916.0,1472.9 917.0,1473.1 918.0,1473.3 919.0,1473.4 920.0,1473.6 921.0,1473.8 922.0,1474.0 923.0,1474.2 924.0,1474.3 925.0,1474.5 926.0,1474.7 927.0,1474.9 928.0,1475.1 929.0,1475.4 930.0,1475.6 931.0,1475.8 932.0,1476.0 933.0,1476.2 934.0,1476.5 935.0,1476.7 936.0,1476.9 937.0,1477.2 938.0,1477.4 939.0,1477.6 940.0,1477.9 941.0,1478.1 942.0,1478.4 943.0,1478.6 944.0,1478.8 945.0,1479.1 946.0,1479.3 947.0,1479.6 948.0,1479.8 949.0,1480.1 950.0,1480.3 951.0,1480.6 952.0,1480.8 953.0,1481.1 954.0,1481.3 955.0,1481.6 956.0,1481.8 957.0,1482.1 958.0,1482.3 959.0,1482.6 960.0,1482.8 961.0,1483.1 962.0,1483.3 963.0,1483.6 964.0,1483.8 965.0,1484.1 966.0,1484.3 967.0,1484.6 968.0,1484.8 969.0,1485.1 970.0,1485.3 971.0,1485.5 972.0,1485.8 973.0,1486.0 974.0,1486.2 975.0,1486.5 976.0,1486.7 977.0,1486.9 978.0,1487.1 979.0,1487.4 980.0,1487.6 981.0,1487.8 982.0,1488.0 983.0,1488.2 984.0,1488.5 985.0,1488.7 986.0,1488.9 987.0,1489.1 988.0,1489.3 989.0,1489.5 990.0,1489.7 991.0,1489.9 992.0,1490.1 993.0,1490.3 994.0,1490.5 995.0,1490.7 996.0,1490.8 997.0,1491.0 998.0,1491.2 999.0,1491.4 1000.0,1491.6 1001.0,1491.7 1002.0,1491.9 1003.0,1492.1 1004.0,1492.2 1005.0,1492.4 1006.0,1492.6 1007.0,1492.7 1008.0,1492.9 1009.0,1493.0 1010.0,1493.2 1011.0,1493.3 1012.0,1493.5 1013.0,1493.6 1014.0,1493.8 1015.0,1493.9 1016.0,1494.0 1017.0,1494.2 1018.0,1494.3 1019.0,1494.4 1020.0,1494.6 1021.0,1494.7 1022.0,1494.8 1023.0,1494.9 1024.0,1495.0 1025.0,1495.2 1026.0,1495.3 1027.0,1495.4 1028.0,1495.5 1029.0,1495.6 1030.0,1495.7 1031.0,1495.8 1032.0,1495.9 1033.0,1496.0 1034.0,1496.1 1035.0,1496.2 1036.0,1496.3 1037.0,1496.4 1038.0,1496.5 1039.0,1496.6 1040.0,1496.6 1041.0,1496.7 1042.0,1496.8 1043.0,1496.9 1044.0,1497.0 1045.0,1497.1 1046.0,1497.1 1047.0,1497.2 1048.0,1497.3 1049.0,1497.4 1050.0,1497.4 1051.0,1497.5 1052.0,1497.6 1053.0,1497.6 1054.0,1497.7 1055.0,1497.8 1056.0,1497.8 1057.0,1497.9 1058.0,1497.9 1059.0,1498.0 1060.0,1498.1 1061.0,1498.1 1062.0,1498.2 1063.0,1498.2 1064.0,1498.3 1065.0,1498.3 1066.0,1498.4 1067.0,1498.4" fill="none" stroke="#0000ff" stroke-width="4" stroke-linejoin="round" stroke-linecap="round" />
<polyline points="150.0,1482.8 151.0,1482.8 152.0,1482.7 153.0,1482.7 154.0,1482.7 155.0,1482.7 156.0,1482.7 157.0,1482.6 158.0,1482.6 159.0,1482.6 160.0,1482.6 161.0,1482.6 162.0,1482.5 163.0,1482.5 164.0,1482.5 165.0,1482.5 166.0,1482.5 167.0,1482.4 168.0,1482.4 169.0,1482.4 170.0,1482.3 171.0,1482.3 172.0,1482.3 173.0,1482.3 174.0,1482.2 175.0,1482.2 176.0,1482.2 177.0,1482.1 178.0,1482.1 179.0,1482.1 180.0,1482.0 181.0,1482.0 182.0,1482.0 183.0,1481.9 184.0,1481.9 185.0,1481.9 186.0,1481.8 187.0,1481.8 188.0,1481.8 189.0,1481.7 190.0,1481.7 191.0,1481.6 192.0,1481.6 193.0,1481.6 194.0,1481.5 195.0,1481.5 196.0,1481.4 197.0,1481.4 198.0,1481.3 199.0,1481.3 200.0,1481.2 201.0,1481.2 202.0,1481.1 203.0,1481.1 204.0,1481.0 205.0,1481.0 206.0,1480.9 207.0,1480.9 208.0,1480.8 209.0,1480.7 210.0,1480.7 211.0,1480.6 212.0,1480.6 213.0,1480.5 214.0,1480.4 215.0,1480.4 216.0,1480.3 217.0,1480.2 218.0,1480.2 219.0,1480.1 220.0,1480.0 221.0,1480.0 222.0,1479.9 223.0,1479.8 224.0,1479.7 225.0,1479.7 226.0,1479.6 227.0,1479.5 228.0,1479.4 229.0,1479.3 230.0,1479.2 231.0,1479.2 232.0,1479.1 233.0,1479.0 234.0,1478.9 235.0,1478.8 236.0,1478.7 237.0,1478.6 238.0,1478.5 239.0,1478.4 240.0,1478.3 241.0,1478.3 242.0,1478.2 243.0,1478.1 244.0,1478.0 245.0,1477.9 246.0,1477.7 247.0,1477.6 248.0,1477.5 249.0,1477.4 250.0,1477.3 251.0,1477.2 252.0,1477.1 253.0,1477.0 254.0,1476.9 255.0,1476.7 256.0,1476.6 257.0,1476.5 258.0,1476.4 259.0,1476.3 260.0,1476.1 261.0,1476.0 262.0,1475.9 263.0,1475.8 264.0,1475.6 265.0,1475.5 266.0,1475.4 267.0,1475.2 268.0,1475.1 269.0,1475.0 270.0,1474.8 271.0,1474.7 272.0,1474.6 273.0,1474.4 274.0,1474.3 275.0,1474.1 276.0,1474.0 277.0,1473.9 278.0,1473.7 279.0,1473.6 280.0,1473.4 281.0,1473.3 282.0,1473.1 283.0,1473.0 284.0,1472.8 285.0,1472.7 286.0,1472.5 287.0,1472.4 288.0,1472.2 289.0,1472.1 290.0,1471.9 291.0,1471.8 292.0,1471.6 293.0,1471.5 294.0,1471.3 295.0,1471.1 296.0,1471.0 297.0,1470.8 298.0,1470.7 299.0,1470.5 300.0,1470.4 301.0,1470.2 302.0,1470.1 303.0,1469.9 304.0,1469.8 305.0,1469.6 306.0,1469.5 307.0,1469.3 308.0,1469.2 309.0,1469.0 310.0,1468.9 311.0,1468.7 312.0,1468.6 313.0,1468.4 314.0,1468.3 315.0,1468.1 316.0,1468.0 317.0,1467.9 318.0,1467.7 319.0,1467.6 320.0,1467.5 321.0,1467.4 322.0,1467.2 323.0,1467.1 324.0,1467.0 325.0,1466.9 326.0,1466.8 327.0,1466.7 328.0,1466.6 329.0,1466.5 330.0,1466.4 331.0,1466.3 332.0,1466.2 333.0,1466.1 334.0,1466.0 335.0,1465.9 336.0,1465.9 337.0,1465.8 338.0,1465.7 339.0,1465.7 340.0,1465.6 341.0,1465.6 342.0,1465.5 343.0,1465.5 344.0,1465.5 345.0,1465.4 346.0,1465.4 347.0,1465.4 348.0,1465.4 349.0,1465.4 350.0,1465.4 351.0,1465.4 352.0,1465.5 353.0,1465.5 354.0,1465.5 355.0,1465.6 356.0,1465.6 357.0,1465.7 358.0,1465.7 359.0,1465.8 360.0,1465.9 361.0,1465.9 362.0,1466.0 363.0,1466.1 364.0,1466.2 365.0,1466.3 366.0,1466.4 367.0,1466.5 368.0,1466.6 369.0,1466.7 370.0,1466.9 371.0,1467.0 372.0,1467.1 373.0,1467.3 374.0,1467.4 375.0,1467.6 376.0,1467.7 377.0,1467.9 378.0,1468.0 379.0,1468.2 380.0,1468.4 381.0,1468.5 382.0,1468.7 383.0,1468.9 384.0,1469.1 385.0,1469.2 386.0,1469.4 387.0,1469.6 388.0,1469.8 389.0,1470.0 390.0,1470.2 391.0,1470.4 392.0,1470.6 393.0,1470.8 394.0,1471.0 395.0,1471.2 396.0,1471.4 397.0,1471.6 398.0,1471.8 399.0,1472.0 400.0,1472.2 401.0,1472.4 402.0,1472.6 403.0,1472.8 404.0,1473.0 405.0,1473.2 406.0,1473.4 407.0,1473.6 408.0,1473.8 409.0,1474.0 410.0,1474.2 411.0,1474.4 412.0,1474.6 413.0,1474.8 414.0,1475.0 415.0,1475.2 416.0,1475.4 417.0,1475.6 418.0,1475.8 419.0,1476.0 420.0,1476.2 421.0,1476.4 422.0,1476.6 423.0,1476.8 424.0,1477.0 425.0,1477.2 426.0,1477.3 427.0,1477.5 428.0,1477.7 429.0,1477.9 430.0,1478.1 431.0,1478.3 432.0,1478.4 433.0,1478.6 434.0,1478.8 435.0,1479.0 436.0,1479.1 437.0,1479.3 438.0,1479.5 439.0,1479.6 440.0,1479.8 441.0,1480.0 442.0,1480.1 443.0,1480.3 444.0,1480.4 445.0,1480.6 446.0,1480.8 447.0,1480.9 448.0,1481.1 449.0,1481.2 450.0,1481.4 451.0,1481.5 452.0,1481.7 453.0,1481.8 454.0,1481.9 455.0,1482.1 456.0,1482.2 457.0,1482.4 458.0,1482.5 459.0,1482.6 460.0,1482.8 461.0,1482.9 462.0,1483.0 463.0,1483.2 464.0,1483.3 465.0,1483.4 466.0,1483.5 467.0,1483.7 468.0,1483.8 469.0,1483.9 470.0,1484.0 471.0,1484.1 472.0,1484.3 473.0,1484.4 474.0,1484.5 475.0,1484.6 476.0,1484.7 477.0,1484.8 478.0,1484.9 479.0,1485.0 480.0,1485.1 481.0,1485.2 482.0,1485.3 483.0,1485.4 484.0,1485.5 485.0,1485.6 486.0,1485.7 487.0,1485.8 488.0,1485.9 489.0,1486.0 490.0,1486.1 491.0,1486.1 492.0,1486.2 493.0,1486.3 494.0,1486.4 495.0,1486.5 496.0,1486.5 497.0,1486.6 498.0,1486.7 499.0,1486.8 500.0,1486.8 501.0,1486.9 502.0,1487.0 503.0,1487.1 504.0,1487.1 505.0,1487.2 506.0,1487.3 507.0,1487.3 508.0,1487.4 509.0,1487.5 510.0,1487.5 511.0,1487.6 512.0,1487.7 513.0,1487.7 514.0,1487.8 515.0,1487.8 516.0,1487.9 517.0,1488.0 518.0,1488.0 519.0,1488.1 520.0,1488.1 521.0,1488.2 522.0,1488.2 523.0,1488.3 524.0,1488.4 525.0,1488.4 526.0,1488.5 527.0,1488.5 528.0,1488.6 529.0,1488.6 530.0,1488.7 531.0,1488.7 532.0,1488.8 533.0,1488.8 534.0,1488.9 535.0,1488.9 536.0,1489.0 537.0,1489.0 538.0,1489.1 539.0,1489.1 540.0,1489.1 541.0,1489.2 542.0,1489.2 543.0,1489.3 544.0,1489.3 545.0,1489.4 546.0,1489.4 547.0,1489.4 548.0,1489.5 549.0,1489.5 550.0,1489.6 551.0,1489.6 552.0,1489.6 553.0,1489.7 554.0,1489.7 555.0,1489.8 556.0,1489.8 557.0,1489.8 558.0,1489.9 559.0,1489.9 560.0,1490.0 561.0,1490.0 562.0,1490.0 563.0,1490.1 564.0,1490.1 565.0,1490.1 566.0,1490.2 567.0,1490.2 568.0,1490.2 569.0,1490.3 570.0,1490.3 571.0,1490.3 572.0,1490.4 573.0,1490.4 574.0,1490.4 575.0,1490.5 576.0,1490.5 577.0,1490.5 578.0,1490.6 579.0,1490.6 580.0,1490.6 581.0,1490.7 582.0,1490.7 583.0,1490.7 584.0,1490.8 585.0,1490.8 586.0,1490.8 587.0,1490.9 588.0,1490.9 589.0,1490.9 590.0,1490.9 591.0,1491.0 592.0,1491.0 593.0,1491.0 594.0,1491.1 595.0,1491.1 596.0,1491.1 597.0,1491.1 598.0,1491.2 599.0,1491.2 600.0,1491.2 601.0,1491.3 602.0,1491.3 603.0,1491.3 604.0,1491.3 605.0,1491.4 606.0,1491.4 607.0,1491.4 608.0,1491.5 609.0,1491.5 610.0,1491.5 611.0,1491.5 612.0,1491.6 613.0,1491.6 614.0,1491.6 615.0,1491.6 616.0,1491.7 617.0,1491.7 618.0,1491.7 619.0,1491.7 620.0,1491.8 621.0,1491.8 622.0,1491.8 623.0,1491.8 624.0,1491.9 625.0,1491.9 626.0,1491.9 627.0,1491.9 628.0,1492.0 629.0,1492.0 630.0,1492.0 631.0,1492.0 632.0,1492.1 633.0,1492.1 634.0,1492.1 635.0,1492.1 636.0,1492.2 637.0,1492.2 638.0,1492.2 639.0,1492.2 640.0,1492.3 641.0,1492.3 642.0,1492.3 643.0,1492.3 644.0,1492.4 645.0,1492.4 646.0,1492.4 647.0,1492.4 648.0,1492.5 649.0,1492.5 650.0,1492.5 651.0,1492.5 652.0,1492.6 653.0,1492.6 654.0,1492.6 655.0,1492.6 656.0,1492.7 657.0,1492.7 658.0,1492.7 659.0,1492.7 660.0,1492.7 661.0,1492.8 662.0,1492.8 663.0,1492.8 664.0,1492.8 665.0,1492.9 666.0,1492.9 667.0,1492.9 668.0,1492.9 669.0,1493.0 670.0,1493.0 671.0,1493.0 672.0,1493.0 673.0,1493.1 674.0,1493.1 675.0,1493.1 676.0,1493.1 677.0,1493.1 678.0,1493.2 679.0,1493.2 680.0,1493.2 681.0,1493.2 682.0,1493.3 683.0,1493.3 684.0,1493.3 685.0,1493.3 686.0,1493.3 687.0,1493.4 688.0,1493.4 689.0,1493.4 690.0,1493.4 691.0,1493.5 692.0,1493.5 693.0,1493.5 694.0,1493.5 695.0,1493.5 696.0,1493.6 697.0,1493.6 698.0,1493.6 699.0,1493.6 700.0,1493.7 701.0,1493.7 702.0,1493.7 703.0,1493.7 704.0,1493.7 705.0,1493.8 706.0,1493.8 707.0,1493.8 708.0,1493.8 709.0,1493.8 710.0,1493.9 711.0,1493.9 712.0,1493.9 713.0,1493.9 714.0,1494.0 715.0,1494.0 716.0,1494.0 717.0,1494.0 718.0,1494.0 719.0,1494.1 720.0,1494.1 721.0,1494.1 722.0,1494.1 723.0,1494.1 724.0,1494.2 725.0,1494.2 726.0,1494.2 727.0,1494.2 728.0,1494.2 729.0,1494.3 730.0,1494.3 731.0,1494.3 732.0,1494.3 733.0,1494.4 734.0,1494.4 735.0,1494.4 736.0,1494.4 737.0,1494.4 738.0,1494.5 739.0,1494.5 740.0,1494.5 741.0,1494.5 742.0,1494.5 743.0,1494.6 744.0,1494.6 745.0,1494.6 746.0,1494.6 747.0,1494.6 748.0,1494.6 749.0,1494.7 750.0,1494.7 751.0,1494.7 752.0,1494.7 753.0,1494.7 754.0,1494.8 755.0,1494.8 756.0,1494.8 757.0,1494.8 758.0,1494.8 759.0,1494.9 760.0,1494.9 761.0,1494.9 762.0,1494.9 763.0,1494.9 764.0,1494.9 765.0,1495.0 766.0,1495.0 767.0,1495.0 768.0,1495.0 769.0,1495.0 770.0,1495.1 771.0,1495.1 772.0,1495.1 773.0,1495.1 774.0,1495.1 775.0,1495.1 776.0,1495.2 777.0,1495.2 778.0,1495.2 779.0,1495.2 780.0,1495.2 781.0,1495.3 782.0,1495.3 783.0,1495.3 784.0,1495.3 785.0,1495.3 786.0,1495.3 787.0,1495.4 788.0,1495.4 789.0,1495.4 790.0,1495.4 791.0,1495.4 792.0,1495.5 793.0,1495.5 794.0,1495.5 795.0,1495.5 796.0,1495.5 797.0,1495.5 798.0,1495.6 799.0,1495.6 800.0,1495.6 801.0,1495.6 802.0,1495.6 803.0,1495.6 804.0,1495.7 805.0,1495.7 806.0,1495.7 807.0,1495.7 808.0,1495.7 809.0,1495.8 810.0,1495.8 811.0,1495.8 812.0,1495.8 813.0,1495.8 814.0,1495.8 815.0,1495.9 816.0,1495.9 817.0,1495.9 818.0,1495.9 819.0,1495.9 820.0,1495.9 821.0,1496.0 822.0,1496.0 823.0,1496.0 824.0,1496.0 825.0,1496.0 826.0,1496.1 827.0,1496.1 828.0,1496.1 829.0,1496.1 830.0,1496.1 831.0,1496.1 832.0,1496.2 833.0,1496.2 834.0,1496.2 835.0,1496.2 836.0,1496.2 837.0,1496.2 838.0,1496.3 839.0,1496.3 840.0,1496.3 841.0,1496.3 842.0,1496.3 843.0,1496.3 844.0,1496.4 845.0,1496.4 846.0,1496.4 847.0,1496.4 848.0,1496.4 849.0,1496.5 850.0,1496.5 851.0,1496.5 852.0,1496.5 853.0,1496.5 854.0,1496.5 855.0,1496.6 856.0,1496.6 857.0,1496.6 858.0,1496.6 859.0,1496.6 860.0,1496.6 861.0,1496.7 862.0,1496.7 863.0,1496.7 864.0,1496.7 865.0,1496.7 866.0,1496.7 867.0,1496.8 868.0,1496.8 869.0,1496.8 870.0,1496.8 871.0,1496.8 872.0,1496.8 873.0,1496.9 874.0,1496.9 875.0,1496.9 876.0,1496.9 877.0,1496.9 878.0,1496.9 879.0,1497.0 880.0,1497.0 881.0,1497.0 882.0,1497.0 883.0,1497.0 884.0,1497.0 885.0,1497.1 886.0,1497.1 887.0,1497.1 888.0,1497.1 889.0,1497.1 890.0,1497.2 891.0,1497.2 892.0,1497.2 893.0,1497.2 894.0,1497.2 895.0,1497.2 896.0,1497.3 897.0,1497.3 898.0,1497.3 899.0,1497.3 900.0,1497.3 901.0,1497.3 902.0,1497.4 903.0,1497.4 904.0,1497.4 905.0,1497.4 906.0,1497.4 907.0,1497.4 908.0,1497.5 909.0,1497.5 910.0,1497.5 911.0,1497.5 912.0,1497.5 913.0,1497.5 914.0,1497.6 915.0,1497.6 916.0,1497.6 917.0,1497.6 918.0,1497.6 919.0,1497.6 920.0,1497.7 921.0,1497.7 922.0,1497.7 923.0,1497.7 924.0,1497.7 925.0,1497.7 926.0,1497.8 927.0,1497.8 928.0,1497.8 929.0,1497.8 930.0,1497.8 931.0,1497.8 932.0,1497.9 933.0,1497.9 934.0,1497.9 935.0,1497.9 936.0,1497.9 937.0,1497.9 938.0,1498.0 939.0,1498.0 940.0,1498.0 941.0,1498.0 942.0,1498.0 943.0,1498.0 944.0,1498.1 945.0,1498.1 946.0,1498.1 947.0,1498.1 948.0,1498.1 949.0,1498.1 950.0,1498.2 951.0,1498.2 952.0,1498.2 953.0,1498.2 954.0,1498.2 955.0,1498.2 956.0,1498.3 957.0,1498.3 958.0,1498.3 959.0,1498.3 960.0,1498.3 961.0,1498.3 962.0,1498.3 963.0,1498.4 964.0,1498.4 965.0,1498.4 966.0,1498.4 967.0,1498.4 968.0,1498.4 969.0,1498.5 970.0,1498.5 971.0,1498.5 972.0,1498.5 973.0,1498.5 974.0,1498.5 975.0,1498.6 976.0,1498.6 977.0,1498.6 978.0,1498.6 979.0,1498.6 980.0,1498.6 981.0,1498.7 982.0,1498.7 983.0,1498.7 984.0,1498.7 985.0,1498.7 986.0,1498.7 987.0,1498.8 988.0,1498.8 989.0,1498.8 990.0,1498.8 991.0,1498.8 992.0,1498.8 993.0,1498.9 994.0,1498.9 995.0,1498.9 996.0,1498.9 997.0,1498.9 998.0,1498.9 999.0,1499.0 1000.0,1499.0 1001.0,1499.0 1002.0,1499.0 1003.0,1499.0 1004.0,1499.0 1005.0,1499.1 1006.0,1499.1 1007.0,1499.1 1008.0,1499.1 1009.0,1499.1 1010.0,1499.1 1011.0,1499.1 1012.0,1499.2 1013.0,1499.2 1014.0,1499.2 1015.0,1499.2 1016.0,1499.2 1017.0,1499.2 1018.0,1499.3 1019.0,1499.3 1020.0,1499.3 1021.0,1499.3 1022.0,1499.3 1023.0,1499.3 1024.0,1499.4 1025.0,1499.4 1026.0,1499.4 1027.0,1499.4 1028.0,1499.4 1029.0,1499.4 1030.0,1499.5 1031.0,1499.5 1032.0,1499.5 1033.0,1499.5 1034.0,1499.5 1035.0,1499.5 1036.0,1499.6 1037.0,1499.6 1038.0,1499.6 1039.0,1499.6 1040.0,1499.6 1041.0,1499.6 1042.0,1499.7 1043.0,1499.7 1044.0,1499.7 1045.0,1499.7 1046.0,1499.7 1047.0,1499.7 1048.0,1499.7 1049.0,1499.8 1050.0,1499.8 1051.0,1499.8 1052.0,1499.8 1053.0,1499.8 1054.0,1499.8 1055.0,1499.9 1056.0,1499.9 1057.0,1499.9 1058.0,1499.9 1059.0,1499.9 1060.0,1499.9 1061.0,1500.0 1062.0,1500.0 1063.0,1500.0 1064.0,1500.0 1065.0,1500.0 1066.0,1500.0 1067.0,1500.1" fill="none" stroke="#ff7f00" stroke-width="4" stroke-linejoin="round" stroke-linecap="round" />
<line x1="351.5" y1="1468.5" x2="351.5" y2="1540.0" stroke="#c080ff" stroke-width="2.6" stroke-dasharray="4.5 4"/>
<line x1="726.3" y1="940.0" x2="726.3" y2="1540.0" stroke="#c080ff" stroke-width="2.6" stroke-dasharray="4.5 4"/>
<line x1="910.4" y1="1475.2" x2="910.4" y2="1540.0" stroke="#c080ff" stroke-width="2.6" stroke-dasharray="4.5 4"/>
<text x="27.08" y="932.20" style="font-family:'Liberation Serif','Times New Roman',serif;font-weight:bold;font-size:89px;letter-spacing:4px" fill="#000">(b)</text>
<text transform="translate(259.76,931.83) scale(0.9691,1)" style="font-family:'Liberation Serif','Times New Roman',serif;font-weight:bold;font-size:56.85px" fill="#000">C 1s</text>
<text transform="translate(763.08,938.53) scale(0.9200,1)" style="font-family:'Liberation Serif','Times New Roman',serif;font-weight:bold;font-size:41.94px;letter-spacing:1.815px" fill="#000">287.22 eV</text>
<text transform="translate(277.57,1435.83) scale(0.9200,1)" style="font-family:'Liberation Serif','Times New Roman',serif;font-weight:bold;font-size:42.18px;letter-spacing:1.755px" fill="#000">292.92 eV</text>
<text transform="translate(833.56,1439.92) scale(0.9200,1)" style="font-family:'Liberation Serif','Times New Roman',serif;font-weight:bold;font-size:42.50px;letter-spacing:1.579px" fill="#000">284.42 eV</text>
<text transform="translate(119.29,1590.00) scale(0.8900,1)" style="font-family:'Liberation Serif','Times New Roman',serif;font-weight:bold;font-size:40.20px;letter-spacing:3.548px" fill="#000">296</text>
<text transform="translate(250.55,1590.00) scale(0.8900,1)" style="font-family:'Liberation Serif','Times New Roman',serif;font-weight:bold;font-size:40.20px;letter-spacing:3.577px" fill="#000">294</text>
<text transform="translate(382.54,1590.00) scale(0.8900,1)" style="font-family:'Liberation Serif','Times New Roman',serif;font-weight:bold;font-size:40.20px;letter-spacing:3.518px" fill="#000">292</text>
<text transform="translate(513.96,1590.00) scale(0.8900,1)" style="font-family:'Liberation Serif','Times New Roman',serif;font-weight:bold;font-size:40.20px;letter-spacing:3.528px" fill="#000">290</text>
<text transform="translate(645.37,1590.00) scale(0.8900,1)" style="font-family:'Liberation Serif','Times New Roman',serif;font-weight:bold;font-size:40.20px;letter-spacing:3.538px" fill="#000">288</text>
<text transform="translate(776.79,1590.00) scale(0.8900,1)" style="font-family:'Liberation Serif','Times New Roman',serif;font-weight:bold;font-size:40.20px;letter-spacing:3.548px" fill="#000">286</text>
<text transform="translate(908.05,1590.00) scale(0.8900,1)" style="font-family:'Liberation Serif','Times New Roman',serif;font-weight:bold;font-size:40.20px;letter-spacing:3.577px" fill="#000">284</text>
<text transform="translate(1040.04,1590.00) scale(0.8900,1)" style="font-family:'Liberation Serif','Times New Roman',serif;font-weight:bold;font-size:40.20px;letter-spacing:3.518px" fill="#000">282</text>
<text x="368.62" y="1672.30" style="font-family:'Liberation Serif','Times New Roman',serif;font-weight:bold;font-size:54.75px;letter-spacing:0px" fill="#000">Binding Energy (eV)</text>
<text transform="translate(80.80,1386.75) rotate(-90)" style="font-family:'Liberation Serif','Times New Roman',serif;font-weight:bold;font-size:54.4px" fill="#000">Intensity (a.u.)</text>
<rect x="1262.6" y="862" width="918.4000000000001" height="680.5" fill="none" stroke="#1c1c1c" stroke-width="5"/>
<line x1="1262.6" y1="1542.5" x2="1262.6" y2="1527.5" stroke="#1c1c1c" stroke-width="4.5"/>
<line x1="1393.8" y1="1542.5" x2="1393.8" y2="1527.5" stroke="#1c1c1c" stroke-width="4.5"/>
<line x1="1525.0" y1="1542.5" x2="1525.0" y2="1527.5" stroke="#1c1c1c" stroke-width="4.5"/>
<line x1="1656.2" y1="1542.5" x2="1656.2" y2="1527.5" stroke="#1c1c1c" stroke-width="4.5"/>
<line x1="1787.4" y1="1542.5" x2="1787.4" y2="1527.5" stroke="#1c1c1c" stroke-width="4.5"/>
<line x1="1918.6" y1="1542.5" x2="1918.6" y2="1527.5" stroke="#1c1c1c" stroke-width="4.5"/>
<line x1="2049.8" y1="1542.5" x2="2049.8" y2="1527.5" stroke="#1c1c1c" stroke-width="4.5"/>
<line x1="2181.0" y1="1542.5" x2="2181.0" y2="1527.5" stroke="#1c1c1c" stroke-width="4.5"/>
<line x1="1328.2" y1="1542.5" x2="1328.2" y2="1533.5" stroke="#1c1c1c" stroke-width="4.5"/>
<line x1="1459.4" y1="1542.5" x2="1459.4" y2="1533.5" stroke="#1c1c1c" stroke-width="4.5"/>
<line x1="1590.6" y1="1542.5" x2="1590.6" y2="1533.5" stroke="#1c1c1c" stroke-width="4.5"/>
<line x1="1721.8" y1="1542.5" x2="1721.8" y2="1533.5" stroke="#1c1c1c" stroke-width="4.5"/>
<line x1="1853.0" y1="1542.5" x2="1853.0" y2="1533.5" stroke="#1c1c1c" stroke-width="4.5"/>
<line x1="1984.2" y1="1542.5" x2="1984.2" y2="1533.5" stroke="#1c1c1c" stroke-width="4.5"/>
<line x1="2115.4" y1="1542.5" x2="2115.4" y2="1533.5" stroke="#1c1c1c" stroke-width="4.5"/>
<polyline points="1263.6,1464.6 1267.6,1474.3 1271.6,1468.1 1275.6,1469.3 1279.6,1473.0 1283.6,1467.9 1287.6,1472.0 1291.6,1457.7 1295.6,1461.7 1299.6,1469.6 1303.6,1464.2 1307.6,1475.5 1311.6,1467.8 1315.6,1471.2 1319.6,1478.2 1323.6,1471.8 1327.6,1465.1 1331.6,1460.1 1335.6,1463.7 1339.6,1472.6 1343.6,1467.7 1347.6,1466.1 1351.6,1470.9 1355.6,1463.3 1359.6,1466.7 1363.6,1471.0 1367.6,1465.9 1371.6,1459.2 1375.6,1470.3 1379.6,1472.4 1383.6,1467.4 1387.6,1469.1 1391.6,1468.1 1395.6,1467.9 1399.6,1465.4 1403.6,1467.3 1407.6,1464.8 1411.6,1465.1 1415.6,1459.9 1419.6,1461.7 1423.6,1476.8 1427.6,1460.1 1431.6,1464.5 1435.6,1463.3 1439.6,1459.8 1443.6,1455.2 1447.6,1462.2 1451.6,1463.5 1455.6,1452.7 1459.6,1463.7 1463.6,1451.4 1467.6,1454.5 1471.6,1451.7 1475.6,1461.8 1479.6,1450.4 1483.6,1453.5 1487.6,1455.0 1491.6,1447.0 1495.6,1460.2 1499.6,1450.3 1503.6,1450.3 1507.6,1461.3 1511.6,1456.6 1515.6,1447.7 1519.6,1450.1 1523.6,1456.8 1527.6,1449.4 1531.6,1444.6 1535.6,1454.9 1539.6,1449.5 1543.6,1459.7 1547.6,1455.5 1551.6,1465.1 1555.6,1452.2 1559.6,1447.3 1563.6,1452.7 1567.6,1457.5 1571.6,1450.1 1575.6,1457.2 1579.6,1462.9 1583.6,1466.4 1587.6,1477.0 1591.6,1456.8 1595.6,1463.6 1599.6,1453.3 1603.6,1463.5 1607.6,1461.8 1611.6,1468.5 1615.6,1463.1 1619.6,1470.0 1623.6,1467.9 1627.6,1468.7 1631.6,1457.7 1635.6,1465.2 1639.6,1460.7 1643.6,1470.5 1647.6,1462.1 1651.6,1467.8 1655.6,1468.8 1659.6,1463.2 1663.6,1464.6 1667.6,1469.6 1671.6,1474.5 1675.6,1467.3 1679.6,1465.3 1683.6,1471.6 1687.6,1463.8 1691.6,1461.7 1695.6,1472.3 1699.6,1465.7 1703.6,1466.0 1707.6,1471.9 1711.6,1465.7 1715.6,1451.4 1719.6,1448.8 1723.6,1444.4 1727.6,1437.3 1731.6,1437.1 1735.6,1435.6 1739.6,1434.9 1743.6,1415.4 1747.6,1405.6 1751.6,1411.7 1755.6,1410.8 1759.6,1387.6 1763.6,1396.8 1767.6,1388.6 1771.6,1387.7 1775.6,1379.0 1779.6,1380.3 1783.6,1367.5 1787.6,1374.1 1791.6,1368.9 1795.6,1376.5 1799.6,1370.4 1803.6,1378.0 1807.6,1368.4 1811.6,1366.9 1815.6,1366.6 1819.6,1358.8 1823.6,1362.2 1827.6,1366.0 1831.6,1362.4 1835.6,1353.7 1839.6,1354.4 1843.6,1360.4 1847.6,1353.8 1851.6,1354.5 1855.6,1346.3 1859.6,1334.1 1863.6,1326.4 1867.6,1321.3 1871.6,1302.7 1875.6,1283.9 1879.6,1271.7 1883.6,1261.6 1887.6,1241.3 1891.6,1210.3 1895.6,1190.1 1899.6,1162.5 1903.6,1145.3 1907.6,1103.8 1911.6,1089.7 1915.6,1041.6 1919.6,1010.6 1923.6,970.1 1927.6,948.0 1931.6,922.2 1935.6,920.6 1939.6,919.6 1943.6,919.2 1947.6,932.5 1951.6,955.9 1955.6,987.8 1959.6,1019.1 1963.6,1069.3 1967.6,1114.0 1971.6,1155.2 1975.6,1206.6 1979.6,1246.7 1983.6,1310.1 1987.6,1347.9 1991.6,1389.5 1995.6,1410.8 1999.6,1430.7 2003.6,1442.9 2007.6,1474.6 2011.6,1468.4 2015.6,1491.0 2019.6,1489.7 2023.6,1483.2 2027.6,1484.0 2031.6,1497.0 2035.6,1494.2 2039.6,1493.1 2043.6,1492.6 2047.6,1485.3 2051.6,1498.0 2055.6,1495.6 2059.6,1495.4 2063.6,1497.0 2067.6,1494.8 2071.6,1500.8 2075.6,1512.2 2079.6,1492.9 2083.6,1501.0 2087.6,1501.6 2091.6,1503.1 2095.6,1494.1 2099.6,1494.0 2103.6,1504.5 2107.6,1495.0 2111.6,1508.5 2115.6,1502.1 2119.6,1495.0 2123.6,1503.1 2127.6,1495.1 2131.6,1496.0 2135.6,1493.6 2139.6,1503.0 2143.6,1501.2 2147.6,1495.4 2151.6,1493.7 2155.6,1501.6 2159.6,1506.9 2163.6,1501.3 2167.6,1496.2 2171.6,1497.9 2175.6,1495.7 2179.6,1481.2" fill="none" stroke="#686868" stroke-width="3.2" stroke-linejoin="round" stroke-linecap="round" />
<polyline points="1263.6,1480.0 1264.6,1480.1 1265.6,1480.1 1266.6,1480.1 1267.6,1480.2 1268.6,1480.2 1269.6,1480.2 1270.6,1480.2 1271.6,1480.3 1272.6,1480.3 1273.6,1480.3 1274.6,1480.3 1275.6,1480.4 1276.6,1480.4 1277.6,1480.4 1278.6,1480.5 1279.6,1480.5 1280.6,1480.5 1281.6,1480.5 1282.6,1480.6 1283.6,1480.6 1284.6,1480.6 1285.6,1480.6 1286.6,1480.7 1287.6,1480.7 1288.6,1480.7 1289.6,1480.8 1290.6,1480.8 1291.6,1480.8 1292.6,1480.8 1293.6,1480.9 1294.6,1480.9 1295.6,1480.9 1296.6,1480.9 1297.6,1481.0 1298.6,1481.0 1299.6,1481.0 1300.6,1481.1 1301.6,1481.1 1302.6,1481.1 1303.6,1481.1 1304.6,1481.2 1305.6,1481.2 1306.6,1481.2 1307.6,1481.2 1308.6,1481.3 1309.6,1481.3 1310.6,1481.3 1311.6,1481.4 1312.6,1481.4 1313.6,1481.4 1314.6,1481.4 1315.6,1481.5 1316.6,1481.5 1317.6,1481.5 1318.6,1481.5 1319.6,1481.6 1320.6,1481.6 1321.6,1481.6 1322.6,1481.7 1323.6,1481.7 1324.6,1481.7 1325.6,1481.7 1326.6,1481.8 1327.6,1481.8 1328.6,1481.8 1329.6,1481.8 1330.6,1481.9 1331.6,1481.9 1332.6,1481.9 1333.6,1482.0 1334.6,1482.0 1335.6,1482.0 1336.6,1482.0 1337.6,1482.1 1338.6,1482.1 1339.6,1482.1 1340.6,1482.1 1341.6,1482.2 1342.6,1482.2 1343.6,1482.2 1344.6,1482.3 1345.6,1482.3 1346.6,1482.3 1347.6,1482.3 1348.6,1482.4 1349.6,1482.4 1350.6,1482.4 1351.6,1482.4 1352.6,1482.5 1353.6,1482.5 1354.6,1482.5 1355.6,1482.6 1356.6,1482.6 1357.6,1482.6 1358.6,1482.6 1359.6,1482.7 1360.6,1482.7 1361.6,1482.7 1362.6,1482.8 1363.6,1482.8 1364.6,1482.8 1365.6,1482.8 1366.6,1482.9 1367.6,1482.9 1368.6,1482.9 1369.6,1482.9 1370.6,1483.0 1371.6,1483.0 1372.6,1483.0 1373.6,1483.1 1374.6,1483.1 1375.6,1483.1 1376.6,1483.1 1377.6,1483.2 1378.6,1483.2 1379.6,1483.2 1380.6,1483.2 1381.6,1483.3 1382.6,1483.3 1383.6,1483.3 1384.6,1483.4 1385.6,1483.4 1386.6,1483.4 1387.6,1483.4 1388.6,1483.5 1389.6,1483.5 1390.6,1483.5 1391.6,1483.5 1392.6,1483.6 1393.6,1483.6 1394.6,1483.6 1395.6,1483.7 1396.6,1483.7 1397.6,1483.7 1398.6,1483.7 1399.6,1483.8 1400.6,1483.8 1401.6,1483.8 1402.6,1483.8 1403.6,1483.9 1404.6,1483.9 1405.6,1483.9 1406.6,1484.0 1407.6,1484.0 1408.6,1484.0 1409.6,1484.0 1410.6,1484.1 1411.6,1484.1 1412.6,1484.1 1413.6,1484.1 1414.6,1484.2 1415.6,1484.2 1416.6,1484.2 1417.6,1484.3 1418.6,1484.3 1419.6,1484.3 1420.6,1484.3 1421.6,1484.4 1422.6,1484.4 1423.6,1484.4 1424.6,1484.4 1425.6,1484.5 1426.6,1484.5 1427.6,1484.5 1428.6,1484.6 1429.6,1484.6 1430.6,1484.6 1431.6,1484.6 1432.6,1484.7 1433.6,1484.7 1434.6,1484.7 1435.6,1484.7 1436.6,1484.8 1437.6,1484.8 1438.6,1484.8 1439.6,1484.9 1440.6,1484.9 1441.6,1484.9 1442.6,1484.9 1443.6,1485.0 1444.6,1485.0 1445.6,1485.0 1446.6,1485.0 1447.6,1485.1 1448.6,1485.1 1449.6,1485.1 1450.6,1485.2 1451.6,1485.2 1452.6,1485.2 1453.6,1485.2 1454.6,1485.3 1455.6,1485.3 1456.6,1485.3 1457.6,1485.3 1458.6,1485.4 1459.6,1485.4 1460.6,1485.4 1461.6,1485.5 1462.6,1485.5 1463.6,1485.5 1464.6,1485.5 1465.6,1485.6 1466.6,1485.6 1467.6,1485.6 1468.6,1485.6 1469.6,1485.7 1470.6,1485.7 1471.6,1485.7 1472.6,1485.8 1473.6,1485.8 1474.6,1485.8 1475.6,1485.8 1476.6,1485.9 1477.6,1485.9 1478.6,1485.9 1479.6,1485.9 1480.6,1486.0 1481.6,1486.0 1482.6,1486.0 1483.6,1486.1 1484.6,1486.1 1485.6,1486.1 1486.6,1486.1 1487.6,1486.2 1488.6,1486.2 1489.6,1486.2 1490.6,1486.3 1491.6,1486.3 1492.6,1486.3 1493.6,1486.3 1494.6,1486.4 1495.6,1486.4 1496.6,1486.4 1497.6,1486.4 1498.6,1486.5 1499.6,1486.5 1500.6,1486.5 1501.6,1486.6 1502.6,1486.6 1503.6,1486.6 1504.6,1486.6 1505.6,1486.7 1506.6,1486.7 1507.6,1486.7 1508.6,1486.7 1509.6,1486.8 1510.6,1486.8 1511.6,1486.8 1512.6,1486.9 1513.6,1486.9 1514.6,1486.9 1515.6,1486.9 1516.6,1487.0 1517.6,1487.0 1518.6,1487.0 1519.6,1487.0 1520.6,1487.1 1521.6,1487.1 1522.6,1487.1 1523.6,1487.2 1524.6,1487.2 1525.6,1487.2 1526.6,1487.2 1527.6,1487.3 1528.6,1487.3 1529.6,1487.3 1530.6,1487.4 1531.6,1487.4 1532.6,1487.4 1533.6,1487.5 1534.6,1487.5 1535.6,1487.5 1536.6,1487.6 1537.6,1487.6 1538.6,1487.7 1539.6,1487.7 1540.6,1487.7 1541.6,1487.8 1542.6,1487.8 1543.6,1487.8 1544.6,1487.9 1545.6,1487.9 1546.6,1488.0 1547.6,1488.0 1548.6,1488.0 1549.6,1488.1 1550.6,1488.1 1551.6,1488.1 1552.6,1488.2 1553.6,1488.2 1554.6,1488.3 1555.6,1488.3 1556.6,1488.3 1557.6,1488.4 1558.6,1488.4 1559.6,1488.5 1560.6,1488.5 1561.6,1488.5 1562.6,1488.6 1563.6,1488.6 1564.6,1488.6 1565.6,1488.7 1566.6,1488.7 1567.6,1488.8 1568.6,1488.8 1569.6,1488.8 1570.6,1488.9 1571.6,1488.9 1572.6,1488.9 1573.6,1489.0 1574.6,1489.0 1575.6,1489.1 1576.6,1489.1 1577.6,1489.1 1578.6,1489.2 1579.6,1489.2 1580.6,1489.2 1581.6,1489.3 1582.6,1489.3 1583.6,1489.4 1584.6,1489.4 1585.6,1489.4 1586.6,1489.5 1587.6,1489.5 1588.6,1489.5 1589.6,1489.6 1590.6,1489.6 1591.6,1489.7 1592.6,1489.7 1593.6,1489.7 1594.6,1489.8 1595.6,1489.8 1596.6,1489.8 1597.6,1489.9 1598.6,1489.9 1599.6,1490.0 1600.6,1490.0 1601.6,1490.0 1602.6,1490.1 1603.6,1490.1 1604.6,1490.1 1605.6,1490.2 1606.6,1490.2 1607.6,1490.3 1608.6,1490.3 1609.6,1490.3 1610.6,1490.4 1611.6,1490.4 1612.6,1490.4 1613.6,1490.5 1614.6,1490.5 1615.6,1490.6 1616.6,1490.6 1617.6,1490.6 1618.6,1490.7 1619.6,1490.7 1620.6,1490.7 1621.6,1490.8 1622.6,1490.8 1623.6,1490.9 1624.6,1490.9 1625.6,1490.9 1626.6,1491.0 1627.6,1491.0 1628.6,1491.0 1629.6,1491.1 1630.6,1491.1 1631.6,1491.2 1632.6,1491.2 1633.6,1491.2 1634.6,1491.3 1635.6,1491.3 1636.6,1491.3 1637.6,1491.4 1638.6,1491.4 1639.6,1491.5 1640.6,1491.5 1641.6,1491.6 1642.6,1491.7 1643.6,1491.8 1644.6,1491.9 1645.6,1492.0 1646.6,1492.1 1647.6,1492.2 1648.6,1492.3 1649.6,1492.4 1650.6,1492.5 1651.6,1492.6 1652.6,1492.7 1653.6,1492.8 1654.6,1492.9 1655.6,1493.0 1656.6,1493.0 1657.6,1493.1 1658.6,1493.2 1659.6,1493.3 1660.6,1493.3 1661.6,1493.4 1662.6,1493.5 1663.6,1493.6 1664.6,1493.6 1665.6,1493.7 1666.6,1493.8 1667.6,1493.9 1668.6,1494.0 1669.6,1494.0 1670.6,1494.1 1671.6,1494.2 1672.6,1494.3 1673.6,1494.3 1674.6,1494.4 1675.6,1494.5 1676.6,1494.6 1677.6,1494.6 1678.6,1494.7 1679.6,1494.8 1680.6,1494.9 1681.6,1494.9 1682.6,1495.0 1683.6,1495.1 1684.6,1495.2 1685.6,1495.3 1686.6,1495.3 1687.6,1495.4 1688.6,1495.5 1689.6,1495.6 1690.6,1495.6 1691.6,1495.6 1692.6,1495.6 1693.6,1495.6 1694.6,1495.7 1695.6,1495.7 1696.6,1495.7 1697.6,1495.7 1698.6,1495.7 1699.6,1495.7 1700.6,1495.8 1701.6,1495.8 1702.6,1495.8 1703.6,1495.8 1704.6,1495.8 1705.6,1495.8 1706.6,1495.9 1707.6,1495.9 1708.6,1495.9 1709.6,1495.9 1710.6,1495.9 1711.6,1495.9 1712.6,1496.0 1713.6,1496.0 1714.6,1496.0 1715.6,1496.0 1716.6,1496.0 1717.6,1496.0 1718.6,1496.1 1719.6,1496.1 1720.6,1496.1 1721.6,1496.1 1722.6,1496.1 1723.6,1496.1 1724.6,1496.2 1725.6,1496.2 1726.6,1496.2 1727.6,1496.2 1728.6,1496.2 1729.6,1496.2 1730.6,1496.3 1731.6,1496.3 1732.6,1496.3 1733.6,1496.3 1734.6,1496.3 1735.6,1496.3 1736.6,1496.4 1737.6,1496.4 1738.6,1496.4 1739.6,1496.4 1740.6,1496.4 1741.6,1496.4 1742.6,1496.4 1743.6,1496.5 1744.6,1496.5 1745.6,1496.5 1746.6,1496.5 1747.6,1496.5 1748.6,1496.5 1749.6,1496.6 1750.6,1496.6 1751.6,1496.6 1752.6,1496.6 1753.6,1496.6 1754.6,1496.6 1755.6,1496.7 1756.6,1496.7 1757.6,1496.7 1758.6,1496.7 1759.6,1496.7 1760.6,1496.7 1761.6,1496.8 1762.6,1496.8 1763.6,1496.8 1764.6,1496.8 1765.6,1496.8 1766.6,1496.8 1767.6,1496.9 1768.6,1496.9 1769.6,1496.9 1770.6,1496.9 1771.6,1496.9 1772.6,1496.9 1773.6,1497.0 1774.6,1497.0 1775.6,1497.0 1776.6,1497.0 1777.6,1497.0 1778.6,1497.0 1779.6,1497.1 1780.6,1497.1 1781.6,1497.1 1782.6,1497.1 1783.6,1497.1 1784.6,1497.1 1785.6,1497.2 1786.6,1497.2 1787.6,1497.2 1788.6,1497.2 1789.6,1497.2 1790.6,1497.2 1791.6,1497.3 1792.6,1497.3 1793.6,1497.3 1794.6,1497.3 1795.6,1497.3 1796.6,1497.3 1797.6,1497.3 1798.6,1497.4 1799.6,1497.4 1800.6,1497.4 1801.6,1497.4 1802.6,1497.4 1803.6,1497.4 1804.6,1497.5 1805.6,1497.5 1806.6,1497.6 1807.6,1497.7 1808.6,1497.8 1809.6,1497.9 1810.6,1498.0 1811.6,1498.1 1812.6,1498.2 1813.6,1498.3 1814.6,1498.3 1815.6,1498.4 1816.6,1498.5 1817.6,1498.6 1818.6,1498.7 1819.6,1498.8 1820.6,1498.9 1821.6,1499.0 1822.6,1499.1 1823.6,1499.2 1824.6,1499.3 1825.6,1499.3 1826.6,1499.3 1827.6,1499.3 1828.6,1499.4 1829.6,1499.4 1830.6,1499.4 1831.6,1499.4 1832.6,1499.4 1833.6,1499.4 1834.6,1499.5 1835.6,1499.5 1836.6,1499.5 1837.6,1499.5 1838.6,1499.5 1839.6,1499.5 1840.6,1499.6 1841.6,1499.6 1842.6,1499.6 1843.6,1499.6 1844.6,1499.6 1845.6,1499.6 1846.6,1499.7 1847.6,1499.7 1848.6,1499.7 1849.6,1499.7 1850.6,1499.7 1851.6,1499.7 1852.6,1499.7 1853.6,1499.8 1854.6,1499.8 1855.6,1499.8 1856.6,1499.8 1857.6,1499.8 1858.6,1499.8 1859.6,1499.9 1860.6,1499.9 1861.6,1499.9 1862.6,1499.9 1863.6,1499.9 1864.6,1499.9 1865.6,1500.0 1866.6,1500.0 1867.6,1500.0 1868.6,1500.0 1869.6,1500.0 1870.6,1500.0 1871.6,1500.1 1872.6,1500.1 1873.6,1500.1 1874.6,1500.1 1875.6,1500.1 1876.6,1500.1 1877.6,1500.2 1878.6,1500.2 1879.6,1500.2 1880.6,1500.2 1881.6,1500.2 1882.6,1500.2 1883.6,1500.3 1884.6,1500.3 1885.6,1500.2 1886.6,1499.9 1887.6,1499.7 1888.6,1499.5 1889.6,1499.3 1890.6,1499.1 1891.6,1498.9 1892.6,1498.7 1893.6,1498.5 1894.6,1498.3 1895.6,1498.1 1896.6,1497.9 1897.6,1497.6 1898.6,1497.4 1899.6,1497.2 1900.6,1497.0 1901.6,1496.8 1902.6,1496.6 1903.6,1496.4 1904.6,1496.2 1905.6,1496.1 1906.6,1496.1 1907.6,1496.1 1908.6,1496.2 1909.6,1496.2 1910.6,1496.2 1911.6,1496.2 1912.6,1496.2 1913.6,1496.2 1914.6,1496.2 1915.6,1496.3 1916.6,1496.3 1917.6,1496.3 1918.6,1496.3 1919.6,1496.3 1920.6,1496.3 1921.6,1496.4 1922.6,1496.4 1923.6,1496.4 1924.6,1496.4 1925.6,1496.4 1926.6,1496.4 1927.6,1496.5 1928.6,1496.5 1929.6,1496.5 1930.6,1496.5 1931.6,1496.5 1932.6,1496.5 1933.6,1496.6 1934.6,1496.6 1935.6,1496.6 1936.6,1496.6 1937.6,1496.6 1938.6,1496.6 1939.6,1496.6 1940.6,1496.7 1941.6,1496.7 1942.6,1496.7 1943.6,1496.7 1944.6,1496.7 1945.6,1496.7 1946.6,1496.8 1947.6,1496.8 1948.6,1496.8 1949.6,1496.8 1950.6,1496.8 1951.6,1496.8 1952.6,1496.9 1953.6,1496.9 1954.6,1496.9 1955.6,1496.9 1956.6,1496.9 1957.6,1496.9 1958.6,1497.0 1959.6,1497.0 1960.6,1497.0 1961.6,1497.0 1962.6,1497.0 1963.6,1497.0 1964.6,1497.0 1965.6,1497.1 1966.6,1497.1 1967.6,1497.1 1968.6,1497.1 1969.6,1497.1 1970.6,1497.1 1971.6,1497.2 1972.6,1497.2 1973.6,1497.2 1974.6,1497.2 1975.6,1497.2 1976.6,1497.2 1977.6,1497.3 1978.6,1497.3 1979.6,1497.3 1980.6,1497.3 1981.6,1497.3 1982.6,1497.3 1983.6,1497.3 1984.6,1497.4 1985.6,1497.4 1986.6,1497.4 1987.6,1497.4 1988.6,1497.4 1989.6,1497.4 1990.6,1497.5 1991.6,1497.5 1992.6,1497.5 1993.6,1497.5 1994.6,1497.5 1995.6,1497.5 1996.6,1497.6 1997.6,1497.6 1998.6,1497.6 1999.6,1497.6 2000.6,1497.6 2001.6,1497.6 2002.6,1497.7 2003.6,1497.7 2004.6,1497.7 2005.6,1497.7 2006.6,1497.7 2007.6,1497.7 2008.6,1497.7 2009.6,1497.8 2010.6,1497.8 2011.6,1497.8 2012.6,1497.8 2013.6,1497.8 2014.6,1497.8 2015.6,1497.9 2016.6,1497.9 2017.6,1497.9 2018.6,1497.9 2019.6,1497.9 2020.6,1497.9 2021.6,1498.0 2022.6,1498.0 2023.6,1498.0 2024.6,1498.0 2025.6,1498.0 2026.6,1498.0 2027.6,1498.1 2028.6,1498.1 2029.6,1498.1 2030.6,1498.1 2031.6,1498.1 2032.6,1498.1 2033.6,1498.1 2034.6,1498.2 2035.6,1498.2 2036.6,1498.2 2037.6,1498.2 2038.6,1498.2 2039.6,1498.2 2040.6,1498.3 2041.6,1498.3 2042.6,1498.3 2043.6,1498.3 2044.6,1498.3 2045.6,1498.3 2046.6,1498.4 2047.6,1498.4 2048.6,1498.4 2049.6,1498.4 2050.6,1498.4 2051.6,1498.4 2052.6,1498.5 2053.6,1498.5 2054.6,1498.5 2055.6,1498.5 2056.6,1498.5 2057.6,1498.5 2058.6,1498.5 2059.6,1498.6 2060.6,1498.6 2061.6,1498.6 2062.6,1498.6 2063.6,1498.6 2064.6,1498.6 2065.6,1498.7 2066.6,1498.7 2067.6,1498.7 2068.6,1498.7 2069.6,1498.7 2070.6,1498.7 2071.6,1498.8 2072.6,1498.8 2073.6,1498.8 2074.6,1498.8 2075.6,1498.8 2076.6,1498.8 2077.6,1498.8 2078.6,1498.9 2079.6,1498.9 2080.6,1498.9 2081.6,1498.9 2082.6,1498.9 2083.6,1498.9 2084.6,1499.0 2085.6,1499.0 2086.6,1499.0 2087.6,1499.0 2088.6,1499.0 2089.6,1499.0 2090.6,1499.1 2091.6,1499.1 2092.6,1499.1 2093.6,1499.1 2094.6,1499.1 2095.6,1499.1 2096.6,1499.2 2097.6,1499.2 2098.6,1499.2 2099.6,1499.2 2100.6,1499.2 2101.6,1499.2 2102.6,1499.2 2103.6,1499.3 2104.6,1499.3 2105.6,1499.3 2106.6,1499.3 2107.6,1499.3 2108.6,1499.3 2109.6,1499.4 2110.6,1499.4 2111.6,1499.4 2112.6,1499.4 2113.6,1499.4 2114.6,1499.4 2115.6,1499.5 2116.6,1499.5 2117.6,1499.5 2118.6,1499.5 2119.6,1499.5 2120.6,1499.5 2121.6,1499.6 2122.6,1499.6 2123.6,1499.6 2124.6,1499.6 2125.6,1499.6 2126.6,1499.6 2127.6,1499.6 2128.6,1499.7 2129.6,1499.7 2130.6,1499.7 2131.6,1499.7 2132.6,1499.7 2133.6,1499.7 2134.6,1499.8 2135.6,1499.8 2136.6,1499.8 2137.6,1499.8 2138.6,1499.8 2139.6,1499.8 2140.6,1499.9 2141.6,1499.9 2142.6,1499.9 2143.6,1499.9 2144.6,1499.9 2145.6,1499.9 2146.6,1500.0 2147.6,1500.0 2148.6,1500.0 2149.6,1500.0 2150.6,1500.0 2151.6,1500.0 2152.6,1500.0 2153.6,1500.1 2154.6,1500.1 2155.6,1500.1 2156.6,1500.1 2157.6,1500.1 2158.6,1500.1 2159.6,1500.2 2160.6,1500.2 2161.6,1500.2 2162.6,1500.2 2163.6,1500.2 2164.6,1500.2 2165.6,1500.3 2166.6,1500.3 2167.6,1500.3 2168.6,1500.3 2169.6,1500.3 2170.6,1500.3 2171.6,1500.3 2172.6,1500.4 2173.6,1500.4 2174.6,1500.4 2175.6,1500.4 2176.6,1500.4 2177.6,1500.4 2178.6,1500.5" fill="none" stroke="#0000ff" stroke-width="4" stroke-linejoin="round" stroke-linecap="round" />
<polyline points="1263.6,1480.0 1264.6,1480.1 1265.6,1480.1 1266.6,1480.1 1267.6,1480.2 1268.6,1480.2 1269.6,1480.2 1270.6,1480.2 1271.6,1480.3 1272.6,1480.3 1273.6,1480.3 1274.6,1480.3 1275.6,1480.4 1276.6,1480.4 1277.6,1480.4 1278.6,1480.5 1279.6,1480.5 1280.6,1480.5 1281.6,1480.5 1282.6,1480.6 1283.6,1480.6 1284.6,1480.6 1285.6,1480.6 1286.6,1480.7 1287.6,1480.7 1288.6,1480.7 1289.6,1480.8 1290.6,1480.8 1291.6,1480.8 1292.6,1480.8 1293.6,1480.9 1294.6,1480.9 1295.6,1480.9 1296.6,1480.9 1297.6,1481.0 1298.6,1481.0 1299.6,1481.0 1300.6,1481.1 1301.6,1481.1 1302.6,1481.1 1303.6,1481.1 1304.6,1481.2 1305.6,1481.2 1306.6,1481.2 1307.6,1481.2 1308.6,1481.3 1309.6,1481.3 1310.6,1481.3 1311.6,1481.4 1312.6,1481.4 1313.6,1481.4 1314.6,1481.4 1315.6,1481.5 1316.6,1481.5 1317.6,1481.5 1318.6,1481.5 1319.6,1481.6 1320.6,1481.6 1321.6,1481.6 1322.6,1481.7 1323.6,1481.7 1324.6,1481.7 1325.6,1481.7 1326.6,1481.8 1327.6,1481.8 1328.6,1481.8 1329.6,1481.8 1330.6,1481.9 1331.6,1481.9 1332.6,1481.9 1333.6,1482.0 1334.6,1482.0 1335.6,1482.0 1336.6,1482.0 1337.6,1482.1 1338.6,1482.1 1339.6,1482.1 1340.6,1482.1 1341.6,1482.2 1342.6,1482.2 1343.6,1482.2 1344.6,1482.3 1345.6,1482.3 1346.6,1482.3 1347.6,1482.3 1348.6,1482.4 1349.6,1482.4 1350.6,1482.4 1351.6,1482.4 1352.6,1482.5 1353.6,1482.5 1354.6,1482.5 1355.6,1482.6 1356.6,1482.6 1357.6,1482.6 1358.6,1482.6 1359.6,1482.7 1360.6,1482.7 1361.6,1482.7 1362.6,1482.8 1363.6,1482.8 1364.6,1482.8 1365.6,1482.8 1366.6,1482.9 1367.6,1482.9 1368.6,1482.9 1369.6,1482.9 1370.6,1483.0 1371.6,1483.0 1372.6,1483.0 1373.6,1483.1 1374.6,1483.1 1375.6,1483.1 1376.6,1483.1 1377.6,1483.2 1378.6,1483.2 1379.6,1483.2 1380.6,1483.2 1381.6,1483.3 1382.6,1483.3 1383.6,1483.3 1384.6,1483.4 1385.6,1483.4 1386.6,1483.4 1387.6,1483.4 1388.6,1483.5 1389.6,1483.5 1390.6,1483.5 1391.6,1483.5 1392.6,1483.6 1393.6,1483.6 1394.6,1483.6 1395.6,1483.7 1396.6,1483.7 1397.6,1483.7 1398.6,1483.7 1399.6,1483.8 1400.6,1483.8 1401.6,1483.8 1402.6,1483.8 1403.6,1483.9 1404.6,1483.9 1405.6,1483.9 1406.6,1484.0 1407.6,1484.0 1408.6,1484.0 1409.6,1484.0 1410.6,1484.1 1411.6,1484.1 1412.6,1484.1 1413.6,1484.1 1414.6,1484.2 1415.6,1484.2 1416.6,1484.2 1417.6,1484.3 1418.6,1484.3 1419.6,1484.3 1420.6,1484.3 1421.6,1484.4 1422.6,1484.4 1423.6,1484.4 1424.6,1484.4 1425.6,1484.5 1426.6,1484.5 1427.6,1484.5 1428.6,1484.6 1429.6,1484.6 1430.6,1484.6 1431.6,1484.6 1432.6,1484.7 1433.6,1484.7 1434.6,1484.7 1435.6,1484.7 1436.6,1484.8 1437.6,1484.8 1438.6,1484.8 1439.6,1484.9 1440.6,1484.9 1441.6,1484.9 1442.6,1484.9 1443.6,1485.0 1444.6,1485.0 1445.6,1485.0 1446.6,1485.0 1447.6,1485.1 1448.6,1485.1 1449.6,1485.1 1450.6,1485.2 1451.6,1485.2 1452.6,1485.2 1453.6,1485.2 1454.6,1485.3 1455.6,1485.3 1456.6,1485.3 1457.6,1485.3 1458.6,1485.4 1459.6,1485.4 1460.6,1485.4 1461.6,1485.5 1462.6,1485.5 1463.6,1485.5 1464.6,1485.5 1465.6,1485.6 1466.6,1485.6 1467.6,1485.6 1468.6,1485.6 1469.6,1485.7 1470.6,1485.7 1471.6,1485.7 1472.6,1485.8 1473.6,1485.8 1474.6,1485.8 1475.6,1485.8 1476.6,1485.9 1477.6,1485.9 1478.6,1485.9 1479.6,1485.9 1480.6,1486.0 1481.6,1486.0 1482.6,1486.0 1483.6,1486.1 1484.6,1486.1 1485.6,1486.1 1486.6,1486.1 1487.6,1486.2 1488.6,1486.2 1489.6,1486.2 1490.6,1486.3 1491.6,1486.3 1492.6,1486.3 1493.6,1486.3 1494.6,1486.4 1495.6,1486.4 1496.6,1486.4 1497.6,1486.4 1498.6,1486.5 1499.6,1486.5 1500.6,1486.5 1501.6,1486.6 1502.6,1486.6 1503.6,1486.6 1504.6,1486.6 1505.6,1486.7 1506.6,1486.7 1507.6,1486.7 1508.6,1486.7 1509.6,1486.8 1510.6,1486.8 1511.6,1486.8 1512.6,1486.9 1513.6,1486.9 1514.6,1486.9 1515.6,1486.9 1516.6,1487.0 1517.6,1487.0 1518.6,1487.0 1519.6,1487.0 1520.6,1487.1 1521.6,1487.1 1522.6,1487.1 1523.6,1487.2 1524.6,1487.2 1525.6,1487.2 1526.6,1487.2 1527.6,1487.3 1528.6,1487.3 1529.6,1487.3 1530.6,1487.4 1531.6,1487.4 1532.6,1487.4 1533.6,1487.5 1534.6,1487.5 1535.6,1487.5 1536.6,1487.6 1537.6,1487.6 1538.6,1487.7 1539.6,1487.7 1540.6,1487.7 1541.6,1487.8 1542.6,1487.8 1543.6,1487.8 1544.6,1487.9 1545.6,1487.9 1546.6,1488.0 1547.6,1488.0 1548.6,1488.0 1549.6,1488.1 1550.6,1488.1 1551.6,1488.1 1552.6,1488.2 1553.6,1488.2 1554.6,1488.3 1555.6,1488.3 1556.6,1488.3 1557.6,1488.4 1558.6,1488.4 1559.6,1488.5 1560.6,1488.5 1561.6,1488.5 1562.6,1488.6 1563.6,1488.6 1564.6,1488.6 1565.6,1488.7 1566.6,1488.7 1567.6,1488.8 1568.6,1488.8 1569.6,1488.8 1570.6,1488.9 1571.6,1488.9 1572.6,1488.9 1573.6,1489.0 1574.6,1489.0 1575.6,1489.1 1576.6,1489.1 1577.6,1489.1 1578.6,1489.2 1579.6,1489.2 1580.6,1489.2 1581.6,1489.3 1582.6,1489.3 1583.6,1489.4 1584.6,1489.4 1585.6,1489.4 1586.6,1489.5 1587.6,1489.5 1588.6,1489.5 1589.6,1489.6 1590.6,1489.6 1591.6,1489.7 1592.6,1489.7 1593.6,1489.7 1594.6,1489.8 1595.6,1489.8 1596.6,1489.8 1597.6,1489.9 1598.6,1489.9 1599.6,1490.0 1600.6,1490.0 1601.6,1490.0 1602.6,1490.1 1603.6,1490.1 1604.6,1490.1 1605.6,1490.2 1606.6,1490.2 1607.6,1490.3 1608.6,1490.3 1609.6,1490.3 1610.6,1490.4 1611.6,1490.4 1612.6,1490.4 1613.6,1490.5 1614.6,1490.5 1615.6,1490.6 1616.6,1490.6 1617.6,1490.6 1618.6,1490.7 1619.6,1490.7 1620.6,1490.7 1621.6,1490.8 1622.6,1490.8 1623.6,1490.9 1624.6,1490.9 1625.6,1490.9 1626.6,1491.0 1627.6,1491.0 1628.6,1491.0 1629.6,1491.1 1630.6,1491.1 1631.6,1491.2 1632.6,1491.2 1633.6,1491.2 1634.6,1491.3 1635.6,1491.3 1636.6,1491.3 1637.6,1491.4 1638.6,1491.4 1639.6,1491.5 1640.6,1491.5 1641.6,1491.6 1642.6,1491.7 1643.6,1491.8 1644.6,1491.9 1645.6,1492.0 1646.6,1492.1 1647.6,1492.1 1648.6,1492.2 1649.6,1492.3 1650.6,1492.4 1651.6,1492.5 1652.6,1492.6 1653.6,1492.7 1654.6,1492.7 1655.6,1492.8 1656.6,1492.9 1657.6,1492.9 1658.6,1493.0 1659.6,1493.1 1660.6,1493.1 1661.6,1493.2 1662.6,1493.3 1663.6,1493.3 1664.6,1493.4 1665.6,1493.5 1666.6,1493.5 1667.6,1493.6 1668.6,1493.7 1669.6,1493.7 1670.6,1493.8 1671.6,1493.9 1672.6,1493.9 1673.6,1494.0 1674.6,1494.1 1675.6,1494.1 1676.6,1494.2 1677.6,1494.3 1678.6,1494.3 1679.6,1494.4 1680.6,1494.5 1681.6,1494.5 1682.6,1494.6 1683.6,1494.7 1684.6,1494.7 1685.6,1494.8 1686.6,1494.9 1687.6,1494.9 1688.6,1495.0 1689.6,1495.1 1690.6,1495.1 1691.6,1495.1 1692.6,1495.1 1693.6,1495.1 1694.6,1495.2 1695.6,1495.2 1696.6,1495.2 1697.6,1495.2 1698.6,1495.2 1699.6,1495.2 1700.6,1495.3 1701.6,1495.3 1702.6,1495.3 1703.6,1495.3 1704.6,1495.3 1705.6,1495.3 1706.6,1495.4 1707.6,1495.4 1708.6,1495.4 1709.6,1495.4 1710.6,1495.4 1711.6,1495.4 1712.6,1495.5 1713.6,1495.5 1714.6,1495.5 1715.6,1495.5 1716.6,1495.5 1717.6,1495.5 1718.6,1495.6 1719.6,1495.6 1720.6,1495.6 1721.6,1495.6 1722.6,1495.6 1723.6,1495.6 1724.6,1495.7 1725.6,1495.7 1726.6,1495.7 1727.6,1495.7 1728.6,1495.7 1729.6,1495.7 1730.6,1495.8 1731.6,1495.8 1732.6,1495.9 1733.6,1496.0 1734.6,1496.0 1735.6,1496.1 1736.6,1496.2 1737.6,1496.2 1738.6,1496.3 1739.6,1496.4 1740.6,1496.4 1741.6,1496.5 1742.6,1496.6 1743.6,1496.6 1744.6,1496.7 1745.6,1496.8 1746.6,1496.8 1747.6,1496.9 1748.6,1497.0 1749.6,1497.0 1750.6,1497.1 1751.6,1497.2 1752.6,1497.2 1753.6,1497.3 1754.6,1497.4 1755.6,1497.4 1756.6,1497.5 1757.6,1497.6 1758.6,1497.6 1759.6,1497.7 1760.6,1497.7 1761.6,1497.8 1762.6,1497.8 1763.6,1497.8 1764.6,1497.8 1765.6,1497.8 1766.6,1497.8 1767.6,1497.9 1768.6,1497.9 1769.6,1497.9 1770.6,1497.9 1771.6,1497.9 1772.6,1497.9 1773.6,1498.0 1774.6,1498.0 1775.6,1498.0 1776.6,1498.0 1777.6,1498.0 1778.6,1498.0 1779.6,1498.1 1780.6,1498.1 1781.6,1498.1 1782.6,1498.1 1783.6,1498.1 1784.6,1498.1 1785.6,1498.1 1786.6,1498.2 1787.6,1498.2 1788.6,1498.2 1789.6,1498.2 1790.6,1498.2 1791.6,1498.2 1792.6,1498.3 1793.6,1498.3 1794.6,1498.3 1795.6,1498.3 1796.6,1498.3 1797.6,1498.3 1798.6,1498.3 1799.6,1498.3 1800.6,1498.3 1801.6,1498.4 1802.6,1498.4 1803.6,1498.4 1804.6,1498.4 1805.6,1498.4 1806.6,1498.4 1807.6,1498.4 1808.6,1498.4 1809.6,1498.4 1810.6,1498.4 1811.6,1498.4 1812.6,1498.4 1813.6,1498.3 1814.6,1498.3 1815.6,1498.3 1816.6,1498.3 1817.6,1498.3 1818.6,1498.2 1819.6,1498.2 1820.6,1498.1 1821.6,1498.1 1822.6,1498.0 1823.6,1497.9 1824.6,1497.8 1825.6,1497.7 1826.6,1497.6 1827.6,1497.5 1828.6,1497.4 1829.6,1497.2 1830.6,1497.1 1831.6,1496.9 1832.6,1496.7 1833.6,1496.4 1834.6,1496.2 1835.6,1495.9 1836.6,1495.6 1837.6,1495.3 1838.6,1494.9 1839.6,1494.5 1840.6,1494.0 1841.6,1493.6 1842.6,1493.0 1843.6,1492.5 1844.6,1491.8 1845.6,1491.1 1846.6,1490.4 1847.6,1489.6 1848.6,1488.7 1849.6,1487.8 1850.6,1486.8 1851.6,1485.7 1852.6,1484.5 1853.6,1483.2 1854.6,1481.8 1855.6,1480.3 1856.6,1478.8 1857.6,1477.1 1858.6,1475.3 1859.6,1473.3 1860.6,1471.2 1861.6,1469.0 1862.6,1466.7 1863.6,1464.2 1864.6,1461.5 1865.6,1458.7 1866.6,1455.7 1867.6,1452.6 1868.6,1449.2 1869.6,1445.7 1870.6,1441.9 1871.6,1438.0 1872.6,1433.9 1873.6,1429.5 1874.6,1424.9 1875.6,1420.1 1876.6,1415.1 1877.6,1409.9 1878.6,1404.4 1879.6,1398.7 1880.6,1392.7 1881.6,1386.5 1882.6,1380.0 1883.6,1373.3 1884.6,1366.4 1885.6,1359.2 1886.6,1351.8 1887.6,1344.1 1888.6,1336.2 1889.6,1328.0 1890.6,1319.6 1891.6,1311.0 1892.6,1302.2 1893.6,1293.1 1894.6,1283.8 1895.6,1274.4 1896.6,1264.8 1897.6,1255.0 1898.6,1245.0 1899.6,1234.9 1900.6,1224.6 1901.6,1214.3 1902.6,1203.8 1903.6,1193.2 1904.6,1182.6 1905.6,1171.9 1906.6,1161.2 1907.6,1150.5 1908.6,1139.8 1909.6,1129.2 1910.6,1118.6 1911.6,1108.0 1912.6,1097.6 1913.6,1087.3 1914.6,1077.2 1915.6,1067.2 1916.6,1057.4 1917.6,1047.9 1918.6,1038.6 1919.6,1029.5 1920.6,1020.8 1921.6,1012.3 1922.6,1004.2 1923.6,996.5 1924.6,989.1 1925.6,982.1 1926.6,975.6 1927.6,969.4 1928.6,963.8 1929.6,958.6 1930.6,953.9 1931.6,949.6 1932.6,945.9 1933.6,942.8 1934.6,940.1 1935.6,938.0 1936.6,936.4 1937.6,935.4 1938.6,934.9 1939.6,935.0 1940.6,935.6 1941.6,936.9 1942.6,938.8 1943.6,941.3 1944.6,944.4 1945.6,948.0 1946.6,952.3 1947.6,957.0 1948.6,962.3 1949.6,968.2 1950.6,974.5 1951.6,981.3 1952.6,988.6 1953.6,996.3 1954.6,1004.5 1955.6,1013.0 1956.6,1021.9 1957.6,1031.1 1958.6,1040.7 1959.6,1050.6 1960.6,1060.7 1961.6,1071.0 1962.6,1081.5 1963.6,1092.2 1964.6,1103.1 1965.6,1114.1 1966.6,1125.2 1967.6,1136.3 1968.6,1147.5 1969.6,1158.8 1970.6,1170.0 1971.6,1181.2 1972.6,1192.3 1973.6,1203.4 1974.6,1214.4 1975.6,1225.3 1976.6,1236.1 1977.6,1246.7 1978.6,1257.1 1979.6,1267.3 1980.6,1277.4 1981.6,1287.3 1982.6,1296.9 1983.6,1306.3 1984.6,1315.5 1985.6,1324.4 1986.6,1333.1 1987.6,1341.5 1988.6,1349.7 1989.6,1357.6 1990.6,1365.2 1991.6,1372.5 1992.6,1379.6 1993.6,1386.4 1994.6,1393.0 1995.6,1399.2 1996.6,1405.2 1997.6,1411.0 1998.6,1416.5 1999.6,1421.7 2000.6,1426.7 2001.6,1431.4 2002.6,1435.9 2003.6,1440.2 2004.6,1444.2 2005.6,1448.0 2006.6,1451.6 2007.6,1455.0 2008.6,1458.3 2009.6,1461.3 2010.6,1464.1 2011.6,1466.8 2012.6,1469.3 2013.6,1471.6 2014.6,1473.8 2015.6,1475.9 2016.6,1477.8 2017.6,1479.5 2018.6,1481.2 2019.6,1482.7 2020.6,1484.1 2021.6,1485.4 2022.6,1486.7 2023.6,1487.8 2024.6,1488.8 2025.6,1489.8 2026.6,1490.7 2027.6,1491.5 2028.6,1492.2 2029.6,1492.9 2030.6,1493.5 2031.6,1494.1 2032.6,1494.6 2033.6,1495.1 2034.6,1495.5 2035.6,1495.9 2036.6,1496.3 2037.6,1496.6 2038.6,1496.9 2039.6,1497.1 2040.6,1497.4 2041.6,1497.6 2042.6,1497.8 2043.6,1497.9 2044.6,1498.1 2045.6,1498.2 2046.6,1498.3 2047.6,1498.5 2048.6,1498.5 2049.6,1498.6 2050.6,1498.7 2051.6,1498.8 2052.6,1498.8 2053.6,1498.9 2054.6,1498.9 2055.6,1498.9 2056.6,1499.0 2057.6,1499.0 2058.6,1499.0 2059.6,1499.0 2060.6,1499.0 2061.6,1499.0 2062.6,1499.0 2063.6,1499.0 2064.6,1499.0 2065.6,1499.0 2066.6,1499.0 2067.6,1499.0 2068.6,1499.0 2069.6,1499.0 2070.6,1499.0 2071.6,1499.0 2072.6,1499.0 2073.6,1499.0 2074.6,1499.0 2075.6,1498.9 2076.6,1498.9 2077.6,1498.9 2078.6,1498.9 2079.6,1498.9 2080.6,1498.9 2081.6,1498.9 2082.6,1498.9 2083.6,1498.9 2084.6,1499.0 2085.6,1499.0 2086.6,1499.0 2087.6,1499.0 2088.6,1499.0 2089.6,1499.0 2090.6,1499.1 2091.6,1499.1 2092.6,1499.1 2093.6,1499.1 2094.6,1499.1 2095.6,1499.1 2096.6,1499.2 2097.6,1499.2 2098.6,1499.2 2099.6,1499.2 2100.6,1499.2 2101.6,1499.2 2102.6,1499.2 2103.6,1499.3 2104.6,1499.3 2105.6,1499.3 2106.6,1499.3 2107.6,1499.3 2108.6,1499.3 2109.6,1499.4 2110.6,1499.4 2111.6,1499.4 2112.6,1499.4 2113.6,1499.4 2114.6,1499.4 2115.6,1499.5 2116.6,1499.5 2117.6,1499.5 2118.6,1499.5 2119.6,1499.5 2120.6,1499.5 2121.6,1499.6 2122.6,1499.6 2123.6,1499.6 2124.6,1499.6 2125.6,1499.6 2126.6,1499.6 2127.6,1499.6 2128.6,1499.7 2129.6,1499.7 2130.6,1499.7 2131.6,1499.7 2132.6,1499.7 2133.6,1499.7 2134.6,1499.8 2135.6,1499.8 2136.6,1499.8 2137.6,1499.8 2138.6,1499.8 2139.6,1499.8 2140.6,1499.9 2141.6,1499.9 2142.6,1499.9 2143.6,1499.9 2144.6,1499.9 2145.6,1499.9 2146.6,1500.0 2147.6,1500.0 2148.6,1500.0 2149.6,1500.0 2150.6,1500.0 2151.6,1500.0 2152.6,1500.0 2153.6,1500.1 2154.6,1500.1 2155.6,1500.1 2156.6,1500.1 2157.6,1500.1 2158.6,1500.1 2159.6,1500.2 2160.6,1500.2 2161.6,1500.2 2162.6,1500.2 2163.6,1500.2 2164.6,1500.2 2165.6,1500.3 2166.6,1500.3 2167.6,1500.3 2168.6,1500.3 2169.6,1500.3 2170.6,1500.3 2171.6,1500.3 2172.6,1500.4 2173.6,1500.4 2174.6,1500.4 2175.6,1500.4 2176.6,1500.4 2177.6,1500.4 2178.6,1500.5" fill="none" stroke="#ff00ff" stroke-width="4" stroke-linejoin="round" stroke-linecap="round" />
<polyline points="1263.6,1480.0 1264.6,1480.1 1265.6,1480.1 1266.6,1480.1 1267.6,1480.2 1268.6,1480.2 1269.6,1480.2 1270.6,1480.2 1271.6,1480.3 1272.6,1480.3 1273.6,1480.3 1274.6,1480.3 1275.6,1480.4 1276.6,1480.4 1277.6,1480.4 1278.6,1480.5 1279.6,1480.5 1280.6,1480.5 1281.6,1480.5 1282.6,1480.6 1283.6,1480.6 1284.6,1480.6 1285.6,1480.6 1286.6,1480.7 1287.6,1480.7 1288.6,1480.7 1289.6,1480.8 1290.6,1480.8 1291.6,1480.8 1292.6,1480.8 1293.6,1480.9 1294.6,1480.9 1295.6,1480.9 1296.6,1480.9 1297.6,1481.0 1298.6,1481.0 1299.6,1481.0 1300.6,1481.1 1301.6,1481.1 1302.6,1481.1 1303.6,1481.1 1304.6,1481.2 1305.6,1481.2 1306.6,1481.2 1307.6,1481.2 1308.6,1481.3 1309.6,1481.3 1310.6,1481.3 1311.6,1481.4 1312.6,1481.4 1313.6,1481.4 1314.6,1481.4 1315.6,1481.5 1316.6,1481.5 1317.6,1481.5 1318.6,1481.5 1319.6,1481.6 1320.6,1481.6 1321.6,1481.6 1322.6,1481.7 1323.6,1481.7 1324.6,1481.7 1325.6,1481.7 1326.6,1481.8 1327.6,1481.8 1328.6,1481.8 1329.6,1481.8 1330.6,1481.9 1331.6,1481.9 1332.6,1481.9 1333.6,1482.0 1334.6,1482.0 1335.6,1482.0 1336.6,1482.0 1337.6,1482.1 1338.6,1482.1 1339.6,1482.1 1340.6,1482.1 1341.6,1482.2 1342.6,1482.2 1343.6,1482.2 1344.6,1482.3 1345.6,1482.3 1346.6,1482.3 1347.6,1482.3 1348.6,1482.4 1349.6,1482.4 1350.6,1482.4 1351.6,1482.4 1352.6,1482.5 1353.6,1482.5 1354.6,1482.5 1355.6,1482.6 1356.6,1482.6 1357.6,1482.6 1358.6,1482.6 1359.6,1482.7 1360.6,1482.7 1361.6,1482.7 1362.6,1482.8 1363.6,1482.8 1364.6,1482.8 1365.6,1482.8 1366.6,1482.9 1367.6,1482.9 1368.6,1482.9 1369.6,1482.9 1370.6,1483.0 1371.6,1483.0 1372.6,1483.0 1373.6,1483.1 1374.6,1483.1 1375.6,1483.1 1376.6,1483.1 1377.6,1483.2 1378.6,1483.2 1379.6,1483.2 1380.6,1483.2 1381.6,1483.3 1382.6,1483.3 1383.6,1483.3 1384.6,1483.4 1385.6,1483.4 1386.6,1483.4 1387.6,1483.4 1388.6,1483.5 1389.6,1483.5 1390.6,1483.5 1391.6,1483.5 1392.6,1483.6 1393.6,1483.6 1394.6,1483.6 1395.6,1483.7 1396.6,1483.7 1397.6,1483.7 1398.6,1483.7 1399.6,1483.8 1400.6,1483.8 1401.6,1483.8 1402.6,1483.8 1403.6,1483.9 1404.6,1483.9 1405.6,1483.9 1406.6,1484.0 1407.6,1484.0 1408.6,1484.0 1409.6,1484.0 1410.6,1484.1 1411.6,1484.1 1412.6,1484.1 1413.6,1484.1 1414.6,1484.2 1415.6,1484.2 1416.6,1484.2 1417.6,1484.3 1418.6,1484.3 1419.6,1484.3 1420.6,1484.3 1421.6,1484.4 1422.6,1484.4 1423.6,1484.4 1424.6,1484.4 1425.6,1484.5 1426.6,1484.5 1427.6,1484.5 1428.6,1484.6 1429.6,1484.6 1430.6,1484.6 1431.6,1484.6 1432.6,1484.7 1433.6,1484.7 1434.6,1484.7 1435.6,1484.7 1436.6,1484.8 1437.6,1484.8 1438.6,1484.8 1439.6,1484.9 1440.6,1484.9 1441.6,1484.9 1442.6,1484.9 1443.6,1485.0 1444.6,1485.0 1445.6,1485.0 1446.6,1485.0 1447.6,1485.1 1448.6,1485.1 1449.6,1485.1 1450.6,1485.2 1451.6,1485.2 1452.6,1485.2 1453.6,1485.2 1454.6,1485.3 1455.6,1485.3 1456.6,1485.3 1457.6,1485.3 1458.6,1485.4 1459.6,1485.4 1460.6,1485.4 1461.6,1485.5 1462.6,1485.5 1463.6,1485.5 1464.6,1485.5 1465.6,1485.6 1466.6,1485.6 1467.6,1485.6 1468.6,1485.6 1469.6,1485.7 1470.6,1485.7 1471.6,1485.7 1472.6,1485.8 1473.6,1485.8 1474.6,1485.8 1475.6,1485.8 1476.6,1485.9 1477.6,1485.9 1478.6,1485.9 1479.6,1485.9 1480.6,1486.0 1481.6,1486.0 1482.6,1486.0 1483.6,1486.1 1484.6,1486.1 1485.6,1486.1 1486.6,1486.1 1487.6,1486.2 1488.6,1486.2 1489.6,1486.2 1490.6,1486.3 1491.6,1486.3 1492.6,1486.3 1493.6,1486.3 1494.6,1486.4 1495.6,1486.4 1496.6,1486.4 1497.6,1486.4 1498.6,1486.5 1499.6,1486.5 1500.6,1486.5 1501.6,1486.6 1502.6,1486.6 1503.6,1486.6 1504.6,1486.6 1505.6,1486.7 1506.6,1486.7 1507.6,1486.7 1508.6,1486.7 1509.6,1486.8 1510.6,1486.8 1511.6,1486.8 1512.6,1486.9 1513.6,1486.9 1514.6,1486.9 1515.6,1486.9 1516.6,1487.0 1517.6,1487.0 1518.6,1487.0 1519.6,1487.0 1520.6,1487.1 1521.6,1487.1 1522.6,1487.1 1523.6,1487.2 1524.6,1487.2 1525.6,1487.2 1526.6,1487.2 1527.6,1487.3 1528.6,1487.3 1529.6,1487.3 1530.6,1487.4 1531.6,1487.4 1532.6,1487.4 1533.6,1487.5 1534.6,1487.5 1535.6,1487.5 1536.6,1487.6 1537.6,1487.6 1538.6,1487.7 1539.6,1487.7 1540.6,1487.7 1541.6,1487.8 1542.6,1487.8 1543.6,1487.8 1544.6,1487.9 1545.6,1487.9 1546.6,1488.0 1547.6,1488.0 1548.6,1488.0 1549.6,1488.1 1550.6,1488.1 1551.6,1488.1 1552.6,1488.2 1553.6,1488.2 1554.6,1488.3 1555.6,1488.3 1556.6,1488.3 1557.6,1488.4 1558.6,1488.4 1559.6,1488.5 1560.6,1488.5 1561.6,1488.5 1562.6,1488.6 1563.6,1488.6 1564.6,1488.6 1565.6,1488.7 1566.6,1488.7 1567.6,1488.8 1568.6,1488.8 1569.6,1488.8 1570.6,1488.9 1571.6,1488.9 1572.6,1488.9 1573.6,1489.0 1574.6,1489.0 1575.6,1489.1 1576.6,1489.1 1577.6,1489.1 1578.6,1489.2 1579.6,1489.2 1580.6,1489.2 1581.6,1489.3 1582.6,1489.3 1583.6,1489.4 1584.6,1489.4 1585.6,1489.4 1586.6,1489.5 1587.6,1489.5 1588.6,1489.5 1589.6,1489.6 1590.6,1489.6 1591.6,1489.7 1592.6,1489.7 1593.6,1489.7 1594.6,1489.8 1595.6,1489.8 1596.6,1489.8 1597.6,1489.9 1598.6,1489.9 1599.6,1490.0 1600.6,1490.0 1601.6,1490.0 1602.6,1490.1 1603.6,1490.1 1604.6,1490.1 1605.6,1490.2 1606.6,1490.2 1607.6,1490.3 1608.6,1490.3 1609.6,1490.3 1610.6,1490.4 1611.6,1490.4 1612.6,1490.4 1613.6,1490.5 1614.6,1490.5 1615.6,1490.6 1616.6,1490.6 1617.6,1490.6 1618.6,1490.7 1619.6,1490.7 1620.6,1490.7 1621.6,1490.8 1622.6,1490.8 1623.6,1490.9 1624.6,1490.9 1625.6,1490.9 1626.6,1491.0 1627.6,1491.0 1628.6,1491.0 1629.6,1491.1 1630.6,1491.1 1631.6,1491.2 1632.6,1491.2 1633.6,1491.2 1634.6,1491.3 1635.6,1491.3 1636.6,1491.3 1637.6,1491.4 1638.6,1491.4 1639.6,1491.5 1640.6,1491.5 1641.6,1491.6 1642.6,1491.7 1643.6,1491.8 1644.6,1491.8 1645.6,1491.9 1646.6,1492.0 1647.6,1492.1 1648.6,1492.1 1649.6,1492.2 1650.6,1492.3 1651.6,1492.4 1652.6,1492.5 1653.6,1492.5 1654.6,1492.6 1655.6,1492.7 1656.6,1492.7 1657.6,1492.8 1658.6,1492.8 1659.6,1492.9 1660.6,1492.9 1661.6,1493.0 1662.6,1493.0 1663.6,1493.1 1664.6,1493.2 1665.6,1493.2 1666.6,1493.3 1667.6,1493.3 1668.6,1493.4 1669.6,1493.4 1670.6,1493.5 1671.6,1493.6 1672.6,1493.6 1673.6,1493.7 1674.6,1493.7 1675.6,1493.8 1676.6,1493.8 1677.6,1493.9 1678.6,1493.9 1679.6,1494.0 1680.6,1494.1 1681.6,1494.1 1682.6,1494.2 1683.6,1494.2 1684.6,1494.3 1685.6,1494.3 1686.6,1494.4 1687.6,1494.5 1688.6,1494.5 1689.6,1494.6 1690.6,1494.6 1691.6,1494.6 1692.6,1494.6 1693.6,1494.6 1694.6,1494.7 1695.6,1494.7 1696.6,1494.7 1697.6,1494.7 1698.6,1494.7 1699.6,1494.7 1700.6,1494.8 1701.6,1494.8 1702.6,1494.8 1703.6,1494.8 1704.6,1494.8 1705.6,1494.8 1706.6,1494.9 1707.6,1494.9 1708.6,1494.9 1709.6,1494.9 1710.6,1494.9 1711.6,1494.9 1712.6,1494.9 1713.6,1495.0 1714.6,1495.0 1715.6,1495.0 1716.6,1495.0 1717.6,1495.0 1718.6,1495.0 1719.6,1495.0 1720.6,1495.0 1721.6,1495.1 1722.6,1495.1 1723.6,1495.1 1724.6,1495.1 1725.6,1495.1 1726.6,1495.1 1727.6,1495.1 1728.6,1495.1 1729.6,1495.1 1730.6,1495.1 1731.6,1495.1 1732.6,1495.1 1733.6,1495.1 1734.6,1495.1 1735.6,1495.1 1736.6,1495.1 1737.6,1495.1 1738.6,1495.1 1739.6,1495.1 1740.6,1495.0 1741.6,1495.0 1742.6,1495.0 1743.6,1495.0 1744.6,1494.9 1745.6,1494.9 1746.6,1494.8 1747.6,1494.8 1748.6,1494.7 1749.6,1494.7 1750.6,1494.6 1751.6,1494.6 1752.6,1494.5 1753.6,1494.4 1754.6,1494.3 1755.6,1494.2 1756.6,1494.1 1757.6,1494.0 1758.6,1493.9 1759.6,1493.7 1760.6,1493.6 1761.6,1493.4 1762.6,1493.2 1763.6,1493.0 1764.6,1492.8 1765.6,1492.6 1766.6,1492.4 1767.6,1492.1 1768.6,1491.9 1769.6,1491.6 1770.6,1491.3 1771.6,1491.0 1772.6,1490.6 1773.6,1490.3 1774.6,1489.9 1775.6,1489.5 1776.6,1489.1 1777.6,1488.6 1778.6,1488.1 1779.6,1487.6 1780.6,1487.1 1781.6,1486.5 1782.6,1485.9 1783.6,1485.3 1784.6,1484.6 1785.6,1483.9 1786.6,1483.2 1787.6,1482.5 1788.6,1481.7 1789.6,1480.8 1790.6,1480.0 1791.6,1479.1 1792.6,1478.1 1793.6,1477.2 1794.6,1476.1 1795.6,1475.1 1796.6,1474.0 1797.6,1472.9 1798.6,1471.7 1799.6,1470.5 1800.6,1469.2 1801.6,1467.9 1802.6,1466.6 1803.6,1465.2 1804.6,1463.8 1805.6,1462.4 1806.6,1460.9 1807.6,1459.4 1808.6,1457.8 1809.6,1456.2 1810.6,1454.6 1811.6,1452.9 1812.6,1451.2 1813.6,1449.5 1814.6,1447.8 1815.6,1446.0 1816.6,1444.2 1817.6,1442.4 1818.6,1440.5 1819.6,1438.7 1820.6,1436.8 1821.6,1434.9 1822.6,1433.0 1823.6,1431.1 1824.6,1429.2 1825.6,1427.3 1826.6,1425.4 1827.6,1423.4 1828.6,1421.5 1829.6,1419.6 1830.6,1417.8 1831.6,1415.9 1832.6,1414.1 1833.6,1412.2 1834.6,1410.5 1835.6,1408.7 1836.6,1407.0 1837.6,1405.3 1838.6,1403.6 1839.6,1402.0 1840.6,1400.5 1841.6,1399.0 1842.6,1397.5 1843.6,1396.1 1844.6,1394.8 1845.6,1393.5 1846.6,1392.3 1847.6,1391.2 1848.6,1390.1 1849.6,1389.2 1850.6,1388.2 1851.6,1387.4 1852.6,1386.7 1853.6,1386.0 1854.6,1385.4 1855.6,1384.9 1856.6,1384.5 1857.6,1384.1 1858.6,1383.9 1859.6,1383.8 1860.6,1383.7 1861.6,1383.7 1862.6,1383.8 1863.6,1384.0 1864.6,1384.3 1865.6,1384.7 1866.6,1385.2 1867.6,1385.7 1868.6,1386.4 1869.6,1387.1 1870.6,1387.9 1871.6,1388.8 1872.6,1389.7 1873.6,1390.8 1874.6,1391.9 1875.6,1393.0 1876.6,1394.3 1877.6,1395.6 1878.6,1397.0 1879.6,1398.4 1880.6,1399.9 1881.6,1401.5 1882.6,1403.1 1883.6,1404.7 1884.6,1406.4 1885.6,1408.1 1886.6,1409.9 1887.6,1411.7 1888.6,1413.5 1889.6,1415.4 1890.6,1417.2 1891.6,1419.1 1892.6,1421.1 1893.6,1423.0 1894.6,1424.9 1895.6,1426.9 1896.6,1428.8 1897.6,1430.8 1898.6,1432.7 1899.6,1434.6 1900.6,1436.6 1901.6,1438.5 1902.6,1440.4 1903.6,1442.3 1904.6,1444.2 1905.6,1446.0 1906.6,1447.8 1907.6,1449.6 1908.6,1451.4 1909.6,1453.2 1910.6,1454.9 1911.6,1456.6 1912.6,1458.2 1913.6,1459.8 1914.6,1461.4 1915.6,1463.0 1916.6,1464.5 1917.6,1465.9 1918.6,1467.4 1919.6,1468.8 1920.6,1470.1 1921.6,1471.4 1922.6,1472.7 1923.6,1474.0 1924.6,1475.1 1925.6,1476.3 1926.6,1477.4 1927.6,1478.5 1928.6,1479.5 1929.6,1480.5 1930.6,1481.5 1931.6,1482.4 1932.6,1483.3 1933.6,1484.2 1934.6,1485.0 1935.6,1485.8 1936.6,1486.5 1937.6,1487.2 1938.6,1487.9 1939.6,1488.6 1940.6,1489.2 1941.6,1489.8 1942.6,1490.4 1943.6,1490.9 1944.6,1491.4 1945.6,1491.9 1946.6,1492.3 1947.6,1492.8 1948.6,1493.2 1949.6,1493.6 1950.6,1493.9 1951.6,1494.3 1952.6,1494.6 1953.6,1494.9 1954.6,1495.2 1955.6,1495.5 1956.6,1495.8 1957.6,1496.0 1958.6,1496.2 1959.6,1496.5 1960.6,1496.7 1961.6,1496.8 1962.6,1497.0 1963.6,1497.1 1964.6,1497.3 1965.6,1497.4 1966.6,1497.5 1967.6,1497.7 1968.6,1497.8 1969.6,1497.9 1970.6,1497.9 1971.6,1498.0 1972.6,1498.1 1973.6,1498.2 1974.6,1498.2 1975.6,1498.3 1976.6,1498.4 1977.6,1498.4 1978.6,1498.5 1979.6,1498.5 1980.6,1498.5 1981.6,1498.6 1982.6,1498.6 1983.6,1498.6 1984.6,1498.7 1985.6,1498.7 1986.6,1498.7 1987.6,1498.7 1988.6,1498.8 1989.6,1498.8 1990.6,1498.8 1991.6,1498.8 1992.6,1498.8 1993.6,1498.8 1994.6,1498.8 1995.6,1498.9 1996.6,1498.9 1997.6,1498.9 1998.6,1498.9 1999.6,1498.9 2000.6,1498.9 2001.6,1498.9 2002.6,1498.9 2003.6,1498.9 2004.6,1498.9 2005.6,1498.9 2006.6,1498.9 2007.6,1498.9 2008.6,1498.9 2009.6,1498.9 2010.6,1498.9 2011.6,1498.9 2012.6,1498.9 2013.6,1498.9 2014.6,1498.9 2015.6,1498.9 2016.6,1498.9 2017.6,1498.9 2018.6,1498.9 2019.6,1498.9 2020.6,1498.9 2021.6,1498.9 2022.6,1498.9 2023.6,1498.9 2024.6,1498.9 2025.6,1498.9 2026.6,1498.9 2027.6,1498.9 2028.6,1498.9 2029.6,1498.9 2030.6,1498.9 2031.6,1498.9 2032.6,1498.9 2033.6,1498.9 2034.6,1498.9 2035.6,1498.9 2036.6,1498.9 2037.6,1498.9 2038.6,1498.9 2039.6,1498.9 2040.6,1498.9 2041.6,1498.9 2042.6,1498.9 2043.6,1498.9 2044.6,1498.9 2045.6,1498.9 2046.6,1498.9 2047.6,1498.9 2048.6,1498.9 2049.6,1498.9 2050.6,1498.9 2051.6,1498.9 2052.6,1498.9 2053.6,1498.9 2054.6,1498.9 2055.6,1498.9 2056.6,1498.9 2057.6,1498.9 2058.6,1498.9 2059.6,1498.9 2060.6,1498.9 2061.6,1498.9 2062.6,1498.9 2063.6,1498.9 2064.6,1498.9 2065.6,1498.9 2066.6,1498.9 2067.6,1498.9 2068.6,1498.9 2069.6,1498.9 2070.6,1498.9 2071.6,1498.9 2072.6,1498.9 2073.6,1498.9 2074.6,1498.9 2075.6,1498.9 2076.6,1498.9 2077.6,1498.9 2078.6,1498.9 2079.6,1498.9 2080.6,1498.9 2081.6,1498.9 2082.6,1498.9 2083.6,1498.9 2084.6,1499.0 2085.6,1499.0 2086.6,1499.0 2087.6,1499.0 2088.6,1499.0 2089.6,1499.0 2090.6,1499.1 2091.6,1499.1 2092.6,1499.1 2093.6,1499.1 2094.6,1499.1 2095.6,1499.1 2096.6,1499.2 2097.6,1499.2 2098.6,1499.2 2099.6,1499.2 2100.6,1499.2 2101.6,1499.2 2102.6,1499.2 2103.6,1499.3 2104.6,1499.3 2105.6,1499.3 2106.6,1499.3 2107.6,1499.3 2108.6,1499.3 2109.6,1499.4 2110.6,1499.4 2111.6,1499.4 2112.6,1499.4 2113.6,1499.4 2114.6,1499.4 2115.6,1499.5 2116.6,1499.5 2117.6,1499.5 2118.6,1499.5 2119.6,1499.5 2120.6,1499.5 2121.6,1499.6 2122.6,1499.6 2123.6,1499.6 2124.6,1499.6 2125.6,1499.6 2126.6,1499.6 2127.6,1499.6 2128.6,1499.7 2129.6,1499.7 2130.6,1499.7 2131.6,1499.7 2132.6,1499.7 2133.6,1499.7 2134.6,1499.8 2135.6,1499.8 2136.6,1499.8 2137.6,1499.8 2138.6,1499.8 2139.6,1499.8 2140.6,1499.9 2141.6,1499.9 2142.6,1499.9 2143.6,1499.9 2144.6,1499.9 2145.6,1499.9 2146.6,1500.0 2147.6,1500.0 2148.6,1500.0 2149.6,1500.0 2150.6,1500.0 2151.6,1500.0 2152.6,1500.0 2153.6,1500.1 2154.6,1500.1 2155.6,1500.1 2156.6,1500.1 2157.6,1500.1 2158.6,1500.1 2159.6,1500.2 2160.6,1500.2 2161.6,1500.2 2162.6,1500.2 2163.6,1500.2 2164.6,1500.2 2165.6,1500.3 2166.6,1500.3 2167.6,1500.3 2168.6,1500.3 2169.6,1500.3 2170.6,1500.3 2171.6,1500.3 2172.6,1500.4 2173.6,1500.4 2174.6,1500.4 2175.6,1500.4 2176.6,1500.4 2177.6,1500.4 2178.6,1500.5" fill="none" stroke="#008000" stroke-width="4" stroke-linejoin="round" stroke-linecap="round" />
<polyline points="1263.6,1480.0 1264.6,1480.1 1265.6,1480.1 1266.6,1480.1 1267.6,1480.2 1268.6,1480.2 1269.6,1480.2 1270.6,1480.2 1271.6,1480.3 1272.6,1480.3 1273.6,1480.3 1274.6,1480.3 1275.6,1480.4 1276.6,1480.4 1277.6,1480.4 1278.6,1480.5 1279.6,1480.5 1280.6,1480.5 1281.6,1480.5 1282.6,1480.6 1283.6,1480.6 1284.6,1480.6 1285.6,1480.6 1286.6,1480.7 1287.6,1480.7 1288.6,1480.7 1289.6,1480.8 1290.6,1480.8 1291.6,1480.8 1292.6,1480.8 1293.6,1480.9 1294.6,1480.9 1295.6,1480.9 1296.6,1480.9 1297.6,1481.0 1298.6,1481.0 1299.6,1481.0 1300.6,1481.1 1301.6,1481.1 1302.6,1481.1 1303.6,1481.1 1304.6,1481.2 1305.6,1481.2 1306.6,1481.2 1307.6,1481.2 1308.6,1481.3 1309.6,1481.3 1310.6,1481.3 1311.6,1481.4 1312.6,1481.4 1313.6,1481.4 1314.6,1481.4 1315.6,1481.5 1316.6,1481.5 1317.6,1481.5 1318.6,1481.5 1319.6,1481.6 1320.6,1481.6 1321.6,1481.6 1322.6,1481.7 1323.6,1481.7 1324.6,1481.7 1325.6,1481.7 1326.6,1481.8 1327.6,1481.8 1328.6,1481.8 1329.6,1481.8 1330.6,1481.9 1331.6,1481.9 1332.6,1481.9 1333.6,1482.0 1334.6,1482.0 1335.6,1482.0 1336.6,1482.0 1337.6,1482.1 1338.6,1482.1 1339.6,1482.1 1340.6,1482.1 1341.6,1482.2 1342.6,1482.2 1343.6,1482.2 1344.6,1482.3 1345.6,1482.3 1346.6,1482.3 1347.6,1482.3 1348.6,1482.4 1349.6,1482.4 1350.6,1482.4 1351.6,1482.4 1352.6,1482.5 1353.6,1482.5 1354.6,1482.5 1355.6,1482.6 1356.6,1482.6 1357.6,1482.6 1358.6,1482.6 1359.6,1482.7 1360.6,1482.7 1361.6,1482.7 1362.6,1482.8 1363.6,1482.8 1364.6,1482.8 1365.6,1482.8 1366.6,1482.9 1367.6,1482.9 1368.6,1482.9 1369.6,1482.9 1370.6,1483.0 1371.6,1483.0 1372.6,1483.0 1373.6,1483.1 1374.6,1483.1 1375.6,1483.1 1376.6,1483.1 1377.6,1483.2 1378.6,1483.2 1379.6,1483.2 1380.6,1483.2 1381.6,1483.3 1382.6,1483.3 1383.6,1483.3 1384.6,1483.4 1385.6,1483.4 1386.6,1483.4 1387.6,1483.4 1388.6,1483.5 1389.6,1483.5 1390.6,1483.5 1391.6,1483.5 1392.6,1483.6 1393.6,1483.6 1394.6,1483.6 1395.6,1483.7 1396.6,1483.7 1397.6,1483.7 1398.6,1483.7 1399.6,1483.8 1400.6,1483.8 1401.6,1483.8 1402.6,1483.8 1403.6,1483.9 1404.6,1483.9 1405.6,1483.9 1406.6,1484.0 1407.6,1484.0 1408.6,1484.0 1409.6,1484.0 1410.6,1484.1 1411.6,1484.1 1412.6,1484.1 1413.6,1484.1 1414.6,1484.2 1415.6,1484.2 1416.6,1484.2 1417.6,1484.3 1418.6,1484.3 1419.6,1484.3 1420.6,1484.3 1421.6,1484.4 1422.6,1484.4 1423.6,1484.4 1424.6,1484.4 1425.6,1484.5 1426.6,1484.5 1427.6,1484.5 1428.6,1484.6 1429.6,1484.6 1430.6,1484.6 1431.6,1484.6 1432.6,1484.7 1433.6,1484.7 1434.6,1484.7 1435.6,1484.7 1436.6,1484.8 1437.6,1484.8 1438.6,1484.8 1439.6,1484.9 1440.6,1484.9 1441.6,1484.9 1442.6,1484.9 1443.6,1485.0 1444.6,1485.0 1445.6,1485.0 1446.6,1485.0 1447.6,1485.1 1448.6,1485.1 1449.6,1485.1 1450.6,1485.2 1451.6,1485.2 1452.6,1485.2 1453.6,1485.2 1454.6,1485.3 1455.6,1485.3 1456.6,1485.3 1457.6,1485.3 1458.6,1485.4 1459.6,1485.4 1460.6,1485.4 1461.6,1485.5 1462.6,1485.5 1463.6,1485.5 1464.6,1485.5 1465.6,1485.6 1466.6,1485.6 1467.6,1485.6 1468.6,1485.6 1469.6,1485.7 1470.6,1485.7 1471.6,1485.7 1472.6,1485.8 1473.6,1485.8 1474.6,1485.8 1475.6,1485.8 1476.6,1485.9 1477.6,1485.9 1478.6,1485.9 1479.6,1485.9 1480.6,1486.0 1481.6,1486.0 1482.6,1486.0 1483.6,1486.1 1484.6,1486.1 1485.6,1486.1 1486.6,1486.1 1487.6,1486.2 1488.6,1486.2 1489.6,1486.2 1490.6,1486.3 1491.6,1486.3 1492.6,1486.3 1493.6,1486.3 1494.6,1486.4 1495.6,1486.4 1496.6,1486.4 1497.6,1486.4 1498.6,1486.5 1499.6,1486.5 1500.6,1486.5 1501.6,1486.6 1502.6,1486.6 1503.6,1486.6 1504.6,1486.6 1505.6,1486.7 1506.6,1486.7 1507.6,1486.7 1508.6,1486.7 1509.6,1486.8 1510.6,1486.8 1511.6,1486.8 1512.6,1486.9 1513.6,1486.9 1514.6,1486.9 1515.6,1486.9 1516.6,1487.0 1517.6,1487.0 1518.6,1487.0 1519.6,1487.0 1520.6,1487.1 1521.6,1487.1 1522.6,1487.1 1523.6,1487.2 1524.6,1487.2 1525.6,1487.2 1526.6,1487.2 1527.6,1487.3 1528.6,1487.3 1529.6,1487.3 1530.6,1487.4 1531.6,1487.4 1532.6,1487.4 1533.6,1487.5 1534.6,1487.5 1535.6,1487.5 1536.6,1487.6 1537.6,1487.6 1538.6,1487.7 1539.6,1487.7 1540.6,1487.7 1541.6,1487.8 1542.6,1487.8 1543.6,1487.8 1544.6,1487.9 1545.6,1487.9 1546.6,1488.0 1547.6,1488.0 1548.6,1488.0 1549.6,1488.1 1550.6,1488.1 1551.6,1488.1 1552.6,1488.2 1553.6,1488.2 1554.6,1488.3 1555.6,1488.3 1556.6,1488.3 1557.6,1488.4 1558.6,1488.4 1559.6,1488.5 1560.6,1488.5 1561.6,1488.5 1562.6,1488.6 1563.6,1488.6 1564.6,1488.6 1565.6,1488.7 1566.6,1488.7 1567.6,1488.8 1568.6,1488.8 1569.6,1488.8 1570.6,1488.9 1571.6,1488.9 1572.6,1488.9 1573.6,1489.0 1574.6,1489.0 1575.6,1489.1 1576.6,1489.1 1577.6,1489.1 1578.6,1489.2 1579.6,1489.2 1580.6,1489.2 1581.6,1489.3 1582.6,1489.3 1583.6,1489.4 1584.6,1489.4 1585.6,1489.4 1586.6,1489.5 1587.6,1489.5 1588.6,1489.5 1589.6,1489.6 1590.6,1489.6 1591.6,1489.7 1592.6,1489.7 1593.6,1489.7 1594.6,1489.8 1595.6,1489.8 1596.6,1489.8 1597.6,1489.9 1598.6,1489.9 1599.6,1490.0 1600.6,1490.0 1601.6,1490.0 1602.6,1490.1 1603.6,1490.1 1604.6,1490.1 1605.6,1490.2 1606.6,1490.2 1607.6,1490.3 1608.6,1490.3 1609.6,1490.3 1610.6,1490.4 1611.6,1490.4 1612.6,1490.4 1613.6,1490.5 1614.6,1490.5 1615.6,1490.5 1616.6,1490.6 1617.6,1490.6 1618.6,1490.7 1619.6,1490.7 1620.6,1490.7 1621.6,1490.8 1622.6,1490.8 1623.6,1490.8 1624.6,1490.9 1625.6,1490.9 1626.6,1490.9 1627.6,1491.0 1628.6,1491.0 1629.6,1491.0 1630.6,1491.1 1631.6,1491.1 1632.6,1491.1 1633.6,1491.2 1634.6,1491.2 1635.6,1491.2 1636.6,1491.3 1637.6,1491.3 1638.6,1491.3 1639.6,1491.3 1640.6,1491.4 1641.6,1491.4 1642.6,1491.4 1643.6,1491.4 1644.6,1491.5 1645.6,1491.5 1646.6,1491.5 1647.6,1491.5 1648.6,1491.5 1649.6,1491.5 1650.6,1491.5 1651.6,1491.6 1652.6,1491.6 1653.6,1491.6 1654.6,1491.5 1655.6,1491.5 1656.6,1491.5 1657.6,1491.5 1658.6,1491.4 1659.6,1491.4 1660.6,1491.4 1661.6,1491.3 1662.6,1491.3 1663.6,1491.2 1664.6,1491.1 1665.6,1491.1 1666.6,1491.0 1667.6,1490.9 1668.6,1490.8 1669.6,1490.7 1670.6,1490.6 1671.6,1490.5 1672.6,1490.4 1673.6,1490.3 1674.6,1490.2 1675.6,1490.0 1676.6,1489.9 1677.6,1489.7 1678.6,1489.5 1679.6,1489.4 1680.6,1489.2 1681.6,1489.0 1682.6,1488.7 1683.6,1488.5 1684.6,1488.3 1685.6,1488.0 1686.6,1487.7 1687.6,1487.4 1688.6,1487.1 1689.6,1486.8 1690.6,1486.4 1691.6,1486.1 1692.6,1485.7 1693.6,1485.3 1694.6,1484.9 1695.6,1484.4 1696.6,1484.0 1697.6,1483.5 1698.6,1483.0 1699.6,1482.4 1700.6,1481.9 1701.6,1481.3 1702.6,1480.7 1703.6,1480.1 1704.6,1479.4 1705.6,1478.8 1706.6,1478.0 1707.6,1477.3 1708.6,1476.6 1709.6,1475.8 1710.6,1475.0 1711.6,1474.1 1712.6,1473.3 1713.6,1472.4 1714.6,1471.4 1715.6,1470.5 1716.6,1469.5 1717.6,1468.5 1718.6,1467.4 1719.6,1466.4 1720.6,1465.3 1721.6,1464.2 1722.6,1463.0 1723.6,1461.9 1724.6,1460.7 1725.6,1459.4 1726.6,1458.2 1727.6,1456.9 1728.6,1455.6 1729.6,1454.3 1730.6,1453.0 1731.6,1451.6 1732.6,1450.2 1733.6,1448.9 1734.6,1447.5 1735.6,1446.0 1736.6,1444.6 1737.6,1443.2 1738.6,1441.7 1739.6,1440.2 1740.6,1438.8 1741.6,1437.3 1742.6,1435.8 1743.6,1434.3 1744.6,1432.9 1745.6,1431.4 1746.6,1429.9 1747.6,1428.5 1748.6,1427.0 1749.6,1425.6 1750.6,1424.2 1751.6,1422.7 1752.6,1421.4 1753.6,1420.0 1754.6,1418.6 1755.6,1417.3 1756.6,1416.0 1757.6,1414.8 1758.6,1413.5 1759.6,1412.3 1760.6,1411.2 1761.6,1410.0 1762.6,1408.9 1763.6,1407.9 1764.6,1406.9 1765.6,1405.9 1766.6,1405.0 1767.6,1404.2 1768.6,1403.4 1769.6,1402.6 1770.6,1401.9 1771.6,1401.3 1772.6,1400.7 1773.6,1400.2 1774.6,1399.7 1775.6,1399.3 1776.6,1398.9 1777.6,1398.6 1778.6,1398.4 1779.6,1398.2 1780.6,1398.1 1781.6,1398.1 1782.6,1398.1 1783.6,1398.2 1784.6,1398.4 1785.6,1398.6 1786.6,1398.8 1787.6,1399.2 1788.6,1399.6 1789.6,1400.0 1790.6,1400.5 1791.6,1401.1 1792.6,1401.7 1793.6,1402.4 1794.6,1403.2 1795.6,1404.0 1796.6,1404.8 1797.6,1405.7 1798.6,1406.7 1799.6,1407.7 1800.6,1408.7 1801.6,1409.8 1802.6,1410.9 1803.6,1412.1 1804.6,1413.3 1805.6,1414.5 1806.6,1415.8 1807.6,1417.1 1808.6,1418.5 1809.6,1419.8 1810.6,1421.2 1811.6,1422.6 1812.6,1424.0 1813.6,1425.5 1814.6,1426.9 1815.6,1428.4 1816.6,1429.9 1817.6,1431.4 1818.6,1432.9 1819.6,1434.4 1820.6,1435.9 1821.6,1437.4 1822.6,1438.9 1823.6,1440.4 1824.6,1441.9 1825.6,1443.4 1826.6,1444.9 1827.6,1446.4 1828.6,1447.8 1829.6,1449.3 1830.6,1450.7 1831.6,1452.1 1832.6,1453.5 1833.6,1454.9 1834.6,1456.3 1835.6,1457.6 1836.6,1459.0 1837.6,1460.3 1838.6,1461.5 1839.6,1462.8 1840.6,1464.0 1841.6,1465.2 1842.6,1466.4 1843.6,1467.5 1844.6,1468.6 1845.6,1469.7 1846.6,1470.8 1847.6,1471.8 1848.6,1472.8 1849.6,1473.8 1850.6,1474.8 1851.6,1475.7 1852.6,1476.6 1853.6,1477.5 1854.6,1478.3 1855.6,1479.1 1856.6,1479.9 1857.6,1480.7 1858.6,1481.4 1859.6,1482.1 1860.6,1482.8 1861.6,1483.4 1862.6,1484.1 1863.6,1484.7 1864.6,1485.3 1865.6,1485.8 1866.6,1486.3 1867.6,1486.9 1868.6,1487.4 1869.6,1487.8 1870.6,1488.3 1871.6,1488.7 1872.6,1489.1 1873.6,1489.5 1874.6,1489.9 1875.6,1490.2 1876.6,1490.6 1877.6,1490.9 1878.6,1491.2 1879.6,1491.5 1880.6,1491.8 1881.6,1492.0 1882.6,1492.3 1883.6,1492.5 1884.6,1492.8 1885.6,1493.0 1886.6,1493.2 1887.6,1493.4 1888.6,1493.5 1889.6,1493.7 1890.6,1493.9 1891.6,1494.0 1892.6,1494.2 1893.6,1494.3 1894.6,1494.4 1895.6,1494.6 1896.6,1494.7 1897.6,1494.8 1898.6,1494.9 1899.6,1495.0 1900.6,1495.1 1901.6,1495.2 1902.6,1495.3 1903.6,1495.3 1904.6,1495.4 1905.6,1495.5 1906.6,1495.5 1907.6,1495.6 1908.6,1495.7 1909.6,1495.7 1910.6,1495.8 1911.6,1495.8 1912.6,1495.9 1913.6,1495.9 1914.6,1496.0 1915.6,1496.0 1916.6,1496.0 1917.6,1496.1 1918.6,1496.1 1919.6,1496.1 1920.6,1496.2 1921.6,1496.2 1922.6,1496.2 1923.6,1496.3 1924.6,1496.3 1925.6,1496.3 1926.6,1496.3 1927.6,1496.4 1928.6,1496.4 1929.6,1496.4 1930.6,1496.4 1931.6,1496.5 1932.6,1496.5 1933.6,1496.5 1934.6,1496.5 1935.6,1496.5 1936.6,1496.6 1937.6,1496.6 1938.6,1496.6 1939.6,1496.6 1940.6,1496.6 1941.6,1496.7 1942.6,1496.7 1943.6,1496.7 1944.6,1496.7 1945.6,1496.7 1946.6,1496.7 1947.6,1496.8 1948.6,1496.8 1949.6,1496.8 1950.6,1496.8 1951.6,1496.8 1952.6,1496.8 1953.6,1496.9 1954.6,1496.9 1955.6,1496.9 1956.6,1496.9 1957.6,1496.9 1958.6,1496.9 1959.6,1497.0 1960.6,1497.0 1961.6,1497.0 1962.6,1497.0 1963.6,1497.0 1964.6,1497.0 1965.6,1497.1 1966.6,1497.1 1967.6,1497.1 1968.6,1497.1 1969.6,1497.1 1970.6,1497.1 1971.6,1497.2 1972.6,1497.2 1973.6,1497.2 1974.6,1497.2 1975.6,1497.2 1976.6,1497.2 1977.6,1497.3 1978.6,1497.3 1979.6,1497.3 1980.6,1497.3 1981.6,1497.3 1982.6,1497.3 1983.6,1497.3 1984.6,1497.4 1985.6,1497.4 1986.6,1497.4 1987.6,1497.4 1988.6,1497.4 1989.6,1497.4 1990.6,1497.5 1991.6,1497.5 1992.6,1497.5 1993.6,1497.5 1994.6,1497.5 1995.6,1497.5 1996.6,1497.6 1997.6,1497.6 1998.6,1497.6 1999.6,1497.6 2000.6,1497.6 2001.6,1497.6 2002.6,1497.7 2003.6,1497.7 2004.6,1497.7 2005.6,1497.7 2006.6,1497.7 2007.6,1497.7 2008.6,1497.7 2009.6,1497.8 2010.6,1497.8 2011.6,1497.8 2012.6,1497.8 2013.6,1497.8 2014.6,1497.8 2015.6,1497.9 2016.6,1497.9 2017.6,1497.9 2018.6,1497.9 2019.6,1497.9 2020.6,1497.9 2021.6,1498.0 2022.6,1498.0 2023.6,1498.0 2024.6,1498.0 2025.6,1498.0 2026.6,1498.0 2027.6,1498.1 2028.6,1498.1 2029.6,1498.1 2030.6,1498.1 2031.6,1498.1 2032.6,1498.1 2033.6,1498.1 2034.6,1498.2 2035.6,1498.2 2036.6,1498.2 2037.6,1498.2 2038.6,1498.2 2039.6,1498.2 2040.6,1498.3 2041.6,1498.3 2042.6,1498.3 2043.6,1498.3 2044.6,1498.3 2045.6,1498.3 2046.6,1498.4 2047.6,1498.4 2048.6,1498.4 2049.6,1498.4 2050.6,1498.4 2051.6,1498.4 2052.6,1498.5 2053.6,1498.5 2054.6,1498.5 2055.6,1498.5 2056.6,1498.5 2057.6,1498.5 2058.6,1498.5 2059.6,1498.6 2060.6,1498.6 2061.6,1498.6 2062.6,1498.6 2063.6,1498.6 2064.6,1498.6 2065.6,1498.7 2066.6,1498.7 2067.6,1498.7 2068.6,1498.7 2069.6,1498.7 2070.6,1498.7 2071.6,1498.8 2072.6,1498.8 2073.6,1498.8 2074.6,1498.8 2075.6,1498.8 2076.6,1498.8 2077.6,1498.8 2078.6,1498.9 2079.6,1498.9 2080.6,1498.9 2081.6,1498.9 2082.6,1498.9 2083.6,1498.9 2084.6,1499.0 2085.6,1499.0 2086.6,1499.0 2087.6,1499.0 2088.6,1499.0 2089.6,1499.0 2090.6,1499.1 2091.6,1499.1 2092.6,1499.1 2093.6,1499.1 2094.6,1499.1 2095.6,1499.1 2096.6,1499.2 2097.6,1499.2 2098.6,1499.2 2099.6,1499.2 2100.6,1499.2 2101.6,1499.2 2102.6,1499.2 2103.6,1499.3 2104.6,1499.3 2105.6,1499.3 2106.6,1499.3 2107.6,1499.3 2108.6,1499.3 2109.6,1499.4 2110.6,1499.4 2111.6,1499.4 2112.6,1499.4 2113.6,1499.4 2114.6,1499.4 2115.6,1499.5 2116.6,1499.5 2117.6,1499.5 2118.6,1499.5 2119.6,1499.5 2120.6,1499.5 2121.6,1499.6 2122.6,1499.6 2123.6,1499.6 2124.6,1499.6 2125.6,1499.6 2126.6,1499.6 2127.6,1499.6 2128.6,1499.7 2129.6,1499.7 2130.6,1499.7 2131.6,1499.7 2132.6,1499.7 2133.6,1499.7 2134.6,1499.8 2135.6,1499.8 2136.6,1499.8 2137.6,1499.8 2138.6,1499.8 2139.6,1499.8 2140.6,1499.9 2141.6,1499.9 2142.6,1499.9 2143.6,1499.9 2144.6,1499.9 2145.6,1499.9 2146.6,1500.0 2147.6,1500.0 2148.6,1500.0 2149.6,1500.0 2150.6,1500.0 2151.6,1500.0 2152.6,1500.0 2153.6,1500.1 2154.6,1500.1 2155.6,1500.1 2156.6,1500.1 2157.6,1500.1 2158.6,1500.1 2159.6,1500.2 2160.6,1500.2 2161.6,1500.2 2162.6,1500.2 2163.6,1500.2 2164.6,1500.2 2165.6,1500.3 2166.6,1500.3 2167.6,1500.3 2168.6,1500.3 2169.6,1500.3 2170.6,1500.3 2171.6,1500.3 2172.6,1500.4 2173.6,1500.4 2174.6,1500.4 2175.6,1500.4 2176.6,1500.4 2177.6,1500.4 2178.6,1500.5" fill="none" stroke="#ff7f00" stroke-width="4" stroke-linejoin="round" stroke-linecap="round" />
<polyline points="1263.6,1471.7 1264.6,1471.6 1265.6,1471.6 1266.6,1471.5 1267.6,1471.4 1268.6,1471.4 1269.6,1471.3 1270.6,1471.2 1271.6,1471.2 1272.6,1471.1 1273.6,1471.1 1274.6,1471.0 1275.6,1470.9 1276.6,1470.9 1277.6,1470.8 1278.6,1470.7 1279.6,1470.7 1280.6,1470.6 1281.6,1470.5 1282.6,1470.5 1283.6,1470.4 1284.6,1470.3 1285.6,1470.3 1286.6,1470.2 1287.6,1470.1 1288.6,1470.1 1289.6,1470.0 1290.6,1469.9 1291.6,1469.9 1292.6,1469.8 1293.6,1469.7 1294.6,1469.7 1295.6,1469.6 1296.6,1469.5 1297.6,1469.5 1298.6,1469.4 1299.6,1469.4 1300.6,1469.3 1301.6,1469.2 1302.6,1469.2 1303.6,1469.1 1304.6,1469.0 1305.6,1469.0 1306.6,1468.9 1307.6,1468.8 1308.6,1468.8 1309.6,1468.7 1310.6,1468.7 1311.6,1468.6 1312.6,1468.5 1313.6,1468.5 1314.6,1468.4 1315.6,1468.3 1316.6,1468.3 1317.6,1468.2 1318.6,1468.2 1319.6,1468.1 1320.6,1468.0 1321.6,1468.0 1322.6,1467.9 1323.6,1467.9 1324.6,1467.8 1325.6,1467.7 1326.6,1467.7 1327.6,1467.6 1328.6,1467.6 1329.6,1467.5 1330.6,1467.5 1331.6,1467.4 1332.6,1467.4 1333.6,1467.3 1334.6,1467.3 1335.6,1467.2 1336.6,1467.2 1337.6,1467.1 1338.6,1467.1 1339.6,1467.0 1340.6,1467.0 1341.6,1466.9 1342.6,1466.9 1343.6,1466.8 1344.6,1466.8 1345.6,1466.7 1346.6,1466.7 1347.6,1466.6 1348.6,1466.6 1349.6,1466.6 1350.6,1466.5 1351.6,1466.5 1352.6,1466.4 1353.6,1466.4 1354.6,1466.3 1355.6,1466.3 1356.6,1466.3 1357.6,1466.2 1358.6,1466.2 1359.6,1466.1 1360.6,1466.1 1361.6,1466.1 1362.6,1466.0 1363.6,1466.0 1364.6,1465.9 1365.6,1465.9 1366.6,1465.8 1367.6,1465.8 1368.6,1465.7 1369.6,1465.7 1370.6,1465.7 1371.6,1465.6 1372.6,1465.6 1373.6,1465.5 1374.6,1465.5 1375.6,1465.4 1376.6,1465.4 1377.6,1465.3 1378.6,1465.3 1379.6,1465.2 1380.6,1465.2 1381.6,1465.1 1382.6,1465.1 1383.6,1465.0 1384.6,1465.0 1385.6,1464.9 1386.6,1464.8 1387.6,1464.8 1388.6,1464.7 1389.6,1464.7 1390.6,1464.6 1391.6,1464.5 1392.6,1464.5 1393.6,1464.4 1394.6,1464.3 1395.6,1464.3 1396.6,1464.2 1397.6,1464.1 1398.6,1464.0 1399.6,1464.0 1400.6,1463.9 1401.6,1463.8 1402.6,1463.7 1403.6,1463.7 1404.6,1463.6 1405.6,1463.5 1406.6,1463.4 1407.6,1463.3 1408.6,1463.3 1409.6,1463.2 1410.6,1463.1 1411.6,1463.0 1412.6,1462.9 1413.6,1462.8 1414.6,1462.8 1415.6,1462.7 1416.6,1462.6 1417.6,1462.5 1418.6,1462.4 1419.6,1462.3 1420.6,1462.2 1421.6,1462.1 1422.6,1462.1 1423.6,1462.0 1424.6,1461.9 1425.6,1461.8 1426.6,1461.7 1427.6,1461.6 1428.6,1461.5 1429.6,1461.4 1430.6,1461.3 1431.6,1461.3 1432.6,1461.2 1433.6,1461.1 1434.6,1461.0 1435.6,1460.9 1436.6,1460.8 1437.6,1460.7 1438.6,1460.6 1439.6,1460.5 1440.6,1460.4 1441.6,1460.4 1442.6,1460.3 1443.6,1460.2 1444.6,1460.1 1445.6,1460.0 1446.6,1459.9 1447.6,1459.8 1448.6,1459.8 1449.6,1459.7 1450.6,1459.6 1451.6,1459.5 1452.6,1459.4 1453.6,1459.3 1454.6,1459.3 1455.6,1459.2 1456.6,1459.1 1457.6,1459.0 1458.6,1458.9 1459.6,1458.9 1460.6,1458.8 1461.6,1458.7 1462.6,1458.6 1463.6,1458.6 1464.6,1458.5 1465.6,1458.4 1466.6,1458.3 1467.6,1458.2 1468.6,1458.2 1469.6,1458.1 1470.6,1458.0 1471.6,1457.9 1472.6,1457.8 1473.6,1457.8 1474.6,1457.7 1475.6,1457.6 1476.6,1457.5 1477.6,1457.4 1478.6,1457.3 1479.6,1457.3 1480.6,1457.2 1481.6,1457.1 1482.6,1457.0 1483.6,1456.9 1484.6,1456.8 1485.6,1456.8 1486.6,1456.7 1487.6,1456.6 1488.6,1456.5 1489.6,1456.4 1490.6,1456.4 1491.6,1456.3 1492.6,1456.2 1493.6,1456.1 1494.6,1456.1 1495.6,1456.0 1496.6,1455.9 1497.6,1455.8 1498.6,1455.8 1499.6,1455.7 1500.6,1455.6 1501.6,1455.5 1502.6,1455.5 1503.6,1455.4 1504.6,1455.3 1505.6,1455.3 1506.6,1455.2 1507.6,1455.1 1508.6,1455.1 1509.6,1455.0 1510.6,1455.0 1511.6,1454.9 1512.6,1454.8 1513.6,1454.8 1514.6,1454.7 1515.6,1454.7 1516.6,1454.6 1517.6,1454.6 1518.6,1454.5 1519.6,1454.5 1520.6,1454.5 1521.6,1454.4 1522.6,1454.4 1523.6,1454.4 1524.6,1454.3 1525.6,1454.3 1526.6,1454.3 1527.6,1454.2 1528.6,1454.2 1529.6,1454.2 1530.6,1454.2 1531.6,1454.1 1532.6,1454.1 1533.6,1454.1 1534.6,1454.1 1535.6,1454.1 1536.6,1454.1 1537.6,1454.1 1538.6,1454.1 1539.6,1454.0 1540.6,1454.0 1541.6,1454.0 1542.6,1454.0 1543.6,1454.0 1544.6,1454.0 1545.6,1454.0 1546.6,1454.1 1547.6,1454.1 1548.6,1454.1 1549.6,1454.1 1550.6,1454.1 1551.6,1454.1 1552.6,1454.1 1553.6,1454.2 1554.6,1454.2 1555.6,1454.2 1556.6,1454.2 1557.6,1454.3 1558.6,1454.3 1559.6,1454.4 1560.6,1454.4 1561.6,1454.4 1562.6,1454.5 1563.6,1454.5 1564.6,1454.6 1565.6,1454.6 1566.6,1454.7 1567.6,1454.8 1568.6,1454.8 1569.6,1454.9 1570.6,1455.0 1571.6,1455.1 1572.6,1455.1 1573.6,1455.2 1574.6,1455.3 1575.6,1455.4 1576.6,1455.5 1577.6,1455.6 1578.6,1455.7 1579.6,1455.9 1580.6,1456.0 1581.6,1456.2 1582.6,1456.3 1583.6,1456.5 1584.6,1456.6 1585.6,1456.8 1586.6,1457.0 1587.6,1457.1 1588.6,1457.3 1589.6,1457.5 1590.6,1457.7 1591.6,1457.8 1592.6,1458.0 1593.6,1458.2 1594.6,1458.3 1595.6,1458.5 1596.6,1458.7 1597.6,1458.8 1598.6,1459.0 1599.6,1459.1 1600.6,1459.3 1601.6,1459.4 1602.6,1459.6 1603.6,1459.7 1604.6,1459.9 1605.6,1460.0 1606.6,1460.2 1607.6,1460.3 1608.6,1460.5 1609.6,1460.6 1610.6,1460.8 1611.6,1461.0 1612.6,1461.1 1613.6,1461.3 1614.6,1461.4 1615.6,1461.6 1616.6,1461.7 1617.6,1461.9 1618.6,1462.0 1619.6,1462.2 1620.6,1462.3 1621.6,1462.5 1622.6,1462.6 1623.6,1462.8 1624.6,1462.9 1625.6,1463.1 1626.6,1463.2 1627.6,1463.4 1628.6,1463.5 1629.6,1463.6 1630.6,1463.8 1631.6,1463.9 1632.6,1464.1 1633.6,1464.2 1634.6,1464.3 1635.6,1464.5 1636.6,1464.6 1637.6,1464.7 1638.6,1464.9 1639.6,1465.0 1640.6,1465.1 1641.6,1465.3 1642.6,1465.4 1643.6,1465.5 1644.6,1465.6 1645.6,1465.7 1646.6,1465.8 1647.6,1465.9 1648.6,1466.1 1649.6,1466.1 1650.6,1466.2 1651.6,1466.3 1652.6,1466.4 1653.6,1466.5 1654.6,1466.6 1655.6,1466.7 1656.6,1466.7 1657.6,1466.8 1658.6,1466.9 1659.6,1466.9 1660.6,1467.0 1661.6,1467.0 1662.6,1467.1 1663.6,1467.1 1664.6,1467.1 1665.6,1467.2 1666.6,1467.2 1667.6,1467.2 1668.6,1467.2 1669.6,1467.2 1670.6,1467.2 1671.6,1467.2 1672.6,1467.2 1673.6,1467.2 1674.6,1467.1 1675.6,1467.1 1676.6,1467.1 1677.6,1467.0 1678.6,1467.0 1679.6,1466.9 1680.6,1466.8 1681.6,1466.7 1682.6,1466.6 1683.6,1466.5 1684.6,1466.4 1685.6,1466.3 1686.6,1466.1 1687.6,1466.0 1688.6,1465.8 1689.6,1465.6 1690.6,1465.4 1691.6,1465.2 1692.6,1465.0 1693.6,1464.8 1694.6,1464.5 1695.6,1464.3 1696.6,1464.0 1697.6,1463.7 1698.6,1463.4 1699.6,1463.1 1700.6,1462.7 1701.6,1462.3 1702.6,1461.9 1703.6,1461.5 1704.6,1461.0 1705.6,1460.5 1706.6,1460.0 1707.6,1459.5 1708.6,1458.9 1709.6,1458.3 1710.6,1457.6 1711.6,1456.9 1712.6,1456.2 1713.6,1455.4 1714.6,1454.7 1715.6,1453.8 1716.6,1453.0 1717.6,1452.1 1718.6,1451.2 1719.6,1450.2 1720.6,1449.3 1721.6,1448.3 1722.6,1447.2 1723.6,1446.2 1724.6,1445.1 1725.6,1443.9 1726.6,1442.8 1727.6,1441.6 1728.6,1440.4 1729.6,1439.2 1730.6,1437.9 1731.6,1436.7 1732.6,1435.4 1733.6,1434.1 1734.6,1432.7 1735.6,1431.4 1736.6,1430.0 1737.6,1428.7 1738.6,1427.3 1739.6,1425.9 1740.6,1424.4 1741.6,1423.0 1742.6,1421.6 1743.6,1420.2 1744.6,1418.7 1745.6,1417.3 1746.6,1415.9 1747.6,1414.4 1748.6,1413.0 1749.6,1411.6 1750.6,1410.2 1751.6,1408.7 1752.6,1407.4 1753.6,1406.0 1754.6,1404.6 1755.6,1403.3 1756.6,1401.9 1757.6,1400.6 1758.6,1399.3 1759.6,1398.1 1760.6,1396.8 1761.6,1395.6 1762.6,1394.4 1763.6,1393.3 1764.6,1392.1 1765.6,1391.0 1766.6,1390.0 1767.6,1388.9 1768.6,1387.9 1769.6,1387.0 1770.6,1386.0 1771.6,1385.1 1772.6,1384.3 1773.6,1383.4 1774.6,1382.6 1775.6,1381.9 1776.6,1381.2 1777.6,1380.5 1778.6,1379.8 1779.6,1379.2 1780.6,1378.7 1781.6,1378.2 1782.6,1377.8 1783.6,1377.4 1784.6,1377.0 1785.6,1376.7 1786.6,1376.4 1787.6,1376.1 1788.6,1375.8 1789.6,1375.6 1790.6,1375.3 1791.6,1375.1 1792.6,1375.0 1793.6,1374.8 1794.6,1374.6 1795.6,1374.5 1796.6,1374.4 1797.6,1374.2 1798.6,1374.1 1799.6,1374.0 1800.6,1373.9 1801.6,1373.8 1802.6,1373.7 1803.6,1373.6 1804.6,1373.5 1805.6,1373.4 1806.6,1373.3 1807.6,1373.1 1808.6,1373.0 1809.6,1372.9 1810.6,1372.7 1811.6,1372.5 1812.6,1372.3 1813.6,1372.1 1814.6,1371.9 1815.6,1371.6 1816.6,1371.4 1817.6,1371.1 1818.6,1370.8 1819.6,1370.5 1820.6,1370.1 1821.6,1369.7 1822.6,1369.4 1823.6,1368.9 1824.6,1368.5 1825.6,1368.1 1826.6,1367.6 1827.6,1367.1 1828.6,1366.6 1829.6,1366.1 1830.6,1365.5 1831.6,1364.9 1832.6,1364.3 1833.6,1363.7 1834.6,1363.1 1835.6,1362.5 1836.6,1361.8 1837.6,1361.2 1838.6,1360.5 1839.6,1359.8 1840.6,1359.0 1841.6,1358.2 1842.6,1357.4 1843.6,1356.5 1844.6,1355.7 1845.6,1354.8 1846.6,1353.9 1847.6,1353.0 1848.6,1352.0 1849.6,1351.0 1850.6,1350.0 1851.6,1349.0 1852.6,1347.9 1853.6,1346.8 1854.6,1345.7 1855.6,1344.5 1856.6,1343.3 1857.6,1342.0 1858.6,1340.6 1859.6,1339.2 1860.6,1337.8 1861.6,1336.2 1862.6,1334.6 1863.6,1332.9 1864.6,1331.0 1865.6,1329.1 1866.6,1327.1 1867.6,1325.0 1868.6,1322.7 1869.6,1320.4 1870.6,1317.9 1871.6,1315.2 1872.6,1312.4 1873.6,1309.5 1874.6,1306.3 1875.6,1303.1 1876.6,1299.6 1877.6,1296.0 1878.6,1292.1 1879.6,1288.1 1880.6,1283.9 1881.6,1279.4 1882.6,1274.8 1883.6,1270.0 1884.6,1264.9 1885.6,1259.6 1886.6,1254.1 1887.6,1248.4 1888.6,1242.4 1889.6,1236.3 1890.6,1229.9 1891.6,1223.3 1892.6,1216.5 1893.6,1209.5 1894.6,1202.3 1895.6,1194.8 1896.6,1187.2 1897.6,1179.5 1898.6,1171.5 1899.6,1163.4 1900.6,1155.1 1901.6,1146.7 1902.6,1138.2 1903.6,1129.6 1904.6,1120.9 1905.6,1112.1 1906.6,1103.3 1907.6,1094.4 1908.6,1085.5 1909.6,1076.6 1910.6,1067.7 1911.6,1058.9 1912.6,1050.1 1913.6,1041.5 1914.6,1032.9 1915.6,1024.5 1916.6,1016.2 1917.6,1008.2 1918.6,1000.3 1919.6,992.6 1920.6,985.2 1921.6,978.1 1922.6,971.3 1923.6,964.7 1924.6,958.6 1925.6,952.7 1926.6,947.3 1927.6,942.2 1928.6,937.6 1929.6,933.4 1930.6,929.6 1931.6,926.3 1932.6,923.5 1933.6,921.2 1934.6,919.3 1935.6,917.9 1936.6,917.1 1937.6,916.8 1938.6,917.0 1939.6,917.7 1940.6,919.0 1941.6,920.8 1942.6,923.3 1943.6,926.3 1944.6,929.9 1945.6,934.0 1946.6,938.7 1947.6,943.8 1948.6,949.6 1949.6,955.8 1950.6,962.4 1951.6,969.6 1952.6,977.2 1953.6,985.2 1954.6,993.6 1955.6,1002.4 1956.6,1011.6 1957.6,1021.1 1958.6,1030.9 1959.6,1040.9 1960.6,1051.2 1961.6,1061.8 1962.6,1072.5 1963.6,1083.4 1964.6,1094.4 1965.6,1105.6 1966.6,1116.8 1967.6,1128.2 1968.6,1139.5 1969.6,1150.9 1970.6,1162.2 1971.6,1173.6 1972.6,1184.8 1973.6,1196.0 1974.6,1207.1 1975.6,1218.1 1976.6,1229.0 1977.6,1239.7 1978.6,1250.2 1979.6,1260.5 1980.6,1270.7 1981.6,1280.6 1982.6,1290.3 1983.6,1299.8 1984.6,1309.1 1985.6,1318.0 1986.6,1326.8 1987.6,1335.3 1988.6,1343.5 1989.6,1351.4 1990.6,1359.1 1991.6,1366.5 1992.6,1373.7 1993.6,1380.5 1994.6,1387.1 1995.6,1393.4 1996.6,1399.5 1997.6,1405.3 1998.6,1410.8 1999.6,1416.1 2000.6,1421.1 2001.6,1425.9 2002.6,1430.4 2003.6,1434.7 2004.6,1438.8 2005.6,1442.7 2006.6,1446.4 2007.6,1449.8 2008.6,1453.1 2009.6,1456.1 2010.6,1459.0 2011.6,1461.7 2012.6,1464.3 2013.6,1466.7 2014.6,1468.9 2015.6,1471.0 2016.6,1472.9 2017.6,1474.7 2018.6,1476.4 2019.6,1478.0 2020.6,1479.5 2021.6,1480.8 2022.6,1482.1 2023.6,1483.3 2024.6,1484.3 2025.6,1485.3 2026.6,1486.3 2027.6,1487.1 2028.6,1487.9 2029.6,1488.6 2030.6,1489.3 2031.6,1489.9 2032.6,1490.5 2033.6,1491.0 2034.6,1491.5 2035.6,1491.9 2036.6,1492.3 2037.6,1492.7 2038.6,1493.0 2039.6,1493.3 2040.6,1493.6 2041.6,1493.8 2042.6,1494.1 2043.6,1494.3 2044.6,1494.5 2045.6,1494.7 2046.6,1494.8 2047.6,1495.0 2048.6,1495.1 2049.6,1495.2 2050.6,1495.3 2051.6,1495.4 2052.6,1495.5 2053.6,1495.6 2054.6,1495.7 2055.6,1495.8 2056.6,1495.9 2057.6,1495.9 2058.6,1496.0 2059.6,1496.0 2060.6,1496.1 2061.6,1496.2 2062.6,1496.2 2063.6,1496.2 2064.6,1496.3 2065.6,1496.3 2066.6,1496.4 2067.6,1496.4 2068.6,1496.4 2069.6,1496.5 2070.6,1496.5 2071.6,1496.5 2072.6,1496.6 2073.6,1496.6 2074.6,1496.6 2075.6,1496.7 2076.6,1496.7 2077.6,1496.7 2078.6,1496.8 2079.6,1496.8 2080.6,1496.8 2081.6,1496.8 2082.6,1496.9 2083.6,1496.9 2084.6,1496.9 2085.6,1497.0 2086.6,1497.0 2087.6,1497.0 2088.6,1497.0 2089.6,1497.1 2090.6,1497.1 2091.6,1497.1 2092.6,1497.1 2093.6,1497.2 2094.6,1497.2 2095.6,1497.2 2096.6,1497.3 2097.6,1497.3 2098.6,1497.3 2099.6,1497.3 2100.6,1497.4 2101.6,1497.4 2102.6,1497.4 2103.6,1497.4 2104.6,1497.5 2105.6,1497.5 2106.6,1497.5 2107.6,1497.6 2108.6,1497.6 2109.6,1497.6 2110.6,1497.6 2111.6,1497.7 2112.6,1497.7 2113.6,1497.7 2114.6,1497.7 2115.6,1497.8 2116.6,1497.8 2117.6,1497.8 2118.6,1497.9 2119.6,1497.9 2120.6,1497.9 2121.6,1497.9 2122.6,1498.0 2123.6,1498.0 2124.6,1498.0 2125.6,1498.0 2126.6,1498.1 2127.6,1498.1 2128.6,1498.1 2129.6,1498.2 2130.6,1498.2 2131.6,1498.2 2132.6,1498.2 2133.6,1498.3 2134.6,1498.3 2135.6,1498.3 2136.6,1498.3 2137.6,1498.4 2138.6,1498.4 2139.6,1498.4 2140.6,1498.5 2141.6,1498.5 2142.6,1498.5 2143.6,1498.5 2144.6,1498.6 2145.6,1498.6 2146.6,1498.6 2147.6,1498.6 2148.6,1498.7 2149.6,1498.7 2150.6,1498.7 2151.6,1498.8 2152.6,1498.8 2153.6,1498.8 2154.6,1498.8 2155.6,1498.9 2156.6,1498.9 2157.6,1498.9 2158.6,1498.9 2159.6,1499.0 2160.6,1499.0 2161.6,1499.0 2162.6,1499.1 2163.6,1499.1 2164.6,1499.1 2165.6,1499.1 2166.6,1499.2 2167.6,1499.2 2168.6,1499.2 2169.6,1499.2 2170.6,1499.3 2171.6,1499.3 2172.6,1499.3 2173.6,1499.4 2174.6,1499.4 2175.6,1499.4 2176.6,1499.4 2177.6,1499.5 2178.6,1499.5" fill="none" stroke="#ff0000" stroke-width="4" stroke-linejoin="round" stroke-linecap="round" />
<polyline points="1263.6,1471.7 1264.6,1471.6 1265.6,1471.6 1266.6,1471.5 1267.6,1471.4 1268.6,1471.4 1269.6,1471.3 1270.6,1471.2 1271.6,1471.2 1272.6,1471.1 1273.6,1471.1 1274.6,1471.0 1275.6,1470.9 1276.6,1470.9 1277.6,1470.8 1278.6,1470.7 1279.6,1470.7 1280.6,1470.6 1281.6,1470.5 1282.6,1470.5 1283.6,1470.4 1284.6,1470.3 1285.6,1470.3 1286.6,1470.2 1287.6,1470.1 1288.6,1470.1 1289.6,1470.0 1290.6,1469.9 1291.6,1469.9 1292.6,1469.8 1293.6,1469.7 1294.6,1469.7 1295.6,1469.6 1296.6,1469.5 1297.6,1469.5 1298.6,1469.4 1299.6,1469.4 1300.6,1469.3 1301.6,1469.2 1302.6,1469.2 1303.6,1469.1 1304.6,1469.0 1305.6,1469.0 1306.6,1468.9 1307.6,1468.8 1308.6,1468.8 1309.6,1468.7 1310.6,1468.7 1311.6,1468.6 1312.6,1468.5 1313.6,1468.5 1314.6,1468.4 1315.6,1468.3 1316.6,1468.3 1317.6,1468.2 1318.6,1468.2 1319.6,1468.1 1320.6,1468.0 1321.6,1468.0 1322.6,1467.9 1323.6,1467.9 1324.6,1467.8 1325.6,1467.7 1326.6,1467.7 1327.6,1467.6 1328.6,1467.6 1329.6,1467.5 1330.6,1467.5 1331.6,1467.4 1332.6,1467.4 1333.6,1467.3 1334.6,1467.3 1335.6,1467.2 1336.6,1467.2 1337.6,1467.1 1338.6,1467.1 1339.6,1467.0 1340.6,1467.0 1341.6,1466.9 1342.6,1466.9 1343.6,1466.8 1344.6,1466.8 1345.6,1466.7 1346.6,1466.7 1347.6,1466.6 1348.6,1466.6 1349.6,1466.6 1350.6,1466.5 1351.6,1466.5 1352.6,1466.4 1353.6,1466.4 1354.6,1466.3 1355.6,1466.3 1356.6,1466.3 1357.6,1466.2 1358.6,1466.2 1359.6,1466.1 1360.6,1466.1 1361.6,1466.1 1362.6,1466.0 1363.6,1466.0 1364.6,1465.9 1365.6,1465.9 1366.6,1465.8 1367.6,1465.8 1368.6,1465.7 1369.6,1465.7 1370.6,1465.7 1371.6,1465.6 1372.6,1465.6 1373.6,1465.5 1374.6,1465.5 1375.6,1465.4 1376.6,1465.4 1377.6,1465.3 1378.6,1465.3 1379.6,1465.2 1380.6,1465.2 1381.6,1465.1 1382.6,1465.1 1383.6,1465.0 1384.6,1465.0 1385.6,1464.9 1386.6,1464.8 1387.6,1464.8 1388.6,1464.7 1389.6,1464.7 1390.6,1464.6 1391.6,1464.5 1392.6,1464.5 1393.6,1464.4 1394.6,1464.3 1395.6,1464.3 1396.6,1464.2 1397.6,1464.1 1398.6,1464.0 1399.6,1464.0 1400.6,1463.9 1401.6,1463.8 1402.6,1463.7 1403.6,1463.7 1404.6,1463.6 1405.6,1463.5 1406.6,1463.4 1407.6,1463.3 1408.6,1463.3 1409.6,1463.2 1410.6,1463.1 1411.6,1463.0 1412.6,1462.9 1413.6,1462.8 1414.6,1462.8 1415.6,1462.7 1416.6,1462.6 1417.6,1462.5 1418.6,1462.4 1419.6,1462.3 1420.6,1462.2 1421.6,1462.1 1422.6,1462.1 1423.6,1462.0 1424.6,1461.9 1425.6,1461.8 1426.6,1461.7 1427.6,1461.6 1428.6,1461.5 1429.6,1461.4 1430.6,1461.3 1431.6,1461.3 1432.6,1461.2 1433.6,1461.1 1434.6,1461.0 1435.6,1460.9 1436.6,1460.8 1437.6,1460.7 1438.6,1460.6 1439.6,1460.5 1440.6,1460.4 1441.6,1460.4 1442.6,1460.3 1443.6,1460.2 1444.6,1460.1 1445.6,1460.0 1446.6,1459.9 1447.6,1459.8 1448.6,1459.8 1449.6,1459.7 1450.6,1459.6 1451.6,1459.5 1452.6,1459.4 1453.6,1459.3 1454.6,1459.3 1455.6,1459.2 1456.6,1459.1 1457.6,1459.0 1458.6,1458.9 1459.6,1458.9 1460.6,1458.8 1461.6,1458.7 1462.6,1458.6 1463.6,1458.6 1464.6,1458.5 1465.6,1458.4 1466.6,1458.3 1467.6,1458.2 1468.6,1458.2 1469.6,1458.1 1470.6,1458.0 1471.6,1457.9 1472.6,1457.8 1473.6,1457.8 1474.6,1457.7 1475.6,1457.6 1476.6,1457.5 1477.6,1457.4 1478.6,1457.3 1479.6,1457.3 1480.6,1457.2 1481.6,1457.1 1482.6,1457.0 1483.6,1456.9 1484.6,1456.8 1485.6,1456.8 1486.6,1456.7 1487.6,1456.6 1488.6,1456.5 1489.6,1456.4 1490.6,1456.4 1491.6,1456.3 1492.6,1456.2 1493.6,1456.1 1494.6,1456.1 1495.6,1456.0 1496.6,1455.9 1497.6,1455.8 1498.6,1455.8 1499.6,1455.7 1500.6,1455.6 1501.6,1455.5 1502.6,1455.5 1503.6,1455.4 1504.6,1455.3 1505.6,1455.3 1506.6,1455.2 1507.6,1455.1 1508.6,1455.1 1509.6,1455.0 1510.6,1455.0 1511.6,1454.9 1512.6,1454.8 1513.6,1454.8 1514.6,1454.7 1515.6,1454.7 1516.6,1454.6 1517.6,1454.6 1518.6,1454.5 1519.6,1454.5 1520.6,1454.5 1521.6,1454.4 1522.6,1454.4 1523.6,1454.4 1524.6,1454.3 1525.6,1454.3 1526.6,1454.3 1527.6,1454.2 1528.6,1454.2 1529.6,1454.2 1530.6,1454.2 1531.6,1454.1 1532.6,1454.1 1533.6,1454.1 1534.6,1454.1 1535.6,1454.1 1536.6,1454.1 1537.6,1454.1 1538.6,1454.1 1539.6,1454.0 1540.6,1454.0 1541.6,1454.0 1542.6,1454.0 1543.6,1454.0 1544.6,1454.0 1545.6,1454.0 1546.6,1454.1 1547.6,1454.1 1548.6,1454.1 1549.6,1454.1 1550.6,1454.1 1551.6,1454.1 1552.6,1454.1 1553.6,1454.2 1554.6,1454.2 1555.6,1454.2 1556.6,1454.2 1557.6,1454.3 1558.6,1454.3 1559.6,1454.4 1560.6,1454.4 1561.6,1454.4 1562.6,1454.5 1563.6,1454.5 1564.6,1454.6 1565.6,1454.6 1566.6,1454.7 1567.6,1454.8 1568.6,1454.8 1569.6,1454.9 1570.6,1455.0 1571.6,1455.1 1572.6,1455.1 1573.6,1455.2 1574.6,1455.3 1575.6,1455.4 1576.6,1455.5 1577.6,1455.6 1578.6,1455.7 1579.6,1455.9 1580.6,1456.0 1581.6,1456.2 1582.6,1456.3 1583.6,1456.5 1584.6,1456.6 1585.6,1456.8 1586.6,1457.0 1587.6,1457.1 1588.6,1457.3 1589.6,1457.5 1590.6,1457.7 1591.6,1457.8 1592.6,1458.0 1593.6,1458.2 1594.6,1458.3 1595.6,1458.5 1596.6,1458.7 1597.6,1458.8 1598.6,1459.0 1599.6,1459.1 1600.6,1459.3 1601.6,1459.4 1602.6,1459.6 1603.6,1459.7 1604.6,1459.9 1605.6,1460.0 1606.6,1460.2 1607.6,1460.3 1608.6,1460.5 1609.6,1460.6 1610.6,1460.8 1611.6,1461.0 1612.6,1461.1 1613.6,1461.3 1614.6,1461.4 1615.6,1461.6 1616.6,1461.7 1617.6,1461.9 1618.6,1462.0 1619.6,1462.2 1620.6,1462.3 1621.6,1462.5 1622.6,1462.6 1623.6,1462.8 1624.6,1462.9 1625.6,1463.1 1626.6,1463.2 1627.6,1463.4 1628.6,1463.5 1629.6,1463.7 1630.6,1463.8 1631.6,1464.0 1632.6,1464.1 1633.6,1464.3 1634.6,1464.4 1635.6,1464.6 1636.6,1464.7 1637.6,1464.8 1638.6,1465.0 1639.6,1465.1 1640.6,1465.3 1641.6,1465.4 1642.6,1465.5 1643.6,1465.7 1644.6,1465.8 1645.6,1465.9 1646.6,1466.1 1647.6,1466.2 1648.6,1466.3 1649.6,1466.5 1650.6,1466.6 1651.6,1466.7 1652.6,1466.8 1653.6,1466.9 1654.6,1467.0 1655.6,1467.2 1656.6,1467.3 1657.6,1467.4 1658.6,1467.5 1659.6,1467.6 1660.6,1467.7 1661.6,1467.8 1662.6,1467.9 1663.6,1468.0 1664.6,1468.2 1665.6,1468.3 1666.6,1468.4 1667.6,1468.5 1668.6,1468.6 1669.6,1468.7 1670.6,1468.8 1671.6,1469.0 1672.6,1469.1 1673.6,1469.2 1674.6,1469.3 1675.6,1469.4 1676.6,1469.6 1677.6,1469.7 1678.6,1469.8 1679.6,1469.9 1680.6,1470.1 1681.6,1470.2 1682.6,1470.3 1683.6,1470.5 1684.6,1470.6 1685.6,1470.8 1686.6,1470.9 1687.6,1471.1 1688.6,1471.2 1689.6,1471.4 1690.6,1471.6 1691.6,1471.7 1692.6,1471.9 1693.6,1472.1 1694.6,1472.3 1695.6,1472.5 1696.6,1472.7 1697.6,1472.9 1698.6,1473.1 1699.6,1473.4 1700.6,1473.6 1701.6,1473.8 1702.6,1474.0 1703.6,1474.2 1704.6,1474.4 1705.6,1474.6 1706.6,1474.8 1707.6,1475.0 1708.6,1475.2 1709.6,1475.4 1710.6,1475.6 1711.6,1475.8 1712.6,1475.9 1713.6,1476.1 1714.6,1476.2 1715.6,1476.4 1716.6,1476.5 1717.6,1476.7 1718.6,1476.8 1719.6,1477.0 1720.6,1477.1 1721.6,1477.2 1722.6,1477.4 1723.6,1477.5 1724.6,1477.6 1725.6,1477.8 1726.6,1477.9 1727.6,1478.0 1728.6,1478.1 1729.6,1478.3 1730.6,1478.4 1731.6,1478.5 1732.6,1478.6 1733.6,1478.7 1734.6,1478.8 1735.6,1478.9 1736.6,1479.0 1737.6,1479.2 1738.6,1479.3 1739.6,1479.4 1740.6,1479.5 1741.6,1479.6 1742.6,1479.7 1743.6,1479.8 1744.6,1479.9 1745.6,1480.0 1746.6,1480.1 1747.6,1480.2 1748.6,1480.3 1749.6,1480.4 1750.6,1480.5 1751.6,1480.6 1752.6,1480.7 1753.6,1480.8 1754.6,1481.0 1755.6,1481.1 1756.6,1481.2 1757.6,1481.3 1758.6,1481.4 1759.6,1481.5 1760.6,1481.6 1761.6,1481.7 1762.6,1481.8 1763.6,1481.9 1764.6,1482.0 1765.6,1482.1 1766.6,1482.2 1767.6,1482.3 1768.6,1482.4 1769.6,1482.5 1770.6,1482.6 1771.6,1482.7 1772.6,1482.8 1773.6,1482.9 1774.6,1483.0 1775.6,1483.1 1776.6,1483.2 1777.6,1483.3 1778.6,1483.4 1779.6,1483.5 1780.6,1483.6 1781.6,1483.6 1782.6,1483.7 1783.6,1483.8 1784.6,1483.9 1785.6,1484.0 1786.6,1484.0 1787.6,1484.1 1788.6,1484.2 1789.6,1484.3 1790.6,1484.3 1791.6,1484.4 1792.6,1484.5 1793.6,1484.6 1794.6,1484.6 1795.6,1484.7 1796.6,1484.8 1797.6,1484.9 1798.6,1484.9 1799.6,1485.0 1800.6,1485.1 1801.6,1485.1 1802.6,1485.2 1803.6,1485.3 1804.6,1485.3 1805.6,1485.4 1806.6,1485.5 1807.6,1485.5 1808.6,1485.6 1809.6,1485.7 1810.6,1485.7 1811.6,1485.8 1812.6,1485.9 1813.6,1485.9 1814.6,1486.0 1815.6,1486.0 1816.6,1486.1 1817.6,1486.2 1818.6,1486.2 1819.6,1486.3 1820.6,1486.3 1821.6,1486.4 1822.6,1486.5 1823.6,1486.5 1824.6,1486.6 1825.6,1486.6 1826.6,1486.7 1827.6,1486.7 1828.6,1486.8 1829.6,1486.9 1830.6,1486.9 1831.6,1487.0 1832.6,1487.0 1833.6,1487.1 1834.6,1487.1 1835.6,1487.2 1836.6,1487.2 1837.6,1487.3 1838.6,1487.3 1839.6,1487.4 1840.6,1487.4 1841.6,1487.5 1842.6,1487.5 1843.6,1487.6 1844.6,1487.6 1845.6,1487.6 1846.6,1487.7 1847.6,1487.7 1848.6,1487.8 1849.6,1487.8 1850.6,1487.9 1851.6,1487.9 1852.6,1487.9 1853.6,1488.0 1854.6,1488.0 1855.6,1488.1 1856.6,1488.1 1857.6,1488.1 1858.6,1488.2 1859.6,1488.2 1860.6,1488.3 1861.6,1488.3 1862.6,1488.3 1863.6,1488.4 1864.6,1488.4 1865.6,1488.4 1866.6,1488.5 1867.6,1488.5 1868.6,1488.5 1869.6,1488.5 1870.6,1488.6 1871.6,1488.6 1872.6,1488.6 1873.6,1488.7 1874.6,1488.7 1875.6,1488.7 1876.6,1488.7 1877.6,1488.8 1878.6,1488.8 1879.6,1488.8 1880.6,1488.8 1881.6,1488.8 1882.6,1488.9 1883.6,1488.9 1884.6,1488.9 1885.6,1488.9 1886.6,1488.9 1887.6,1489.0 1888.6,1489.0 1889.6,1489.0 1890.6,1489.0 1891.6,1489.0 1892.6,1489.0 1893.6,1489.0 1894.6,1489.1 1895.6,1489.1 1896.6,1489.1 1897.6,1489.1 1898.6,1489.1 1899.6,1489.1 1900.6,1489.1 1901.6,1489.2 1902.6,1489.2 1903.6,1489.2 1904.6,1489.2 1905.6,1489.2 1906.6,1489.2 1907.6,1489.2 1908.6,1489.2 1909.6,1489.2 1910.6,1489.3 1911.6,1489.3 1912.6,1489.3 1913.6,1489.3 1914.6,1489.3 1915.6,1489.3 1916.6,1489.3 1917.6,1489.3 1918.6,1489.3 1919.6,1489.3 1920.6,1489.4 1921.6,1489.4 1922.6,1489.4 1923.6,1489.4 1924.6,1489.4 1925.6,1489.4 1926.6,1489.4 1927.6,1489.4 1928.6,1489.4 1929.6,1489.5 1930.6,1489.5 1931.6,1489.5 1932.6,1489.5 1933.6,1489.5 1934.6,1489.5 1935.6,1489.5 1936.6,1489.5 1937.6,1489.6 1938.6,1489.6 1939.6,1489.6 1940.6,1489.6 1941.6,1489.6 1942.6,1489.6 1943.6,1489.7 1944.6,1489.7 1945.6,1489.7 1946.6,1489.7 1947.6,1489.7 1948.6,1489.7 1949.6,1489.8 1950.6,1489.8 1951.6,1489.8 1952.6,1489.8 1953.6,1489.8 1954.6,1489.9 1955.6,1489.9 1956.6,1489.9 1957.6,1489.9 1958.6,1490.0 1959.6,1490.0 1960.6,1490.0 1961.6,1490.0 1962.6,1490.1 1963.6,1490.1 1964.6,1490.1 1965.6,1490.2 1966.6,1490.2 1967.6,1490.2 1968.6,1490.2 1969.6,1490.3 1970.6,1490.3 1971.6,1490.3 1972.6,1490.4 1973.6,1490.4 1974.6,1490.4 1975.6,1490.4 1976.6,1490.5 1977.6,1490.5 1978.6,1490.5 1979.6,1490.6 1980.6,1490.6 1981.6,1490.6 1982.6,1490.7 1983.6,1490.7 1984.6,1490.7 1985.6,1490.8 1986.6,1490.8 1987.6,1490.8 1988.6,1490.9 1989.6,1490.9 1990.6,1490.9 1991.6,1491.0 1992.6,1491.0 1993.6,1491.0 1994.6,1491.1 1995.6,1491.1 1996.6,1491.1 1997.6,1491.2 1998.6,1491.2 1999.6,1491.2 2000.6,1491.3 2001.6,1491.3 2002.6,1491.3 2003.6,1491.4 2004.6,1491.4 2005.6,1491.4 2006.6,1491.5 2007.6,1491.5 2008.6,1491.6 2009.6,1491.6 2010.6,1491.6 2011.6,1491.7 2012.6,1491.7 2013.6,1491.7 2014.6,1491.8 2015.6,1491.8 2016.6,1491.9 2017.6,1491.9 2018.6,1491.9 2019.6,1492.0 2020.6,1492.0 2021.6,1492.0 2022.6,1492.1 2023.6,1492.1 2024.6,1492.2 2025.6,1492.2 2026.6,1492.2 2027.6,1492.3 2028.6,1492.3 2029.6,1492.3 2030.6,1492.4 2031.6,1492.4 2032.6,1492.5 2033.6,1492.5 2034.6,1492.5 2035.6,1492.6 2036.6,1492.6 2037.6,1492.6 2038.6,1492.7 2039.6,1492.7 2040.6,1492.8 2041.6,1492.8 2042.6,1492.8 2043.6,1492.9 2044.6,1492.9 2045.6,1493.0 2046.6,1493.0 2047.6,1493.0 2048.6,1493.1 2049.6,1493.1 2050.6,1493.1 2051.6,1493.2 2052.6,1493.2 2053.6,1493.3 2054.6,1493.3 2055.6,1493.3 2056.6,1493.4 2057.6,1493.4 2058.6,1493.4 2059.6,1493.5 2060.6,1493.5 2061.6,1493.6 2062.6,1493.6 2063.6,1493.6 2064.6,1493.7 2065.6,1493.7 2066.6,1493.8 2067.6,1493.8 2068.6,1493.8 2069.6,1493.9 2070.6,1493.9 2071.6,1493.9 2072.6,1494.0 2073.6,1494.0 2074.6,1494.1 2075.6,1494.1 2076.6,1494.1 2077.6,1494.2 2078.6,1494.2 2079.6,1494.3 2080.6,1494.3 2081.6,1494.3 2082.6,1494.4 2083.6,1494.4 2084.6,1494.5 2085.6,1494.5 2086.6,1494.5 2087.6,1494.6 2088.6,1494.6 2089.6,1494.7 2090.6,1494.7 2091.6,1494.7 2092.6,1494.8 2093.6,1494.8 2094.6,1494.9 2095.6,1494.9 2096.6,1494.9 2097.6,1495.0 2098.6,1495.0 2099.6,1495.1 2100.6,1495.1 2101.6,1495.1 2102.6,1495.2 2103.6,1495.2 2104.6,1495.3 2105.6,1495.3 2106.6,1495.3 2107.6,1495.4 2108.6,1495.4 2109.6,1495.5 2110.6,1495.5 2111.6,1495.5 2112.6,1495.6 2113.6,1495.6 2114.6,1495.7 2115.6,1495.7 2116.6,1495.7 2117.6,1495.8 2118.6,1495.8 2119.6,1495.9 2120.6,1495.9 2121.6,1496.0 2122.6,1496.0 2123.6,1496.0 2124.6,1496.1 2125.6,1496.1 2126.6,1496.2 2127.6,1496.2 2128.6,1496.2 2129.6,1496.3 2130.6,1496.3 2131.6,1496.4 2132.6,1496.4 2133.6,1496.4 2134.6,1496.5 2135.6,1496.5 2136.6,1496.6 2137.6,1496.6 2138.6,1496.7 2139.6,1496.7 2140.6,1496.7 2141.6,1496.8 2142.6,1496.8 2143.6,1496.9 2144.6,1496.9 2145.6,1496.9 2146.6,1497.0 2147.6,1497.0 2148.6,1497.1 2149.6,1497.1 2150.6,1497.2 2151.6,1497.2 2152.6,1497.2 2153.6,1497.3 2154.6,1497.3 2155.6,1497.4 2156.6,1497.4 2157.6,1497.4 2158.6,1497.5 2159.6,1497.5 2160.6,1497.6 2161.6,1497.6 2162.6,1497.6 2163.6,1497.7 2164.6,1497.7 2165.6,1497.8 2166.6,1497.8 2167.6,1497.9 2168.6,1497.9 2169.6,1497.9 2170.6,1498.0 2171.6,1498.0 2172.6,1498.1 2173.6,1498.1 2174.6,1498.1 2175.6,1498.2 2176.6,1498.2 2177.6,1498.3 2178.6,1498.3" fill="none" stroke="#8000ff" stroke-width="4" stroke-linejoin="round" stroke-linecap="round" />
<line x1="1533.5" y1="1457.1" x2="1533.5" y2="1539.5" stroke="#cc80e0" stroke-width="2.6" stroke-dasharray="4.5 4"/>
<line x1="1782.8" y1="1401.1" x2="1782.8" y2="1539.5" stroke="#cc80e0" stroke-width="2.6" stroke-dasharray="4.5 4"/>
<line x1="1861.5" y1="1384.7" x2="1861.5" y2="1539.5" stroke="#cc80e0" stroke-width="2.6" stroke-dasharray="4.5 4"/>
<line x1="1937.0" y1="934.9" x2="1937.0" y2="1539.5" stroke="#cc80e0" stroke-width="2.6" stroke-dasharray="4.5 4"/>
<line x1="1851" y1="1380" x2="1814.3" y2="1315.5" stroke="#000" stroke-width="4"/>
<polygon points="1800.4,1291.2 1824.4,1312.1 1806.1,1322.5" fill="#000"/>
<line x1="1777" y1="1430.5" x2="1755.3" y2="1393.1" stroke="#000" stroke-width="4"/>
<polygon points="1741.2,1368.9 1765.4,1389.6 1747.2,1400.1" fill="#000"/>
<text x="1129.58" y="932.50" style="font-family:'Liberation Serif','Times New Roman',serif;font-weight:bold;font-size:89px;letter-spacing:4px" fill="#000">(c)</text>
<text transform="translate(1365.90,938.26) scale(1.0143,1)" style="font-family:'Liberation Serif','Times New Roman',serif;font-weight:bold;font-size:54.18px" fill="#000">N 1s</text>
<text transform="translate(1975.00,954.01) scale(0.9200,1)" style="font-family:'Liberation Serif','Times New Roman',serif;font-weight:bold;font-size:42.92px;letter-spacing:1.532px" fill="#000">397.72 eV</text>
<text transform="translate(1673.50,1281.11) scale(0.9200,1)" style="font-family:'Liberation Serif','Times New Roman',serif;font-weight:bold;font-size:42.96px;letter-spacing:1.334px" fill="#000">398.87 eV</text>
<text transform="translate(1589.47,1355.34) scale(0.9200,1)" style="font-family:'Liberation Serif','Times New Roman',serif;font-weight:bold;font-size:41.06px;letter-spacing:2.273px" fill="#000">400.07 eV</text>
<text transform="translate(1440.95,1428.02) scale(0.9200,1)" style="font-family:'Liberation Serif','Times New Roman',serif;font-weight:bold;font-size:42.52px;letter-spacing:1.487px" fill="#000">403.87 eV</text>
<text transform="translate(1233.41,1590.00) scale(0.8900,1)" style="font-family:'Liberation Serif','Times New Roman',serif;font-weight:bold;font-size:40.20px;letter-spacing:3.607px" fill="#000">408</text>
<text transform="translate(1364.53,1590.00) scale(0.8900,1)" style="font-family:'Liberation Serif','Times New Roman',serif;font-weight:bold;font-size:40.20px;letter-spacing:3.617px" fill="#000">406</text>
<text transform="translate(1495.49,1590.00) scale(0.8900,1)" style="font-family:'Liberation Serif','Times New Roman',serif;font-weight:bold;font-size:40.20px;letter-spacing:3.647px" fill="#000">404</text>
<text transform="translate(1627.17,1590.00) scale(0.8900,1)" style="font-family:'Liberation Serif','Times New Roman',serif;font-weight:bold;font-size:40.20px;letter-spacing:3.587px" fill="#000">402</text>
<text transform="translate(1758.29,1590.00) scale(0.8900,1)" style="font-family:'Liberation Serif','Times New Roman',serif;font-weight:bold;font-size:40.20px;letter-spacing:3.597px" fill="#000">400</text>
<text transform="translate(1889.04,1590.00) scale(0.8900,1)" style="font-family:'Liberation Serif','Times New Roman',serif;font-weight:bold;font-size:40.20px;letter-spacing:3.548px" fill="#000">398</text>
<text transform="translate(2020.16,1590.00) scale(0.8900,1)" style="font-family:'Liberation Serif','Times New Roman',serif;font-weight:bold;font-size:40.20px;letter-spacing:3.557px" fill="#000">396</text>
<text transform="translate(2151.12,1590.00) scale(0.8900,1)" style="font-family:'Liberation Serif','Times New Roman',serif;font-weight:bold;font-size:40.20px;letter-spacing:3.587px" fill="#000">394</text>
<text x="1481.02" y="1672.30" style="font-family:'Liberation Serif','Times New Roman',serif;font-weight:bold;font-size:54.75px;letter-spacing:0px" fill="#000">Binding Energy (eV)</text>
<text transform="translate(1193.00,1405.66) rotate(-90)" style="font-family:'Liberation Serif','Times New Roman',serif;font-weight:bold;font-size:54.6px" fill="#000">Intensity (a.u.)</text>
</g></svg></body></html>
